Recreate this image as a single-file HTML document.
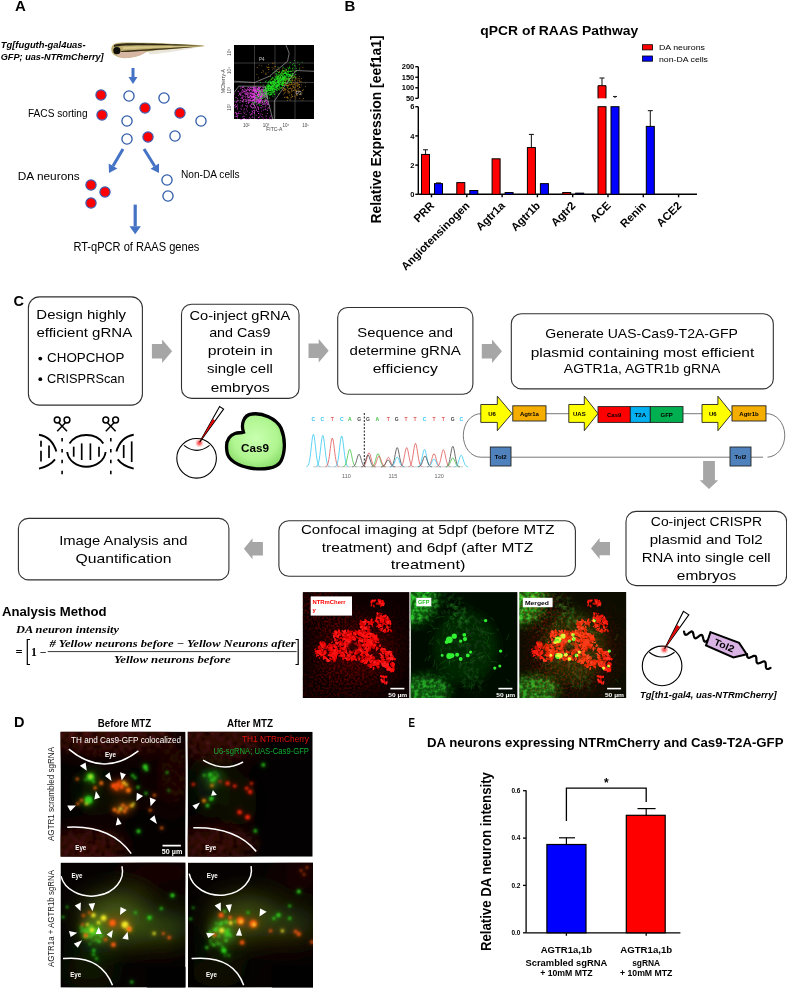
<!DOCTYPE html>
<html><head><meta charset="utf-8"><style>
html,body{margin:0;padding:0;background:#fff;}
body{width:787px;height:990px;overflow:hidden;position:relative;-webkit-font-smoothing:antialiased;}
svg{position:absolute;left:0;top:0;will-change:transform;}
text{font-family:"Liberation Sans", sans-serif;}
</style></head><body>
<svg width="787" height="990" viewBox="0 0 787 990">
<defs>
<filter id="blur1" x="-20%" y="-20%" width="140%" height="140%"><feGaussianBlur stdDeviation="1"/></filter>
<filter id="blur05" x="-20%" y="-20%" width="140%" height="140%"><feGaussianBlur stdDeviation="0.5"/></filter>
<filter id="blur2" x="-50%" y="-50%" width="200%" height="200%"><feGaussianBlur stdDeviation="2"/></filter>
<filter id="blur4" x="-100%" y="-100%" width="300%" height="300%"><feGaussianBlur stdDeviation="5"/></filter>
<filter id="blur8" x="-100%" y="-100%" width="300%" height="300%"><feGaussianBlur stdDeviation="12"/></filter>
</defs>

<text x="15" y="11" font-size="15" font-weight="bold" fill="#000">A</text>
<text x="0.7" y="47.8" font-size="9.8" font-weight="bold" font-style="italic" textLength="85" lengthAdjust="spacingAndGlyphs" fill="#000">Tg[fuguth-gal4uas-</text>
<text x="0.7" y="60.3" font-size="9.8" font-weight="bold" font-style="italic" textLength="103" lengthAdjust="spacingAndGlyphs" fill="#000">GFP; uas-NTRmCherry]</text>
<g>
<path d="M146,49.5 C165,48 185,46.5 203,46.3 C190,49 170,52.5 150,54.5 Z" fill="#e9e5da"/>
<path d="M111.3,50 C111,46 113.5,43 119,42.7 C135,42.3 160,43.4 189,44.4 C196,44.8 201,45.1 204.2,45.6 L204.2,46.3 C198,46.9 190,47.6 180,48.5 C165,49.5 152,50.5 147,51.8 C143,54 138,57.2 127,58.1 C118,58.5 111.5,55 111.3,50 Z" fill="#bfae6e"/>
<path d="M120,52 C128,50.5 140,50.2 147,51.8 C143,54 138,57.2 127,58.1 C121,58.2 117,56 116,54 Z" fill="#d7b6a4"/>
<path d="M114,45 C120,42.6 140,42.6 204,45.6 C170,45.2 140,44.8 125,45.6 C120,46 117,46.5 114,47 Z" fill="#2e2a16"/>
<path d="M121,51 C135,49.8 165,48.2 204,46 C175,48.8 150,50.6 135,51.5 C128,52 123,52.2 121,52 Z" fill="#3c3418"/>
<path d="M123,47 C140,46 170,45.8 200,45.9 C170,47 140,48.3 123,49 Z" fill="#d6c88a"/>
<circle cx="116.9" cy="50.7" r="3.6" fill="#0e0e0a"/>
</g>
<line x1="133" y1="68" x2="133.00" y2="77.00" stroke="#4472c4" stroke-width="3"/>
<polygon points="133,84 128.50,77.00 137.50,77.00" fill="#4472c4"/>
<line x1="123" y1="149" x2="113.03" y2="166.09" stroke="#4472c4" stroke-width="3"/>
<polygon points="109,173 108.71,163.57 117.35,168.61" fill="#4472c4"/>
<line x1="144" y1="149" x2="154.76" y2="166.22" stroke="#4472c4" stroke-width="3"/>
<polygon points="159,173 150.52,168.87 159.00,163.57" fill="#4472c4"/>
<line x1="135.2" y1="204.6" x2="135.20" y2="226.30" stroke="#4472c4" stroke-width="3.2"/>
<polygon points="135.2,234.3 129.50,226.30 140.90,226.30" fill="#4472c4"/>
<circle cx="101" cy="95" r="5.1" fill="#f00" stroke="#3a5ab0" stroke-width="1.2"/>
<circle cx="102" cy="115" r="5.1" fill="#f00" stroke="#3a5ab0" stroke-width="1.2"/>
<circle cx="145" cy="108" r="5.1" fill="#f00" stroke="#3a5ab0" stroke-width="1.2"/>
<circle cx="180" cy="113" r="5.1" fill="#f00" stroke="#3a5ab0" stroke-width="1.2"/>
<circle cx="148" cy="137" r="5.1" fill="#f00" stroke="#3a5ab0" stroke-width="1.2"/>
<circle cx="91" cy="185" r="5.1" fill="#f00" stroke="#3a5ab0" stroke-width="1.2"/>
<circle cx="105" cy="192" r="5.1" fill="#f00" stroke="#3a5ab0" stroke-width="1.2"/>
<circle cx="91" cy="203" r="5.1" fill="#f00" stroke="#3a5ab0" stroke-width="1.2"/>
<circle cx="129" cy="96" r="5.1" fill="#fff" stroke="#2f5aa8" stroke-width="1.3"/>
<circle cx="164" cy="98" r="5.1" fill="#fff" stroke="#2f5aa8" stroke-width="1.3"/>
<circle cx="201" cy="121" r="5.1" fill="#fff" stroke="#2f5aa8" stroke-width="1.3"/>
<circle cx="127" cy="121" r="5.1" fill="#fff" stroke="#2f5aa8" stroke-width="1.3"/>
<circle cx="127" cy="139" r="5.1" fill="#fff" stroke="#2f5aa8" stroke-width="1.3"/>
<circle cx="175" cy="136" r="5.1" fill="#fff" stroke="#2f5aa8" stroke-width="1.3"/>
<circle cx="167" cy="180" r="5.1" fill="#fff" stroke="#2f5aa8" stroke-width="1.3"/>
<circle cx="168" cy="196" r="5.1" fill="#fff" stroke="#2f5aa8" stroke-width="1.3"/>
<text x="28" y="116.8" font-size="10" textLength="59.6" lengthAdjust="spacingAndGlyphs" fill="#000">FACS sorting</text>
<text x="17.8" y="180.3" font-size="11" textLength="62" lengthAdjust="spacingAndGlyphs" fill="#000">DA neurons</text>
<text x="180.9" y="178.3" font-size="10" textLength="58.8" lengthAdjust="spacingAndGlyphs" fill="#000">Non-DA cells</text>
<text x="73.4" y="251" font-size="13" textLength="126" lengthAdjust="spacingAndGlyphs" fill="#000">RT-qPCR of RAAS genes</text>
<rect x="234" y="45" width="80" height="74" fill="#000"/>
<g stroke="#707070" stroke-width="0.5">
<line x1="254.5" y1="45" x2="254.5" y2="119"/>
<line x1="275" y1="45" x2="275" y2="119"/>
<line x1="295" y1="45" x2="295" y2="119"/>
<line x1="234" y1="63" x2="314" y2="63"/>
<line x1="234" y1="82.5" x2="314" y2="82.5"/>
<line x1="234" y1="101" x2="314" y2="101"/>
</g>
<g>
<path d="M294.7,83.7h0.8v0.8h-0.8zM286.7,84.6h0.8v0.8h-0.8zM291.7,83.6h0.8v0.8h-0.8zM284.5,84.3h0.8v0.8h-0.8zM297.9,84.6h0.8v0.8h-0.8zM287.8,86.3h0.8v0.8h-0.8zM287.6,88.0h0.8v0.8h-0.8zM285.6,83.5h0.8v0.8h-0.8zM297.3,78.5h0.8v0.8h-0.8zM294.0,75.8h0.8v0.8h-0.8zM291.3,94.0h0.8v0.8h-0.8zM287.5,92.4h0.8v0.8h-0.8zM301.5,92.6h0.8v0.8h-0.8zM305.0,82.4h0.8v0.8h-0.8zM292.1,87.9h0.8v0.8h-0.8zM279.4,88.4h0.8v0.8h-0.8zM284.4,79.6h0.8v0.8h-0.8zM292.5,86.5h0.8v0.8h-0.8zM297.3,82.8h0.8v0.8h-0.8zM284.5,88.0h0.8v0.8h-0.8zM285.5,89.1h0.8v0.8h-0.8zM294.9,89.5h0.8v0.8h-0.8zM291.4,89.3h0.8v0.8h-0.8zM283.0,90.4h0.8v0.8h-0.8zM299.4,79.5h0.8v0.8h-0.8zM292.5,80.3h0.8v0.8h-0.8zM288.8,83.2h0.8v0.8h-0.8zM289.0,91.6h0.8v0.8h-0.8zM276.0,75.4h0.8v0.8h-0.8zM294.9,87.0h0.8v0.8h-0.8zM281.6,88.5h0.8v0.8h-0.8zM293.3,81.8h0.8v0.8h-0.8zM305.0,86.3h0.8v0.8h-0.8zM295.9,90.7h0.8v0.8h-0.8zM291.0,89.8h0.8v0.8h-0.8zM288.8,78.1h0.8v0.8h-0.8zM287.1,90.5h0.8v0.8h-0.8zM301.0,78.2h0.8v0.8h-0.8zM301.9,90.3h0.8v0.8h-0.8zM293.2,90.3h0.8v0.8h-0.8zM282.7,87.2h0.8v0.8h-0.8zM288.2,85.0h0.8v0.8h-0.8zM301.1,84.5h0.8v0.8h-0.8zM278.8,73.7h0.8v0.8h-0.8zM299.0,85.9h0.8v0.8h-0.8zM283.1,90.0h0.8v0.8h-0.8zM290.9,84.2h0.8v0.8h-0.8zM288.9,78.4h0.8v0.8h-0.8zM288.4,83.8h0.8v0.8h-0.8zM298.2,88.4h0.8v0.8h-0.8zM287.5,98.0h0.8v0.8h-0.8zM298.7,84.3h0.8v0.8h-0.8zM295.1,83.4h0.8v0.8h-0.8zM287.9,91.1h0.8v0.8h-0.8zM290.0,87.4h0.8v0.8h-0.8zM284.7,89.6h0.8v0.8h-0.8zM296.7,84.9h0.8v0.8h-0.8zM291.1,83.4h0.8v0.8h-0.8zM290.7,91.8h0.8v0.8h-0.8zM291.7,80.2h0.8v0.8h-0.8zM299.3,80.9h0.8v0.8h-0.8zM298.8,75.9h0.8v0.8h-0.8zM287.6,78.4h0.8v0.8h-0.8zM294.4,83.5h0.8v0.8h-0.8zM284.4,82.3h0.8v0.8h-0.8zM289.3,94.7h0.8v0.8h-0.8zM292.3,96.1h0.8v0.8h-0.8zM296.8,94.8h0.8v0.8h-0.8zM280.6,72.9h0.8v0.8h-0.8zM284.7,77.8h0.8v0.8h-0.8zM282.8,78.5h0.8v0.8h-0.8zM283.3,70.3h0.8v0.8h-0.8zM298.6,78.1h0.8v0.8h-0.8zM293.3,86.9h0.8v0.8h-0.8zM293.7,71.3h0.8v0.8h-0.8zM295.4,98.4h0.8v0.8h-0.8zM297.3,86.2h0.8v0.8h-0.8zM295.4,90.4h0.8v0.8h-0.8zM295.5,78.1h0.8v0.8h-0.8zM295.5,79.3h0.8v0.8h-0.8zM295.4,89.4h0.8v0.8h-0.8zM286.5,80.2h0.8v0.8h-0.8zM298.7,85.8h0.8v0.8h-0.8zM283.6,89.9h0.8v0.8h-0.8zM287.1,90.5h0.8v0.8h-0.8zM289.4,92.8h0.8v0.8h-0.8zM296.6,84.3h0.8v0.8h-0.8zM294.4,80.0h0.8v0.8h-0.8zM278.8,92.9h0.8v0.8h-0.8zM289.0,80.2h0.8v0.8h-0.8zM299.4,98.0h0.8v0.8h-0.8zM287.0,97.1h0.8v0.8h-0.8zM295.3,81.5h0.8v0.8h-0.8zM289.4,88.2h0.8v0.8h-0.8zM291.0,82.3h0.8v0.8h-0.8zM290.0,84.5h0.8v0.8h-0.8zM297.1,94.8h0.8v0.8h-0.8zM290.8,88.0h0.8v0.8h-0.8zM294.1,89.7h0.8v0.8h-0.8zM295.1,85.5h0.8v0.8h-0.8zM293.2,89.9h0.8v0.8h-0.8zM287.4,90.3h0.8v0.8h-0.8zM285.5,81.7h0.8v0.8h-0.8zM282.3,80.9h0.8v0.8h-0.8zM289.9,84.7h0.8v0.8h-0.8zM296.6,94.0h0.8v0.8h-0.8zM286.9,85.6h0.8v0.8h-0.8zM297.5,80.3h0.8v0.8h-0.8zM283.9,84.7h0.8v0.8h-0.8zM299.1,80.4h0.8v0.8h-0.8zM290.0,75.3h0.8v0.8h-0.8zM284.7,83.2h0.8v0.8h-0.8zM279.6,78.7h0.8v0.8h-0.8zM288.4,84.7h0.8v0.8h-0.8zM287.8,97.6h0.8v0.8h-0.8zM291.3,90.7h0.8v0.8h-0.8zM295.3,96.6h0.8v0.8h-0.8zM291.3,71.3h0.8v0.8h-0.8zM283.5,76.3h0.8v0.8h-0.8zM292.0,96.0h0.8v0.8h-0.8zM281.8,86.8h0.8v0.8h-0.8zM293.9,83.8h0.8v0.8h-0.8zM299.3,83.9h0.8v0.8h-0.8zM295.8,91.1h0.8v0.8h-0.8zM283.9,70.6h0.8v0.8h-0.8zM293.9,76.6h0.8v0.8h-0.8zM291.6,80.7h0.8v0.8h-0.8zM294.0,83.4h0.8v0.8h-0.8zM289.3,84.3h0.8v0.8h-0.8zM292.6,83.7h0.8v0.8h-0.8zM295.6,76.6h0.8v0.8h-0.8zM286.0,85.3h0.8v0.8h-0.8zM287.5,78.2h0.8v0.8h-0.8zM287.6,81.3h0.8v0.8h-0.8zM295.2,92.6h0.8v0.8h-0.8zM289.9,81.9h0.8v0.8h-0.8zM292.3,76.4h0.8v0.8h-0.8zM293.3,86.0h0.8v0.8h-0.8zM277.9,82.1h0.8v0.8h-0.8zM302.5,90.2h0.8v0.8h-0.8zM286.6,79.1h0.8v0.8h-0.8zM283.5,88.3h0.8v0.8h-0.8zM292.1,85.8h0.8v0.8h-0.8zM289.5,88.3h0.8v0.8h-0.8zM294.4,87.7h0.8v0.8h-0.8zM284.0,81.9h0.8v0.8h-0.8zM294.1,95.8h0.8v0.8h-0.8zM297.5,83.2h0.8v0.8h-0.8zM284.2,97.3h0.8v0.8h-0.8zM296.9,81.7h0.8v0.8h-0.8zM300.6,94.4h0.8v0.8h-0.8zM287.4,84.9h0.8v0.8h-0.8zM293.3,84.4h0.8v0.8h-0.8zM287.0,100.3h0.8v0.8h-0.8zM285.3,79.7h0.8v0.8h-0.8zM283.4,83.9h0.8v0.8h-0.8zM285.4,82.3h0.8v0.8h-0.8zM291.3,78.5h0.8v0.8h-0.8zM292.6,77.6h0.8v0.8h-0.8zM286.7,82.8h0.8v0.8h-0.8zM289.6,99.3h0.8v0.8h-0.8zM299.4,67.6h0.8v0.8h-0.8zM302.8,89.0h0.8v0.8h-0.8zM289.6,78.1h0.8v0.8h-0.8zM301.4,81.5h0.8v0.8h-0.8zM289.8,75.0h0.8v0.8h-0.8zM283.5,70.9h0.8v0.8h-0.8zM285.3,82.5h0.8v0.8h-0.8zM291.3,94.7h0.8v0.8h-0.8zM299.1,90.6h0.8v0.8h-0.8zM290.8,96.6h0.8v0.8h-0.8zM291.6,79.7h0.8v0.8h-0.8zM296.1,82.6h0.8v0.8h-0.8zM301.8,99.7h0.8v0.8h-0.8zM288.2,92.4h0.8v0.8h-0.8zM297.9,90.5h0.8v0.8h-0.8zM297.3,84.8h0.8v0.8h-0.8zM284.9,91.6h0.8v0.8h-0.8zM292.1,76.4h0.8v0.8h-0.8zM291.1,82.3h0.8v0.8h-0.8zM302.5,66.9h0.8v0.8h-0.8zM299.6,87.1h0.8v0.8h-0.8zM297.1,88.5h0.8v0.8h-0.8zM284.7,96.7h0.8v0.8h-0.8zM286.0,97.2h0.8v0.8h-0.8zM286.1,69.1h0.8v0.8h-0.8zM289.7,76.3h0.8v0.8h-0.8zM291.9,90.6h0.8v0.8h-0.8zM283.1,93.7h0.8v0.8h-0.8zM289.7,80.5h0.8v0.8h-0.8zM295.7,94.9h0.8v0.8h-0.8zM291.9,76.5h0.8v0.8h-0.8zM298.5,90.2h0.8v0.8h-0.8zM284.2,82.2h0.8v0.8h-0.8zM291.3,94.2h0.8v0.8h-0.8zM283.8,88.7h0.8v0.8h-0.8zM303.1,98.1h0.8v0.8h-0.8zM286.7,95.9h0.8v0.8h-0.8zM287.9,89.5h0.8v0.8h-0.8zM296.4,90.3h0.8v0.8h-0.8zM298.8,93.7h0.8v0.8h-0.8zM295.6,85.7h0.8v0.8h-0.8zM285.9,85.5h0.8v0.8h-0.8zM299.1,87.2h0.8v0.8h-0.8zM288.5,79.7h0.8v0.8h-0.8zM284.6,89.5h0.8v0.8h-0.8zM284.5,88.5h0.8v0.8h-0.8zM290.6,97.5h0.8v0.8h-0.8zM292.8,77.1h0.8v0.8h-0.8zM293.8,87.5h0.8v0.8h-0.8zM288.7,88.3h0.8v0.8h-0.8zM289.7,99.6h0.8v0.8h-0.8zM295.6,89.5h0.8v0.8h-0.8zM284.0,92.6h0.8v0.8h-0.8zM300.2,81.5h0.8v0.8h-0.8zM285.7,78.1h0.8v0.8h-0.8zM268.0,66.7h0.8v0.8h-0.8zM276.3,68.9h0.8v0.8h-0.8zM256.5,74.2h0.8v0.8h-0.8zM272.1,63.3h0.8v0.8h-0.8zM268.1,63.9h0.8v0.8h-0.8zM279.1,78.4h0.8v0.8h-0.8zM284.7,70.3h0.8v0.8h-0.8zM268.1,69.3h0.8v0.8h-0.8zM256.8,67.1h0.8v0.8h-0.8zM279.3,70.8h0.8v0.8h-0.8zM268.6,76.0h0.8v0.8h-0.8zM261.3,65.4h0.8v0.8h-0.8zM267.3,67.1h0.8v0.8h-0.8zM283.9,79.2h0.8v0.8h-0.8zM272.4,69.4h0.8v0.8h-0.8zM260.4,79.7h0.8v0.8h-0.8zM264.9,73.7h0.8v0.8h-0.8zM273.6,62.6h0.8v0.8h-0.8zM271.7,67.3h0.8v0.8h-0.8zM270.6,78.9h0.8v0.8h-0.8zM278.2,76.0h0.8v0.8h-0.8zM278.6,68.9h0.8v0.8h-0.8zM277.1,70.9h0.8v0.8h-0.8zM280.4,76.1h0.8v0.8h-0.8zM268.6,67.3h0.8v0.8h-0.8zM282.4,68.2h0.8v0.8h-0.8zM266.3,66.4h0.8v0.8h-0.8zM284.3,77.1h0.8v0.8h-0.8zM258.8,64.8h0.8v0.8h-0.8zM265.5,72.7h0.8v0.8h-0.8zM286.0,70.5h0.8v0.8h-0.8zM267.6,71.8h0.8v0.8h-0.8zM263.0,71.5h0.8v0.8h-0.8zM272.5,78.5h0.8v0.8h-0.8zM268.5,68.9h0.8v0.8h-0.8zM284.8,62.2h0.8v0.8h-0.8zM281.6,72.3h0.8v0.8h-0.8zM272.9,67.7h0.8v0.8h-0.8zM279.8,77.9h0.8v0.8h-0.8zM282.2,73.3h0.8v0.8h-0.8zM262.6,69.9h0.8v0.8h-0.8zM261.3,72.2h0.8v0.8h-0.8zM277.6,67.4h0.8v0.8h-0.8zM282.9,70.5h0.8v0.8h-0.8zM279.1,71.5h0.8v0.8h-0.8zM282.5,77.5h0.8v0.8h-0.8zM275.2,66.3h0.8v0.8h-0.8zM258.1,77.4h0.8v0.8h-0.8zM265.8,73.8h0.8v0.8h-0.8zM274.3,66.0h0.8v0.8h-0.8z" fill="#b07818"/>
<path d="M250.1,91.9h0.8v0.8h-0.8zM258.4,117.2h0.8v0.8h-0.8zM261.1,97.6h0.8v0.8h-0.8zM254.0,90.9h0.8v0.8h-0.8zM252.5,91.3h0.8v0.8h-0.8zM238.2,111.8h0.8v0.8h-0.8zM257.0,89.1h0.8v0.8h-0.8zM249.8,118.0h0.8v0.8h-0.8zM253.8,92.4h0.8v0.8h-0.8zM243.1,86.9h0.8v0.8h-0.8zM250.0,88.8h0.8v0.8h-0.8zM259.4,92.5h0.8v0.8h-0.8zM255.8,95.4h0.8v0.8h-0.8zM262.7,95.4h0.8v0.8h-0.8zM247.5,92.1h0.8v0.8h-0.8zM260.8,90.8h0.8v0.8h-0.8zM246.1,118.8h0.8v0.8h-0.8zM246.6,96.0h0.8v0.8h-0.8zM242.9,95.4h0.8v0.8h-0.8zM239.8,94.0h0.8v0.8h-0.8zM256.7,98.0h0.8v0.8h-0.8zM242.3,89.6h0.8v0.8h-0.8zM258.2,96.4h0.8v0.8h-0.8zM242.2,87.3h0.8v0.8h-0.8zM258.9,102.4h0.8v0.8h-0.8zM259.1,87.7h0.8v0.8h-0.8zM261.6,95.9h0.8v0.8h-0.8zM255.0,86.5h0.8v0.8h-0.8zM264.4,92.1h0.8v0.8h-0.8zM258.9,98.2h0.8v0.8h-0.8zM253.6,98.0h0.8v0.8h-0.8zM255.2,98.3h0.8v0.8h-0.8zM241.5,92.4h0.8v0.8h-0.8zM258.3,108.6h0.8v0.8h-0.8zM258.1,100.7h0.8v0.8h-0.8zM260.8,94.3h0.8v0.8h-0.8zM237.3,103.8h0.8v0.8h-0.8zM262.7,94.2h0.8v0.8h-0.8zM243.3,90.8h0.8v0.8h-0.8zM251.5,93.0h0.8v0.8h-0.8zM250.1,94.8h0.8v0.8h-0.8zM242.1,86.8h0.8v0.8h-0.8zM255.0,97.8h0.8v0.8h-0.8zM265.2,87.4h0.8v0.8h-0.8zM255.6,91.0h0.8v0.8h-0.8zM252.7,97.1h0.8v0.8h-0.8zM260.8,102.8h0.8v0.8h-0.8zM260.1,100.8h0.8v0.8h-0.8zM258.6,96.2h0.8v0.8h-0.8zM234.6,112.4h0.8v0.8h-0.8zM235.6,105.4h0.8v0.8h-0.8zM262.9,103.9h0.8v0.8h-0.8zM259.8,114.8h0.8v0.8h-0.8zM252.8,99.8h0.8v0.8h-0.8zM248.3,102.2h0.8v0.8h-0.8zM261.3,88.7h0.8v0.8h-0.8zM247.9,118.8h0.8v0.8h-0.8zM250.0,99.8h0.8v0.8h-0.8zM253.3,86.5h0.8v0.8h-0.8zM237.0,99.8h0.8v0.8h-0.8zM258.4,111.2h0.8v0.8h-0.8zM251.7,102.9h0.8v0.8h-0.8zM260.4,95.1h0.8v0.8h-0.8zM262.3,101.9h0.8v0.8h-0.8zM262.5,102.1h0.8v0.8h-0.8zM262.2,92.9h0.8v0.8h-0.8zM259.9,94.4h0.8v0.8h-0.8zM254.4,90.4h0.8v0.8h-0.8zM240.6,98.3h0.8v0.8h-0.8zM258.3,87.5h0.8v0.8h-0.8zM252.4,107.9h0.8v0.8h-0.8zM255.9,104.6h0.8v0.8h-0.8zM253.8,100.9h0.8v0.8h-0.8zM256.5,93.0h0.8v0.8h-0.8zM243.3,117.9h0.8v0.8h-0.8zM250.0,93.5h0.8v0.8h-0.8zM243.0,99.0h0.8v0.8h-0.8zM265.7,94.2h0.8v0.8h-0.8zM264.0,103.8h0.8v0.8h-0.8zM251.1,113.7h0.8v0.8h-0.8zM255.4,88.0h0.8v0.8h-0.8zM256.1,99.4h0.8v0.8h-0.8zM237.1,113.5h0.8v0.8h-0.8zM240.3,100.2h0.8v0.8h-0.8zM253.8,102.8h0.8v0.8h-0.8zM267.1,110.2h0.8v0.8h-0.8zM245.1,97.5h0.8v0.8h-0.8zM267.9,104.2h0.8v0.8h-0.8zM251.5,99.8h0.8v0.8h-0.8zM261.5,93.4h0.8v0.8h-0.8zM254.0,90.1h0.8v0.8h-0.8zM240.3,118.9h0.8v0.8h-0.8zM243.8,86.5h0.8v0.8h-0.8zM238.3,91.0h0.8v0.8h-0.8zM258.5,96.4h0.8v0.8h-0.8zM264.5,96.1h0.8v0.8h-0.8zM242.1,105.7h0.8v0.8h-0.8zM249.2,88.7h0.8v0.8h-0.8zM251.2,97.5h0.8v0.8h-0.8zM256.6,97.4h0.8v0.8h-0.8zM260.9,93.4h0.8v0.8h-0.8zM261.8,92.6h0.8v0.8h-0.8zM245.7,114.0h0.8v0.8h-0.8zM250.4,98.1h0.8v0.8h-0.8zM265.6,104.9h0.8v0.8h-0.8zM250.8,90.6h0.8v0.8h-0.8zM270.1,115.7h0.8v0.8h-0.8zM247.7,87.3h0.8v0.8h-0.8zM255.7,101.5h0.8v0.8h-0.8zM258.5,94.1h0.8v0.8h-0.8zM255.7,88.0h0.8v0.8h-0.8zM254.5,110.0h0.8v0.8h-0.8zM244.3,98.7h0.8v0.8h-0.8zM252.9,96.7h0.8v0.8h-0.8zM246.2,108.6h0.8v0.8h-0.8zM261.1,100.5h0.8v0.8h-0.8zM257.5,88.8h0.8v0.8h-0.8zM264.7,108.9h0.8v0.8h-0.8zM236.0,112.8h0.8v0.8h-0.8zM234.7,116.2h0.8v0.8h-0.8zM257.2,111.2h0.8v0.8h-0.8zM255.3,95.0h0.8v0.8h-0.8zM265.5,103.0h0.8v0.8h-0.8zM258.9,90.8h0.8v0.8h-0.8zM244.0,108.4h0.8v0.8h-0.8zM249.2,117.0h0.8v0.8h-0.8zM259.6,96.9h0.8v0.8h-0.8zM259.9,102.6h0.8v0.8h-0.8zM248.2,100.1h0.8v0.8h-0.8zM262.8,91.3h0.8v0.8h-0.8zM256.3,98.8h0.8v0.8h-0.8zM260.5,94.2h0.8v0.8h-0.8zM257.9,91.3h0.8v0.8h-0.8zM252.2,111.8h0.8v0.8h-0.8zM267.0,96.0h0.8v0.8h-0.8zM245.9,99.6h0.8v0.8h-0.8zM258.0,113.1h0.8v0.8h-0.8zM244.2,88.5h0.8v0.8h-0.8zM240.7,113.3h0.8v0.8h-0.8zM244.5,93.2h0.8v0.8h-0.8zM250.7,104.5h0.8v0.8h-0.8zM254.2,92.7h0.8v0.8h-0.8zM258.5,92.6h0.8v0.8h-0.8zM251.5,107.1h0.8v0.8h-0.8zM264.6,101.1h0.8v0.8h-0.8zM261.9,93.0h0.8v0.8h-0.8zM258.5,87.0h0.8v0.8h-0.8zM237.7,100.2h0.8v0.8h-0.8zM256.0,99.7h0.8v0.8h-0.8zM242.2,116.4h0.8v0.8h-0.8zM258.6,102.2h0.8v0.8h-0.8zM260.5,89.2h0.8v0.8h-0.8zM253.4,88.5h0.8v0.8h-0.8zM258.8,95.3h0.8v0.8h-0.8zM252.4,93.6h0.8v0.8h-0.8zM259.7,90.2h0.8v0.8h-0.8zM239.5,111.2h0.8v0.8h-0.8zM258.7,89.4h0.8v0.8h-0.8zM253.5,95.5h0.8v0.8h-0.8zM240.3,95.0h0.8v0.8h-0.8zM246.7,110.6h0.8v0.8h-0.8zM259.9,97.4h0.8v0.8h-0.8zM269.2,105.7h0.8v0.8h-0.8zM261.2,94.6h0.8v0.8h-0.8zM236.8,108.7h0.8v0.8h-0.8zM248.2,102.0h0.8v0.8h-0.8zM251.0,103.4h0.8v0.8h-0.8zM247.9,89.1h0.8v0.8h-0.8zM263.4,95.1h0.8v0.8h-0.8zM242.7,101.6h0.8v0.8h-0.8zM256.7,95.4h0.8v0.8h-0.8zM261.1,92.9h0.8v0.8h-0.8zM264.1,103.7h0.8v0.8h-0.8zM250.5,106.5h0.8v0.8h-0.8zM262.3,100.5h0.8v0.8h-0.8zM252.5,116.8h0.8v0.8h-0.8zM246.7,99.6h0.8v0.8h-0.8zM269.1,107.8h0.8v0.8h-0.8zM253.8,101.1h0.8v0.8h-0.8zM253.3,104.1h0.8v0.8h-0.8zM253.4,89.9h0.8v0.8h-0.8zM253.9,98.6h0.8v0.8h-0.8zM251.2,106.5h0.8v0.8h-0.8zM251.5,94.1h0.8v0.8h-0.8zM258.9,88.8h0.8v0.8h-0.8zM249.0,99.8h0.8v0.8h-0.8zM266.5,102.3h0.8v0.8h-0.8zM258.5,92.9h0.8v0.8h-0.8zM263.0,93.1h0.8v0.8h-0.8zM254.5,99.8h0.8v0.8h-0.8zM249.0,87.7h0.8v0.8h-0.8zM262.2,94.3h0.8v0.8h-0.8zM246.9,97.8h0.8v0.8h-0.8zM258.3,94.2h0.8v0.8h-0.8zM263.2,103.5h0.8v0.8h-0.8zM265.4,106.4h0.8v0.8h-0.8zM258.5,89.2h0.8v0.8h-0.8zM263.8,95.4h0.8v0.8h-0.8zM260.7,107.8h0.8v0.8h-0.8zM242.9,99.1h0.8v0.8h-0.8zM247.0,105.4h0.8v0.8h-0.8zM259.4,100.9h0.8v0.8h-0.8zM259.0,88.1h0.8v0.8h-0.8zM258.0,89.7h0.8v0.8h-0.8zM250.3,87.1h0.8v0.8h-0.8zM258.0,89.2h0.8v0.8h-0.8zM265.4,98.3h0.8v0.8h-0.8zM261.1,96.1h0.8v0.8h-0.8zM261.1,95.2h0.8v0.8h-0.8zM257.5,95.7h0.8v0.8h-0.8zM265.3,94.4h0.8v0.8h-0.8zM254.7,95.8h0.8v0.8h-0.8zM256.1,91.8h0.8v0.8h-0.8zM260.5,107.1h0.8v0.8h-0.8zM256.1,89.8h0.8v0.8h-0.8zM257.6,94.1h0.8v0.8h-0.8zM236.1,116.3h0.8v0.8h-0.8zM253.5,95.8h0.8v0.8h-0.8zM248.6,96.2h0.8v0.8h-0.8zM259.9,92.3h0.8v0.8h-0.8zM259.3,89.9h0.8v0.8h-0.8zM256.1,110.0h0.8v0.8h-0.8zM252.5,89.8h0.8v0.8h-0.8zM253.5,93.2h0.8v0.8h-0.8zM254.9,86.7h0.8v0.8h-0.8zM260.0,98.6h0.8v0.8h-0.8zM251.1,87.5h0.8v0.8h-0.8zM256.5,102.5h0.8v0.8h-0.8zM249.8,114.3h0.8v0.8h-0.8zM255.7,98.7h0.8v0.8h-0.8zM252.8,91.0h0.8v0.8h-0.8zM258.6,95.7h0.8v0.8h-0.8zM257.7,90.0h0.8v0.8h-0.8zM235.6,97.1h0.8v0.8h-0.8zM253.3,86.3h0.8v0.8h-0.8zM265.8,116.0h0.8v0.8h-0.8zM250.6,100.1h0.8v0.8h-0.8zM259.6,100.0h0.8v0.8h-0.8zM259.2,92.4h0.8v0.8h-0.8zM261.5,116.2h0.8v0.8h-0.8zM256.0,91.0h0.8v0.8h-0.8zM236.0,106.1h0.8v0.8h-0.8zM258.4,103.1h0.8v0.8h-0.8zM255.1,90.1h0.8v0.8h-0.8zM252.2,99.8h0.8v0.8h-0.8zM256.0,92.1h0.8v0.8h-0.8zM265.8,92.7h0.8v0.8h-0.8zM254.1,105.1h0.8v0.8h-0.8zM253.0,102.4h0.8v0.8h-0.8zM258.0,91.8h0.8v0.8h-0.8zM246.4,101.3h0.8v0.8h-0.8zM264.6,96.8h0.8v0.8h-0.8zM254.8,89.9h0.8v0.8h-0.8zM256.4,98.3h0.8v0.8h-0.8zM252.7,93.3h0.8v0.8h-0.8zM248.8,97.1h0.8v0.8h-0.8zM242.1,88.9h0.8v0.8h-0.8zM267.8,102.4h0.8v0.8h-0.8zM248.3,100.6h0.8v0.8h-0.8zM248.9,99.6h0.8v0.8h-0.8zM236.0,116.3h0.8v0.8h-0.8zM267.7,101.3h0.8v0.8h-0.8zM250.4,95.2h0.8v0.8h-0.8zM259.4,100.5h0.8v0.8h-0.8zM259.5,101.9h0.8v0.8h-0.8zM258.5,91.8h0.8v0.8h-0.8zM252.7,95.9h0.8v0.8h-0.8zM253.2,88.0h0.8v0.8h-0.8zM255.1,89.1h0.8v0.8h-0.8zM257.3,94.9h0.8v0.8h-0.8zM246.7,94.1h0.8v0.8h-0.8zM245.5,93.7h0.8v0.8h-0.8zM248.2,94.7h0.8v0.8h-0.8zM265.4,90.5h0.8v0.8h-0.8zM265.2,92.3h0.8v0.8h-0.8zM261.2,104.9h0.8v0.8h-0.8zM259.2,91.4h0.8v0.8h-0.8zM241.0,90.8h0.8v0.8h-0.8zM246.3,93.8h0.8v0.8h-0.8zM248.3,87.2h0.8v0.8h-0.8zM263.3,109.6h0.8v0.8h-0.8zM265.4,106.2h0.8v0.8h-0.8zM243.2,115.8h0.8v0.8h-0.8zM265.6,101.2h0.8v0.8h-0.8zM263.6,106.6h0.8v0.8h-0.8zM252.7,93.3h0.8v0.8h-0.8zM253.8,95.8h0.8v0.8h-0.8zM261.5,93.5h0.8v0.8h-0.8zM258.6,91.9h0.8v0.8h-0.8zM261.8,94.3h0.8v0.8h-0.8zM261.9,86.7h0.8v0.8h-0.8zM262.3,102.7h0.8v0.8h-0.8zM242.6,96.9h0.8v0.8h-0.8zM259.2,93.6h0.8v0.8h-0.8zM260.2,100.1h0.8v0.8h-0.8zM235.4,112.3h0.8v0.8h-0.8zM243.7,116.0h0.8v0.8h-0.8zM264.2,93.5h0.8v0.8h-0.8zM263.1,89.3h0.8v0.8h-0.8zM254.5,99.9h0.8v0.8h-0.8zM249.6,93.3h0.8v0.8h-0.8zM261.0,94.1h0.8v0.8h-0.8zM261.6,116.5h0.8v0.8h-0.8zM255.7,114.7h0.8v0.8h-0.8zM259.6,96.4h0.8v0.8h-0.8zM261.5,93.0h0.8v0.8h-0.8zM262.5,95.0h0.8v0.8h-0.8zM260.9,94.2h0.8v0.8h-0.8zM236.5,101.1h0.8v0.8h-0.8zM261.8,96.2h0.8v0.8h-0.8zM251.1,96.5h0.8v0.8h-0.8zM254.9,100.6h0.8v0.8h-0.8zM234.3,93.6h0.8v0.8h-0.8zM253.5,111.9h0.8v0.8h-0.8zM257.5,94.0h0.8v0.8h-0.8zM243.6,109.5h0.8v0.8h-0.8zM262.6,117.5h0.8v0.8h-0.8zM262.8,87.3h0.8v0.8h-0.8zM257.6,96.6h0.8v0.8h-0.8zM246.9,97.4h0.8v0.8h-0.8zM259.9,86.8h0.8v0.8h-0.8zM259.4,86.9h0.8v0.8h-0.8zM261.5,100.2h0.8v0.8h-0.8zM260.5,91.6h0.8v0.8h-0.8zM263.7,86.9h0.8v0.8h-0.8zM257.8,119.0h0.8v0.8h-0.8zM266.6,97.4h0.8v0.8h-0.8zM251.8,97.6h0.8v0.8h-0.8zM247.6,93.2h0.8v0.8h-0.8zM262.1,90.6h0.8v0.8h-0.8zM247.5,89.9h0.8v0.8h-0.8zM257.9,99.0h0.8v0.8h-0.8zM255.0,90.5h0.8v0.8h-0.8zM258.0,91.4h0.8v0.8h-0.8zM266.6,97.1h0.8v0.8h-0.8zM243.0,86.5h0.8v0.8h-0.8zM255.8,104.8h0.8v0.8h-0.8zM254.7,94.4h0.8v0.8h-0.8zM265.1,92.6h0.8v0.8h-0.8zM265.3,93.6h0.8v0.8h-0.8zM267.4,97.7h0.8v0.8h-0.8zM254.8,92.1h0.8v0.8h-0.8zM241.4,97.5h0.8v0.8h-0.8zM247.0,92.5h0.8v0.8h-0.8zM259.6,97.8h0.8v0.8h-0.8zM239.0,93.0h0.8v0.8h-0.8zM258.9,92.0h0.8v0.8h-0.8zM252.1,92.8h0.8v0.8h-0.8zM256.6,91.4h0.8v0.8h-0.8zM250.1,105.6h0.8v0.8h-0.8zM266.7,97.4h0.8v0.8h-0.8zM253.0,90.1h0.8v0.8h-0.8zM252.6,97.3h0.8v0.8h-0.8zM250.5,92.9h0.8v0.8h-0.8zM257.4,107.3h0.8v0.8h-0.8zM262.1,88.9h0.8v0.8h-0.8zM255.9,90.0h0.8v0.8h-0.8zM258.5,94.8h0.8v0.8h-0.8zM262.2,106.5h0.8v0.8h-0.8zM252.6,106.9h0.8v0.8h-0.8zM259.1,116.5h0.8v0.8h-0.8zM258.0,93.5h0.8v0.8h-0.8zM240.5,94.6h0.8v0.8h-0.8zM265.7,100.1h0.8v0.8h-0.8zM264.8,100.3h0.8v0.8h-0.8zM242.4,100.8h0.8v0.8h-0.8zM254.3,96.4h0.8v0.8h-0.8zM252.9,93.7h0.8v0.8h-0.8zM259.0,100.9h0.8v0.8h-0.8zM252.1,116.5h0.8v0.8h-0.8zM264.3,101.0h0.8v0.8h-0.8zM252.5,87.1h0.8v0.8h-0.8zM253.8,97.2h0.8v0.8h-0.8zM241.9,101.2h0.8v0.8h-0.8zM265.8,118.4h0.8v0.8h-0.8zM254.0,105.8h0.8v0.8h-0.8zM264.1,91.7h0.8v0.8h-0.8zM263.7,89.5h0.8v0.8h-0.8zM266.7,102.8h0.8v0.8h-0.8zM243.7,91.2h0.8v0.8h-0.8zM266.1,99.6h0.8v0.8h-0.8zM252.5,95.8h0.8v0.8h-0.8zM261.8,101.0h0.8v0.8h-0.8zM258.4,90.0h0.8v0.8h-0.8zM256.3,98.9h0.8v0.8h-0.8zM256.7,89.1h0.8v0.8h-0.8zM253.6,86.9h0.8v0.8h-0.8zM255.7,91.5h0.8v0.8h-0.8zM254.2,112.9h0.8v0.8h-0.8zM266.4,97.1h0.8v0.8h-0.8zM263.0,93.5h0.8v0.8h-0.8zM252.0,100.4h0.8v0.8h-0.8zM262.4,92.8h0.8v0.8h-0.8zM249.0,97.2h0.8v0.8h-0.8zM240.5,86.9h0.8v0.8h-0.8zM234.7,107.0h0.8v0.8h-0.8zM245.5,99.4h0.8v0.8h-0.8zM234.9,106.4h0.8v0.8h-0.8zM249.2,90.1h0.8v0.8h-0.8zM263.9,94.6h0.8v0.8h-0.8zM259.0,101.8h0.8v0.8h-0.8zM252.4,103.9h0.8v0.8h-0.8zM264.9,94.4h0.8v0.8h-0.8zM254.8,92.0h0.8v0.8h-0.8zM244.8,92.9h0.8v0.8h-0.8zM260.1,91.8h0.8v0.8h-0.8zM265.7,115.4h0.8v0.8h-0.8zM237.2,97.9h0.8v0.8h-0.8zM252.0,101.7h0.8v0.8h-0.8zM241.9,96.5h0.8v0.8h-0.8zM246.9,88.7h0.8v0.8h-0.8zM245.4,105.3h0.8v0.8h-0.8zM245.2,89.6h0.8v0.8h-0.8zM249.1,101.8h0.8v0.8h-0.8zM252.7,94.6h0.8v0.8h-0.8zM257.1,93.9h0.8v0.8h-0.8zM254.7,91.2h0.8v0.8h-0.8zM239.2,94.0h0.8v0.8h-0.8zM266.8,103.9h0.8v0.8h-0.8zM249.6,99.3h0.8v0.8h-0.8zM255.2,107.3h0.8v0.8h-0.8zM251.8,95.9h0.8v0.8h-0.8zM253.4,89.0h0.8v0.8h-0.8zM244.7,111.8h0.8v0.8h-0.8zM260.9,98.9h0.8v0.8h-0.8zM254.0,89.1h0.8v0.8h-0.8zM262.2,100.7h0.8v0.8h-0.8zM263.6,89.9h0.8v0.8h-0.8zM236.5,113.2h0.8v0.8h-0.8zM255.7,91.9h0.8v0.8h-0.8zM259.7,94.4h0.8v0.8h-0.8zM262.7,88.2h0.8v0.8h-0.8zM264.4,94.0h0.8v0.8h-0.8zM253.6,89.2h0.8v0.8h-0.8zM245.3,99.3h0.8v0.8h-0.8zM257.8,94.5h0.8v0.8h-0.8zM264.1,102.2h0.8v0.8h-0.8zM257.6,96.2h0.8v0.8h-0.8zM267.5,108.3h0.8v0.8h-0.8zM251.1,103.6h0.8v0.8h-0.8zM261.0,95.0h0.8v0.8h-0.8zM258.3,86.8h0.8v0.8h-0.8zM261.2,96.9h0.8v0.8h-0.8zM265.2,90.6h0.8v0.8h-0.8zM260.3,92.5h0.8v0.8h-0.8zM259.1,93.8h0.8v0.8h-0.8zM240.8,105.5h0.8v0.8h-0.8zM250.4,100.4h0.8v0.8h-0.8zM261.9,96.8h0.8v0.8h-0.8zM260.1,86.9h0.8v0.8h-0.8zM239.4,113.3h0.8v0.8h-0.8zM257.7,87.6h0.8v0.8h-0.8zM257.8,93.8h0.8v0.8h-0.8zM250.4,95.1h0.8v0.8h-0.8zM265.8,93.1h0.8v0.8h-0.8zM254.2,111.9h0.8v0.8h-0.8zM264.0,101.1h0.8v0.8h-0.8zM262.0,102.2h0.8v0.8h-0.8zM264.2,95.7h0.8v0.8h-0.8zM251.5,113.0h0.8v0.8h-0.8zM257.2,106.3h0.8v0.8h-0.8zM253.7,96.9h0.8v0.8h-0.8zM244.1,113.3h0.8v0.8h-0.8zM266.7,96.8h0.8v0.8h-0.8zM267.9,107.2h0.8v0.8h-0.8zM252.8,104.4h0.8v0.8h-0.8zM246.3,103.3h0.8v0.8h-0.8zM260.5,113.4h0.8v0.8h-0.8zM252.8,104.1h0.8v0.8h-0.8zM261.1,110.8h0.8v0.8h-0.8zM251.8,113.7h0.8v0.8h-0.8zM257.3,98.0h0.8v0.8h-0.8zM250.3,99.5h0.8v0.8h-0.8zM237.2,117.6h0.8v0.8h-0.8zM261.2,89.3h0.8v0.8h-0.8zM236.3,113.8h0.8v0.8h-0.8zM255.7,100.9h0.8v0.8h-0.8zM250.7,101.0h0.8v0.8h-0.8zM253.3,96.3h0.8v0.8h-0.8zM260.2,96.3h0.8v0.8h-0.8zM256.8,103.6h0.8v0.8h-0.8zM258.2,109.3h0.8v0.8h-0.8zM262.2,104.2h0.8v0.8h-0.8zM255.7,97.1h0.8v0.8h-0.8zM241.7,96.7h0.8v0.8h-0.8zM267.0,100.8h0.8v0.8h-0.8zM247.1,96.0h0.8v0.8h-0.8zM258.1,93.0h0.8v0.8h-0.8zM262.0,95.8h0.8v0.8h-0.8zM235.1,103.9h0.8v0.8h-0.8zM256.8,90.4h0.8v0.8h-0.8zM254.3,117.8h0.8v0.8h-0.8zM241.8,92.1h0.8v0.8h-0.8zM242.8,100.1h0.8v0.8h-0.8zM264.5,99.4h0.8v0.8h-0.8zM253.2,109.9h0.8v0.8h-0.8zM263.5,100.4h0.8v0.8h-0.8zM248.2,103.0h0.8v0.8h-0.8zM240.8,109.2h0.8v0.8h-0.8zM263.3,95.6h0.8v0.8h-0.8zM265.2,108.6h0.8v0.8h-0.8zM248.4,96.2h0.8v0.8h-0.8zM251.2,96.0h0.8v0.8h-0.8zM261.3,91.0h0.8v0.8h-0.8zM247.1,95.2h0.8v0.8h-0.8zM248.8,97.5h0.8v0.8h-0.8zM253.5,104.4h0.8v0.8h-0.8zM259.7,96.5h0.8v0.8h-0.8zM243.7,95.9h0.8v0.8h-0.8zM243.1,111.7h0.8v0.8h-0.8zM250.7,97.0h0.8v0.8h-0.8zM261.8,96.3h0.8v0.8h-0.8zM251.9,87.5h0.8v0.8h-0.8zM250.9,93.0h0.8v0.8h-0.8zM254.5,96.0h0.8v0.8h-0.8zM246.5,101.5h0.8v0.8h-0.8zM242.0,98.3h0.8v0.8h-0.8zM252.9,94.1h0.8v0.8h-0.8zM255.2,88.8h0.8v0.8h-0.8zM253.0,87.2h0.8v0.8h-0.8zM266.0,95.3h0.8v0.8h-0.8zM255.5,98.9h0.8v0.8h-0.8zM263.1,90.0h0.8v0.8h-0.8zM259.1,90.4h0.8v0.8h-0.8zM238.2,112.9h0.8v0.8h-0.8zM256.1,109.5h0.8v0.8h-0.8zM261.7,91.0h0.8v0.8h-0.8zM258.5,95.6h0.8v0.8h-0.8zM251.3,95.8h0.8v0.8h-0.8zM259.6,96.6h0.8v0.8h-0.8zM259.7,98.3h0.8v0.8h-0.8zM266.0,91.4h0.8v0.8h-0.8zM260.2,101.3h0.8v0.8h-0.8zM254.6,95.0h0.8v0.8h-0.8zM247.4,87.8h0.8v0.8h-0.8zM248.7,100.4h0.8v0.8h-0.8zM249.6,105.4h0.8v0.8h-0.8zM255.3,106.4h0.8v0.8h-0.8zM254.2,94.5h0.8v0.8h-0.8zM245.4,89.2h0.8v0.8h-0.8zM237.6,90.8h0.8v0.8h-0.8zM248.9,100.0h0.8v0.8h-0.8zM242.5,90.8h0.8v0.8h-0.8zM254.8,91.6h0.8v0.8h-0.8zM252.5,89.1h0.8v0.8h-0.8zM245.8,99.7h0.8v0.8h-0.8zM251.6,110.6h0.8v0.8h-0.8zM247.9,97.1h0.8v0.8h-0.8zM249.3,95.8h0.8v0.8h-0.8zM246.9,106.7h0.8v0.8h-0.8zM259.1,93.8h0.8v0.8h-0.8zM240.5,107.7h0.8v0.8h-0.8zM256.1,95.5h0.8v0.8h-0.8zM256.0,93.2h0.8v0.8h-0.8zM245.4,101.0h0.8v0.8h-0.8zM262.1,94.8h0.8v0.8h-0.8zM253.0,98.9h0.8v0.8h-0.8zM256.1,97.2h0.8v0.8h-0.8zM259.5,96.6h0.8v0.8h-0.8zM258.2,106.7h0.8v0.8h-0.8zM256.8,94.1h0.8v0.8h-0.8zM257.5,99.8h0.8v0.8h-0.8zM258.1,117.1h0.8v0.8h-0.8zM250.7,90.3h0.8v0.8h-0.8zM246.2,89.8h0.8v0.8h-0.8zM263.0,118.7h0.8v0.8h-0.8zM252.6,99.2h0.8v0.8h-0.8zM253.6,88.2h0.8v0.8h-0.8zM259.2,94.3h0.8v0.8h-0.8zM254.8,97.9h0.8v0.8h-0.8zM260.9,95.8h0.8v0.8h-0.8zM257.9,100.6h0.8v0.8h-0.8zM236.9,106.7h0.8v0.8h-0.8zM269.3,118.8h0.8v0.8h-0.8zM266.7,96.3h0.8v0.8h-0.8zM264.8,89.5h0.8v0.8h-0.8zM234.4,101.5h0.8v0.8h-0.8zM258.1,96.1h0.8v0.8h-0.8zM249.3,112.3h0.8v0.8h-0.8zM265.5,96.0h0.8v0.8h-0.8zM251.7,116.8h0.8v0.8h-0.8zM256.7,94.4h0.8v0.8h-0.8zM258.1,91.4h0.8v0.8h-0.8zM247.1,94.3h0.8v0.8h-0.8zM260.4,97.6h0.8v0.8h-0.8zM260.6,90.2h0.8v0.8h-0.8zM259.9,92.5h0.8v0.8h-0.8zM259.8,97.3h0.8v0.8h-0.8zM261.0,94.7h0.8v0.8h-0.8zM253.7,99.9h0.8v0.8h-0.8zM254.6,86.4h0.8v0.8h-0.8zM270.8,115.7h0.8v0.8h-0.8zM257.3,100.6h0.8v0.8h-0.8zM240.5,92.8h0.8v0.8h-0.8zM260.7,92.7h0.8v0.8h-0.8zM256.9,95.1h0.8v0.8h-0.8zM253.9,96.8h0.8v0.8h-0.8zM258.7,94.4h0.8v0.8h-0.8zM255.8,87.2h0.8v0.8h-0.8zM259.0,99.3h0.8v0.8h-0.8zM264.7,90.8h0.8v0.8h-0.8zM249.6,95.6h0.8v0.8h-0.8zM260.5,90.6h0.8v0.8h-0.8zM262.2,96.7h0.8v0.8h-0.8zM266.5,101.9h0.8v0.8h-0.8zM257.0,98.9h0.8v0.8h-0.8zM258.5,112.7h0.8v0.8h-0.8zM260.5,99.3h0.8v0.8h-0.8zM260.0,97.0h0.8v0.8h-0.8zM260.6,95.5h0.8v0.8h-0.8zM254.0,101.7h0.8v0.8h-0.8zM256.4,101.8h0.8v0.8h-0.8zM265.0,99.6h0.8v0.8h-0.8zM253.2,88.9h0.8v0.8h-0.8zM255.0,97.0h0.8v0.8h-0.8zM261.4,92.8h0.8v0.8h-0.8zM263.3,91.3h0.8v0.8h-0.8zM259.9,96.0h0.8v0.8h-0.8zM252.3,96.7h0.8v0.8h-0.8zM256.1,90.9h0.8v0.8h-0.8zM244.0,91.1h0.8v0.8h-0.8zM254.4,99.0h0.8v0.8h-0.8zM262.2,98.3h0.8v0.8h-0.8zM265.7,102.2h0.8v0.8h-0.8zM251.7,97.8h0.8v0.8h-0.8zM250.8,89.1h0.8v0.8h-0.8zM256.7,91.4h0.8v0.8h-0.8zM254.4,110.9h0.8v0.8h-0.8zM245.1,95.7h0.8v0.8h-0.8zM243.7,89.7h0.8v0.8h-0.8zM246.3,92.6h0.8v0.8h-0.8zM244.2,118.2h0.8v0.8h-0.8zM249.3,91.6h0.8v0.8h-0.8zM247.9,99.2h0.8v0.8h-0.8zM259.7,94.8h0.8v0.8h-0.8zM237.1,115.8h0.8v0.8h-0.8zM257.8,107.8h0.8v0.8h-0.8zM266.6,109.5h0.8v0.8h-0.8zM259.2,94.0h0.8v0.8h-0.8zM260.8,98.4h0.8v0.8h-0.8zM262.7,91.7h0.8v0.8h-0.8zM255.7,88.6h0.8v0.8h-0.8zM236.8,115.9h0.8v0.8h-0.8zM246.0,105.8h0.8v0.8h-0.8zM239.7,92.6h0.8v0.8h-0.8zM256.4,100.6h0.8v0.8h-0.8zM255.6,108.3h0.8v0.8h-0.8zM264.6,103.4h0.8v0.8h-0.8zM257.6,99.6h0.8v0.8h-0.8zM252.9,100.3h0.8v0.8h-0.8zM237.9,95.0h0.8v0.8h-0.8zM240.5,87.9h0.8v0.8h-0.8zM258.0,92.5h0.8v0.8h-0.8zM252.0,97.6h0.8v0.8h-0.8zM249.3,93.6h0.8v0.8h-0.8zM246.2,90.5h0.8v0.8h-0.8zM242.3,104.4h0.8v0.8h-0.8zM241.8,95.2h0.8v0.8h-0.8zM266.2,99.6h0.8v0.8h-0.8zM252.8,103.0h0.8v0.8h-0.8zM263.1,95.0h0.8v0.8h-0.8zM237.5,115.2h0.8v0.8h-0.8zM263.8,97.5h0.8v0.8h-0.8zM235.9,102.3h0.8v0.8h-0.8zM251.6,96.0h0.8v0.8h-0.8zM253.6,93.2h0.8v0.8h-0.8zM267.3,103.6h0.8v0.8h-0.8zM258.1,87.1h0.8v0.8h-0.8zM260.0,91.0h0.8v0.8h-0.8zM257.1,88.1h0.8v0.8h-0.8zM252.7,87.3h0.8v0.8h-0.8zM257.5,100.9h0.8v0.8h-0.8zM261.1,90.3h0.8v0.8h-0.8zM256.1,98.5h0.8v0.8h-0.8zM237.0,105.4h0.8v0.8h-0.8zM236.4,114.4h0.8v0.8h-0.8zM251.3,92.3h0.8v0.8h-0.8zM239.6,102.0h0.8v0.8h-0.8zM252.5,92.8h0.8v0.8h-0.8zM266.8,94.7h0.8v0.8h-0.8zM260.8,98.1h0.8v0.8h-0.8zM258.4,88.4h0.8v0.8h-0.8zM270.9,118.8h0.8v0.8h-0.8zM261.2,96.1h0.8v0.8h-0.8zM252.0,90.5h0.8v0.8h-0.8zM257.3,91.3h0.8v0.8h-0.8zM258.0,102.6h0.8v0.8h-0.8zM264.7,90.8h0.8v0.8h-0.8zM254.5,93.9h0.8v0.8h-0.8zM247.6,89.1h0.8v0.8h-0.8zM262.6,89.9h0.8v0.8h-0.8zM234.1,105.2h0.8v0.8h-0.8zM248.3,102.3h0.8v0.8h-0.8zM264.2,89.0h0.8v0.8h-0.8zM253.9,96.5h0.8v0.8h-0.8zM265.9,92.9h0.8v0.8h-0.8zM261.2,98.8h0.8v0.8h-0.8zM253.5,107.3h0.8v0.8h-0.8zM241.1,118.9h0.8v0.8h-0.8zM253.9,97.6h0.8v0.8h-0.8zM262.5,93.5h0.8v0.8h-0.8zM262.6,91.0h0.8v0.8h-0.8zM253.1,99.6h0.8v0.8h-0.8zM248.4,93.4h0.8v0.8h-0.8zM258.0,101.4h0.8v0.8h-0.8zM245.6,91.2h0.8v0.8h-0.8zM254.0,105.8h0.8v0.8h-0.8zM259.0,99.7h0.8v0.8h-0.8zM259.1,101.1h0.8v0.8h-0.8zM261.9,114.2h0.8v0.8h-0.8zM250.1,87.2h0.8v0.8h-0.8zM258.9,88.5h0.8v0.8h-0.8zM243.6,92.3h0.8v0.8h-0.8zM237.3,108.5h0.8v0.8h-0.8zM253.2,94.4h0.8v0.8h-0.8zM251.4,97.8h0.8v0.8h-0.8zM258.6,98.7h0.8v0.8h-0.8zM261.0,98.3h0.8v0.8h-0.8zM268.0,103.8h0.8v0.8h-0.8zM249.9,88.9h0.8v0.8h-0.8zM253.9,88.8h0.8v0.8h-0.8zM258.0,99.9h0.8v0.8h-0.8zM235.5,111.7h0.8v0.8h-0.8zM260.6,107.8h0.8v0.8h-0.8zM254.7,96.7h0.8v0.8h-0.8zM250.3,96.0h0.8v0.8h-0.8zM250.3,114.6h0.8v0.8h-0.8zM258.9,99.7h0.8v0.8h-0.8zM254.0,93.8h0.8v0.8h-0.8zM260.3,93.4h0.8v0.8h-0.8zM248.8,89.7h0.8v0.8h-0.8zM266.9,113.1h0.8v0.8h-0.8zM254.1,94.3h0.8v0.8h-0.8zM269.3,117.5h0.8v0.8h-0.8zM251.9,110.9h0.8v0.8h-0.8zM259.7,90.9h0.8v0.8h-0.8zM258.9,98.6h0.8v0.8h-0.8zM245.5,94.2h0.8v0.8h-0.8zM260.5,92.2h0.8v0.8h-0.8zM253.2,102.6h0.8v0.8h-0.8zM262.7,94.7h0.8v0.8h-0.8zM245.1,91.6h0.8v0.8h-0.8zM244.6,93.4h0.8v0.8h-0.8zM262.1,89.1h0.8v0.8h-0.8zM257.8,95.8h0.8v0.8h-0.8zM253.9,99.0h0.8v0.8h-0.8zM263.8,95.6h0.8v0.8h-0.8zM265.4,104.5h0.8v0.8h-0.8zM254.3,87.7h0.8v0.8h-0.8zM265.3,92.7h0.8v0.8h-0.8z" fill="#e040e0"/>
<path d="M290.9,74.9h0.8v0.8h-0.8zM266.3,88.1h0.8v0.8h-0.8zM263.2,90.3h0.8v0.8h-0.8zM279.0,79.0h0.8v0.8h-0.8zM275.8,77.8h0.8v0.8h-0.8zM281.2,87.6h0.8v0.8h-0.8zM277.0,85.9h0.8v0.8h-0.8zM280.8,80.5h0.8v0.8h-0.8zM281.3,83.9h0.8v0.8h-0.8zM273.1,83.7h0.8v0.8h-0.8zM279.2,83.2h0.8v0.8h-0.8zM284.0,76.6h0.8v0.8h-0.8zM277.1,77.3h0.8v0.8h-0.8zM279.4,85.9h0.8v0.8h-0.8zM283.1,77.8h0.8v0.8h-0.8zM267.8,91.7h0.8v0.8h-0.8zM276.7,76.8h0.8v0.8h-0.8zM290.6,70.4h0.8v0.8h-0.8zM265.8,94.1h0.8v0.8h-0.8zM278.3,78.6h0.8v0.8h-0.8zM284.4,77.7h0.8v0.8h-0.8zM262.5,94.9h0.8v0.8h-0.8zM262.7,90.9h0.8v0.8h-0.8zM274.1,83.9h0.8v0.8h-0.8zM288.8,77.8h0.8v0.8h-0.8zM273.2,85.2h0.8v0.8h-0.8zM254.6,102.0h0.8v0.8h-0.8zM268.4,89.1h0.8v0.8h-0.8zM256.8,95.7h0.8v0.8h-0.8zM271.5,90.6h0.8v0.8h-0.8zM276.7,83.7h0.8v0.8h-0.8zM266.9,91.1h0.8v0.8h-0.8zM275.2,76.8h0.8v0.8h-0.8zM279.9,87.9h0.8v0.8h-0.8zM270.4,83.0h0.8v0.8h-0.8zM273.7,85.7h0.8v0.8h-0.8zM264.6,89.0h0.8v0.8h-0.8zM273.2,88.1h0.8v0.8h-0.8zM284.7,83.1h0.8v0.8h-0.8zM267.6,85.9h0.8v0.8h-0.8zM282.4,82.8h0.8v0.8h-0.8zM273.8,85.5h0.8v0.8h-0.8zM273.5,86.5h0.8v0.8h-0.8zM281.9,78.3h0.8v0.8h-0.8zM284.7,80.1h0.8v0.8h-0.8zM280.3,74.8h0.8v0.8h-0.8zM276.0,89.5h0.8v0.8h-0.8zM275.1,83.1h0.8v0.8h-0.8zM293.4,69.9h0.8v0.8h-0.8zM270.4,79.4h0.8v0.8h-0.8zM277.5,85.1h0.8v0.8h-0.8zM288.5,79.2h0.8v0.8h-0.8zM267.8,88.3h0.8v0.8h-0.8zM297.4,61.7h0.8v0.8h-0.8zM283.0,77.9h0.8v0.8h-0.8zM279.8,82.1h0.8v0.8h-0.8zM283.0,84.7h0.8v0.8h-0.8zM270.5,92.0h0.8v0.8h-0.8zM277.3,88.6h0.8v0.8h-0.8zM268.2,90.2h0.8v0.8h-0.8zM276.8,85.4h0.8v0.8h-0.8zM256.6,97.2h0.8v0.8h-0.8zM282.5,70.0h0.8v0.8h-0.8zM265.0,92.6h0.8v0.8h-0.8zM284.3,78.3h0.8v0.8h-0.8zM282.2,84.3h0.8v0.8h-0.8zM277.5,82.0h0.8v0.8h-0.8zM290.1,70.9h0.8v0.8h-0.8zM281.1,87.2h0.8v0.8h-0.8zM273.6,85.9h0.8v0.8h-0.8zM263.4,91.5h0.8v0.8h-0.8zM277.2,82.0h0.8v0.8h-0.8zM255.3,102.4h0.8v0.8h-0.8zM289.9,73.6h0.8v0.8h-0.8zM279.1,79.5h0.8v0.8h-0.8zM267.7,89.0h0.8v0.8h-0.8zM275.2,89.0h0.8v0.8h-0.8zM275.7,87.5h0.8v0.8h-0.8zM285.7,78.3h0.8v0.8h-0.8zM283.8,84.9h0.8v0.8h-0.8zM272.8,77.6h0.8v0.8h-0.8zM285.4,72.2h0.8v0.8h-0.8zM270.1,89.5h0.8v0.8h-0.8zM282.5,77.7h0.8v0.8h-0.8zM281.6,75.6h0.8v0.8h-0.8zM289.3,71.3h0.8v0.8h-0.8zM273.0,89.7h0.8v0.8h-0.8zM288.9,74.7h0.8v0.8h-0.8zM283.5,77.8h0.8v0.8h-0.8zM279.3,86.0h0.8v0.8h-0.8zM293.9,65.1h0.8v0.8h-0.8zM292.3,69.5h0.8v0.8h-0.8zM279.9,87.2h0.8v0.8h-0.8zM282.9,77.6h0.8v0.8h-0.8zM281.9,74.5h0.8v0.8h-0.8zM270.8,88.2h0.8v0.8h-0.8zM288.0,69.9h0.8v0.8h-0.8zM276.4,88.2h0.8v0.8h-0.8zM284.7,73.0h0.8v0.8h-0.8zM265.5,96.1h0.8v0.8h-0.8zM276.5,87.1h0.8v0.8h-0.8zM282.9,80.0h0.8v0.8h-0.8zM265.6,91.5h0.8v0.8h-0.8zM272.2,88.2h0.8v0.8h-0.8zM276.5,90.4h0.8v0.8h-0.8zM269.8,90.1h0.8v0.8h-0.8zM264.8,90.7h0.8v0.8h-0.8zM277.6,83.0h0.8v0.8h-0.8zM272.8,89.7h0.8v0.8h-0.8zM279.2,84.6h0.8v0.8h-0.8zM261.4,98.2h0.8v0.8h-0.8zM283.7,75.4h0.8v0.8h-0.8zM279.7,80.8h0.8v0.8h-0.8zM255.9,98.9h0.8v0.8h-0.8zM285.7,79.4h0.8v0.8h-0.8zM274.5,84.5h0.8v0.8h-0.8zM277.1,78.6h0.8v0.8h-0.8zM293.4,63.2h0.8v0.8h-0.8zM277.7,76.4h0.8v0.8h-0.8zM269.7,87.6h0.8v0.8h-0.8zM268.3,85.1h0.8v0.8h-0.8zM285.1,79.2h0.8v0.8h-0.8zM265.7,93.0h0.8v0.8h-0.8zM266.8,90.6h0.8v0.8h-0.8zM276.7,80.9h0.8v0.8h-0.8zM268.6,87.8h0.8v0.8h-0.8zM275.0,87.0h0.8v0.8h-0.8zM281.8,76.4h0.8v0.8h-0.8zM270.5,90.3h0.8v0.8h-0.8zM272.7,81.5h0.8v0.8h-0.8zM268.1,85.0h0.8v0.8h-0.8zM265.1,96.7h0.8v0.8h-0.8zM271.0,83.9h0.8v0.8h-0.8zM287.7,74.4h0.8v0.8h-0.8zM279.4,85.7h0.8v0.8h-0.8zM269.5,81.7h0.8v0.8h-0.8zM288.1,79.2h0.8v0.8h-0.8zM269.2,80.6h0.8v0.8h-0.8zM272.0,89.6h0.8v0.8h-0.8zM270.7,86.0h0.8v0.8h-0.8zM284.3,76.0h0.8v0.8h-0.8zM282.0,82.9h0.8v0.8h-0.8zM274.9,80.6h0.8v0.8h-0.8zM262.7,95.7h0.8v0.8h-0.8zM287.2,86.9h0.8v0.8h-0.8zM283.2,73.9h0.8v0.8h-0.8zM282.1,86.4h0.8v0.8h-0.8zM276.1,77.5h0.8v0.8h-0.8zM265.0,81.2h0.8v0.8h-0.8zM285.2,77.4h0.8v0.8h-0.8zM275.0,82.3h0.8v0.8h-0.8zM287.2,83.3h0.8v0.8h-0.8zM279.2,77.0h0.8v0.8h-0.8zM273.7,88.9h0.8v0.8h-0.8zM282.1,85.1h0.8v0.8h-0.8zM275.4,83.2h0.8v0.8h-0.8zM265.4,90.4h0.8v0.8h-0.8zM270.6,91.0h0.8v0.8h-0.8zM279.3,84.2h0.8v0.8h-0.8zM289.0,67.2h0.8v0.8h-0.8zM284.5,68.3h0.8v0.8h-0.8zM277.4,77.9h0.8v0.8h-0.8zM273.4,91.7h0.8v0.8h-0.8zM289.0,79.4h0.8v0.8h-0.8zM254.7,99.8h0.8v0.8h-0.8zM258.6,103.5h0.8v0.8h-0.8zM268.8,84.8h0.8v0.8h-0.8zM275.7,83.1h0.8v0.8h-0.8zM269.7,88.5h0.8v0.8h-0.8zM284.3,71.8h0.8v0.8h-0.8zM265.4,90.7h0.8v0.8h-0.8zM282.4,80.0h0.8v0.8h-0.8zM259.1,95.9h0.8v0.8h-0.8zM272.1,89.5h0.8v0.8h-0.8zM276.7,79.3h0.8v0.8h-0.8zM253.0,104.2h0.8v0.8h-0.8zM266.2,88.6h0.8v0.8h-0.8zM273.6,84.9h0.8v0.8h-0.8zM267.7,88.9h0.8v0.8h-0.8zM274.6,85.0h0.8v0.8h-0.8zM263.9,90.6h0.8v0.8h-0.8zM265.1,87.7h0.8v0.8h-0.8zM265.0,94.8h0.8v0.8h-0.8zM274.5,82.6h0.8v0.8h-0.8zM275.6,77.9h0.8v0.8h-0.8zM278.9,72.2h0.8v0.8h-0.8zM271.3,88.5h0.8v0.8h-0.8zM267.4,89.7h0.8v0.8h-0.8zM263.2,90.9h0.8v0.8h-0.8zM278.9,79.6h0.8v0.8h-0.8zM257.5,97.4h0.8v0.8h-0.8zM267.1,84.8h0.8v0.8h-0.8zM279.7,83.9h0.8v0.8h-0.8zM278.1,89.3h0.8v0.8h-0.8zM268.4,83.6h0.8v0.8h-0.8zM277.7,88.1h0.8v0.8h-0.8zM266.4,85.1h0.8v0.8h-0.8zM286.7,78.5h0.8v0.8h-0.8zM287.8,79.7h0.8v0.8h-0.8zM272.6,95.9h0.8v0.8h-0.8zM265.4,93.5h0.8v0.8h-0.8zM276.8,78.3h0.8v0.8h-0.8zM267.0,93.5h0.8v0.8h-0.8zM269.7,85.7h0.8v0.8h-0.8zM283.3,80.8h0.8v0.8h-0.8zM267.5,86.8h0.8v0.8h-0.8zM271.6,90.0h0.8v0.8h-0.8zM281.2,79.5h0.8v0.8h-0.8zM282.4,81.8h0.8v0.8h-0.8zM272.6,90.6h0.8v0.8h-0.8zM272.6,86.4h0.8v0.8h-0.8zM272.2,76.9h0.8v0.8h-0.8zM277.4,80.9h0.8v0.8h-0.8zM267.6,93.4h0.8v0.8h-0.8zM273.9,93.7h0.8v0.8h-0.8zM286.8,78.2h0.8v0.8h-0.8zM268.8,90.5h0.8v0.8h-0.8zM282.5,75.5h0.8v0.8h-0.8zM270.3,86.3h0.8v0.8h-0.8zM262.9,84.5h0.8v0.8h-0.8zM278.3,83.0h0.8v0.8h-0.8zM260.3,98.3h0.8v0.8h-0.8zM257.4,90.1h0.8v0.8h-0.8zM285.2,73.2h0.8v0.8h-0.8zM276.8,85.1h0.8v0.8h-0.8zM288.1,76.6h0.8v0.8h-0.8zM284.7,82.0h0.8v0.8h-0.8zM263.5,95.2h0.8v0.8h-0.8zM276.3,81.7h0.8v0.8h-0.8zM280.4,80.2h0.8v0.8h-0.8zM263.4,87.4h0.8v0.8h-0.8zM260.8,91.7h0.8v0.8h-0.8zM255.5,93.1h0.8v0.8h-0.8zM279.5,89.7h0.8v0.8h-0.8zM268.3,84.6h0.8v0.8h-0.8zM268.8,88.0h0.8v0.8h-0.8zM274.3,89.2h0.8v0.8h-0.8zM286.0,72.6h0.8v0.8h-0.8zM267.4,84.4h0.8v0.8h-0.8zM263.6,103.0h0.8v0.8h-0.8zM292.3,78.6h0.8v0.8h-0.8zM265.9,93.5h0.8v0.8h-0.8zM275.5,73.4h0.8v0.8h-0.8zM296.1,70.4h0.8v0.8h-0.8zM273.0,82.0h0.8v0.8h-0.8zM283.8,76.2h0.8v0.8h-0.8zM272.5,86.2h0.8v0.8h-0.8zM276.4,86.3h0.8v0.8h-0.8zM272.2,87.8h0.8v0.8h-0.8zM288.2,68.3h0.8v0.8h-0.8zM277.0,85.4h0.8v0.8h-0.8zM284.0,77.4h0.8v0.8h-0.8zM271.1,78.2h0.8v0.8h-0.8zM272.0,81.5h0.8v0.8h-0.8zM287.5,75.4h0.8v0.8h-0.8zM258.5,90.1h0.8v0.8h-0.8zM276.5,82.2h0.8v0.8h-0.8zM280.4,77.6h0.8v0.8h-0.8zM274.4,93.8h0.8v0.8h-0.8zM277.9,77.4h0.8v0.8h-0.8zM277.1,82.2h0.8v0.8h-0.8zM282.7,73.4h0.8v0.8h-0.8zM292.3,73.1h0.8v0.8h-0.8zM291.1,81.8h0.8v0.8h-0.8zM260.6,105.3h0.8v0.8h-0.8zM270.6,83.5h0.8v0.8h-0.8zM284.9,75.4h0.8v0.8h-0.8zM272.8,72.2h0.8v0.8h-0.8zM273.0,80.8h0.8v0.8h-0.8zM273.7,87.4h0.8v0.8h-0.8zM271.5,93.1h0.8v0.8h-0.8zM275.8,85.7h0.8v0.8h-0.8zM268.0,88.0h0.8v0.8h-0.8zM268.4,88.2h0.8v0.8h-0.8zM279.8,77.6h0.8v0.8h-0.8zM276.5,86.1h0.8v0.8h-0.8zM266.6,89.5h0.8v0.8h-0.8zM280.4,77.9h0.8v0.8h-0.8zM289.3,80.2h0.8v0.8h-0.8zM280.2,77.8h0.8v0.8h-0.8zM280.1,80.3h0.8v0.8h-0.8zM270.3,88.3h0.8v0.8h-0.8zM267.7,92.4h0.8v0.8h-0.8zM270.4,80.8h0.8v0.8h-0.8zM281.7,79.7h0.8v0.8h-0.8zM288.4,68.7h0.8v0.8h-0.8zM268.7,94.1h0.8v0.8h-0.8zM266.1,90.3h0.8v0.8h-0.8zM277.7,79.8h0.8v0.8h-0.8zM281.7,77.6h0.8v0.8h-0.8zM282.7,83.3h0.8v0.8h-0.8zM272.3,89.2h0.8v0.8h-0.8zM265.5,86.2h0.8v0.8h-0.8zM278.2,76.7h0.8v0.8h-0.8zM269.9,89.7h0.8v0.8h-0.8zM277.2,77.7h0.8v0.8h-0.8zM253.4,102.5h0.8v0.8h-0.8zM291.0,74.9h0.8v0.8h-0.8zM268.0,82.2h0.8v0.8h-0.8zM290.4,71.1h0.8v0.8h-0.8zM284.9,73.0h0.8v0.8h-0.8zM263.7,89.6h0.8v0.8h-0.8zM271.6,87.5h0.8v0.8h-0.8zM275.1,82.8h0.8v0.8h-0.8zM274.2,89.2h0.8v0.8h-0.8zM276.1,89.2h0.8v0.8h-0.8zM269.2,90.1h0.8v0.8h-0.8zM270.0,82.6h0.8v0.8h-0.8zM269.5,86.2h0.8v0.8h-0.8zM266.6,86.5h0.8v0.8h-0.8zM286.7,74.4h0.8v0.8h-0.8zM280.7,80.6h0.8v0.8h-0.8zM282.1,69.8h0.8v0.8h-0.8zM273.7,84.2h0.8v0.8h-0.8zM276.3,73.0h0.8v0.8h-0.8zM255.7,95.6h0.8v0.8h-0.8zM272.8,93.5h0.8v0.8h-0.8zM271.8,82.4h0.8v0.8h-0.8zM272.6,84.3h0.8v0.8h-0.8zM275.7,78.5h0.8v0.8h-0.8zM279.3,75.2h0.8v0.8h-0.8zM269.0,88.7h0.8v0.8h-0.8zM277.7,86.5h0.8v0.8h-0.8zM274.9,83.5h0.8v0.8h-0.8zM268.8,94.9h0.8v0.8h-0.8zM278.2,79.0h0.8v0.8h-0.8zM282.0,70.4h0.8v0.8h-0.8zM274.3,81.7h0.8v0.8h-0.8zM273.2,82.2h0.8v0.8h-0.8zM281.3,82.6h0.8v0.8h-0.8zM289.4,67.3h0.8v0.8h-0.8zM279.6,77.0h0.8v0.8h-0.8zM276.8,79.6h0.8v0.8h-0.8zM286.0,73.9h0.8v0.8h-0.8zM283.6,73.2h0.8v0.8h-0.8zM260.1,91.6h0.8v0.8h-0.8zM283.6,78.0h0.8v0.8h-0.8zM287.1,75.5h0.8v0.8h-0.8zM273.3,85.5h0.8v0.8h-0.8zM287.8,81.8h0.8v0.8h-0.8zM268.6,88.6h0.8v0.8h-0.8zM276.5,76.4h0.8v0.8h-0.8zM275.0,76.2h0.8v0.8h-0.8zM283.1,77.6h0.8v0.8h-0.8zM281.8,83.4h0.8v0.8h-0.8zM279.6,74.6h0.8v0.8h-0.8zM271.5,86.2h0.8v0.8h-0.8zM288.0,72.6h0.8v0.8h-0.8zM277.5,80.1h0.8v0.8h-0.8zM288.0,75.8h0.8v0.8h-0.8zM257.4,88.5h0.8v0.8h-0.8zM283.8,75.5h0.8v0.8h-0.8zM275.8,84.7h0.8v0.8h-0.8zM288.4,71.0h0.8v0.8h-0.8zM289.4,76.1h0.8v0.8h-0.8zM279.8,80.7h0.8v0.8h-0.8zM280.4,73.1h0.8v0.8h-0.8zM284.6,72.1h0.8v0.8h-0.8zM270.8,82.2h0.8v0.8h-0.8zM278.6,82.5h0.8v0.8h-0.8zM274.7,82.5h0.8v0.8h-0.8zM270.0,87.9h0.8v0.8h-0.8zM267.0,82.6h0.8v0.8h-0.8zM270.8,83.7h0.8v0.8h-0.8zM281.5,74.5h0.8v0.8h-0.8zM273.0,83.5h0.8v0.8h-0.8zM281.5,79.0h0.8v0.8h-0.8zM273.8,88.5h0.8v0.8h-0.8zM269.1,92.1h0.8v0.8h-0.8zM277.9,75.7h0.8v0.8h-0.8zM260.2,94.2h0.8v0.8h-0.8zM267.8,93.3h0.8v0.8h-0.8zM272.3,86.2h0.8v0.8h-0.8zM275.7,83.2h0.8v0.8h-0.8zM278.1,72.5h0.8v0.8h-0.8zM293.3,76.9h0.8v0.8h-0.8zM272.7,91.6h0.8v0.8h-0.8zM282.2,82.1h0.8v0.8h-0.8zM274.5,88.7h0.8v0.8h-0.8zM281.5,79.8h0.8v0.8h-0.8zM272.2,91.9h0.8v0.8h-0.8zM271.3,83.3h0.8v0.8h-0.8zM264.5,92.5h0.8v0.8h-0.8zM285.4,79.4h0.8v0.8h-0.8zM288.7,74.1h0.8v0.8h-0.8zM277.5,84.2h0.8v0.8h-0.8zM268.8,87.8h0.8v0.8h-0.8zM301.7,61.8h0.8v0.8h-0.8zM274.2,79.3h0.8v0.8h-0.8zM289.9,75.6h0.8v0.8h-0.8zM274.9,86.7h0.8v0.8h-0.8zM256.6,103.7h0.8v0.8h-0.8zM274.1,94.3h0.8v0.8h-0.8zM279.3,84.5h0.8v0.8h-0.8zM273.6,88.3h0.8v0.8h-0.8zM267.0,84.8h0.8v0.8h-0.8zM273.3,81.9h0.8v0.8h-0.8zM264.4,99.4h0.8v0.8h-0.8zM269.4,86.6h0.8v0.8h-0.8zM263.8,101.1h0.8v0.8h-0.8zM270.0,94.6h0.8v0.8h-0.8zM289.2,75.6h0.8v0.8h-0.8zM285.8,74.5h0.8v0.8h-0.8zM263.7,90.8h0.8v0.8h-0.8zM272.0,82.8h0.8v0.8h-0.8zM279.1,75.3h0.8v0.8h-0.8zM285.8,73.8h0.8v0.8h-0.8zM282.5,78.4h0.8v0.8h-0.8zM281.3,79.8h0.8v0.8h-0.8zM265.8,89.9h0.8v0.8h-0.8zM295.2,77.1h0.8v0.8h-0.8zM263.5,97.4h0.8v0.8h-0.8zM263.5,93.7h0.8v0.8h-0.8zM270.9,87.4h0.8v0.8h-0.8zM273.4,81.1h0.8v0.8h-0.8zM268.5,90.4h0.8v0.8h-0.8zM270.4,82.7h0.8v0.8h-0.8zM271.1,81.9h0.8v0.8h-0.8zM266.8,98.4h0.8v0.8h-0.8zM269.6,82.1h0.8v0.8h-0.8zM267.0,87.7h0.8v0.8h-0.8zM292.8,75.0h0.8v0.8h-0.8zM271.7,86.9h0.8v0.8h-0.8zM272.0,88.4h0.8v0.8h-0.8zM295.3,65.8h0.8v0.8h-0.8zM277.4,80.5h0.8v0.8h-0.8zM287.2,71.1h0.8v0.8h-0.8zM280.4,77.0h0.8v0.8h-0.8zM273.1,83.7h0.8v0.8h-0.8zM282.6,85.0h0.8v0.8h-0.8zM274.8,79.4h0.8v0.8h-0.8zM271.1,83.5h0.8v0.8h-0.8zM272.0,85.3h0.8v0.8h-0.8zM278.8,81.3h0.8v0.8h-0.8zM272.2,88.4h0.8v0.8h-0.8zM282.3,85.2h0.8v0.8h-0.8zM270.6,81.0h0.8v0.8h-0.8zM278.5,75.3h0.8v0.8h-0.8zM273.7,85.4h0.8v0.8h-0.8zM274.1,83.7h0.8v0.8h-0.8zM272.3,81.3h0.8v0.8h-0.8zM269.9,94.0h0.8v0.8h-0.8zM282.2,76.6h0.8v0.8h-0.8zM274.6,70.9h0.8v0.8h-0.8zM272.5,91.6h0.8v0.8h-0.8zM285.1,76.3h0.8v0.8h-0.8zM291.5,73.6h0.8v0.8h-0.8zM282.4,82.0h0.8v0.8h-0.8zM264.6,90.6h0.8v0.8h-0.8zM276.6,90.3h0.8v0.8h-0.8zM276.5,92.4h0.8v0.8h-0.8zM278.8,89.5h0.8v0.8h-0.8zM270.2,87.3h0.8v0.8h-0.8zM290.3,80.6h0.8v0.8h-0.8zM265.9,80.4h0.8v0.8h-0.8zM291.1,77.2h0.8v0.8h-0.8zM276.3,84.7h0.8v0.8h-0.8zM279.8,76.7h0.8v0.8h-0.8zM266.3,91.4h0.8v0.8h-0.8zM282.8,67.0h0.8v0.8h-0.8zM261.1,101.5h0.8v0.8h-0.8zM270.9,86.5h0.8v0.8h-0.8zM291.5,76.0h0.8v0.8h-0.8zM281.9,77.2h0.8v0.8h-0.8zM285.6,72.8h0.8v0.8h-0.8zM273.2,85.7h0.8v0.8h-0.8zM274.1,80.6h0.8v0.8h-0.8zM284.4,78.5h0.8v0.8h-0.8zM283.3,77.9h0.8v0.8h-0.8zM270.6,89.0h0.8v0.8h-0.8zM288.2,78.6h0.8v0.8h-0.8zM275.8,79.1h0.8v0.8h-0.8zM279.7,83.7h0.8v0.8h-0.8zM276.7,87.0h0.8v0.8h-0.8zM289.8,62.1h0.8v0.8h-0.8zM292.3,64.3h0.8v0.8h-0.8zM268.6,90.1h0.8v0.8h-0.8zM275.5,85.4h0.8v0.8h-0.8zM281.0,72.7h0.8v0.8h-0.8zM279.6,80.9h0.8v0.8h-0.8zM259.9,92.6h0.8v0.8h-0.8zM292.2,64.5h0.8v0.8h-0.8zM259.1,104.6h0.8v0.8h-0.8zM270.1,94.1h0.8v0.8h-0.8zM292.8,67.4h0.8v0.8h-0.8zM277.3,76.1h0.8v0.8h-0.8zM266.4,85.1h0.8v0.8h-0.8zM261.1,93.7h0.8v0.8h-0.8zM276.0,84.4h0.8v0.8h-0.8zM283.4,85.2h0.8v0.8h-0.8zM279.5,79.5h0.8v0.8h-0.8zM289.3,65.8h0.8v0.8h-0.8zM278.2,78.9h0.8v0.8h-0.8zM272.1,77.8h0.8v0.8h-0.8zM283.5,80.4h0.8v0.8h-0.8zM271.9,84.7h0.8v0.8h-0.8zM291.8,75.5h0.8v0.8h-0.8zM277.9,85.7h0.8v0.8h-0.8zM278.1,82.7h0.8v0.8h-0.8zM284.2,72.8h0.8v0.8h-0.8zM283.3,71.2h0.8v0.8h-0.8zM270.1,92.4h0.8v0.8h-0.8zM277.1,77.8h0.8v0.8h-0.8zM278.5,80.0h0.8v0.8h-0.8zM276.5,88.1h0.8v0.8h-0.8zM270.1,81.6h0.8v0.8h-0.8zM278.8,80.5h0.8v0.8h-0.8zM276.6,84.9h0.8v0.8h-0.8zM271.8,85.6h0.8v0.8h-0.8zM289.6,81.7h0.8v0.8h-0.8zM274.2,91.1h0.8v0.8h-0.8zM271.2,87.3h0.8v0.8h-0.8zM277.8,81.3h0.8v0.8h-0.8zM291.6,75.1h0.8v0.8h-0.8zM291.3,76.7h0.8v0.8h-0.8zM278.8,84.0h0.8v0.8h-0.8zM269.0,85.4h0.8v0.8h-0.8zM283.6,79.1h0.8v0.8h-0.8zM270.7,88.5h0.8v0.8h-0.8zM272.0,85.9h0.8v0.8h-0.8zM279.7,76.4h0.8v0.8h-0.8zM271.8,88.7h0.8v0.8h-0.8zM271.0,87.7h0.8v0.8h-0.8zM277.6,74.1h0.8v0.8h-0.8zM287.5,67.3h0.8v0.8h-0.8zM268.2,86.2h0.8v0.8h-0.8zM267.6,88.9h0.8v0.8h-0.8zM262.9,89.7h0.8v0.8h-0.8zM268.0,80.9h0.8v0.8h-0.8zM268.6,85.9h0.8v0.8h-0.8zM276.8,89.9h0.8v0.8h-0.8zM280.4,79.4h0.8v0.8h-0.8zM267.0,97.1h0.8v0.8h-0.8zM268.3,85.1h0.8v0.8h-0.8zM268.1,87.9h0.8v0.8h-0.8zM292.3,74.3h0.8v0.8h-0.8zM272.6,86.4h0.8v0.8h-0.8zM271.3,79.3h0.8v0.8h-0.8zM277.7,81.4h0.8v0.8h-0.8zM283.0,81.0h0.8v0.8h-0.8zM287.9,80.6h0.8v0.8h-0.8zM274.4,93.9h0.8v0.8h-0.8zM272.4,84.7h0.8v0.8h-0.8zM264.1,89.2h0.8v0.8h-0.8zM277.5,81.1h0.8v0.8h-0.8zM275.6,83.2h0.8v0.8h-0.8zM289.6,74.5h0.8v0.8h-0.8zM267.6,86.8h0.8v0.8h-0.8zM273.5,92.5h0.8v0.8h-0.8zM294.2,60.0h0.8v0.8h-0.8zM287.8,71.4h0.8v0.8h-0.8zM283.8,75.1h0.8v0.8h-0.8zM272.8,91.6h0.8v0.8h-0.8zM267.6,92.8h0.8v0.8h-0.8zM269.1,85.1h0.8v0.8h-0.8zM277.3,84.8h0.8v0.8h-0.8zM285.6,69.7h0.8v0.8h-0.8zM275.8,77.4h0.8v0.8h-0.8zM281.7,76.2h0.8v0.8h-0.8zM283.4,82.1h0.8v0.8h-0.8zM271.9,94.7h0.8v0.8h-0.8zM266.5,91.5h0.8v0.8h-0.8zM289.5,74.0h0.8v0.8h-0.8zM278.2,85.2h0.8v0.8h-0.8zM275.9,86.0h0.8v0.8h-0.8zM277.2,85.5h0.8v0.8h-0.8zM269.7,87.9h0.8v0.8h-0.8zM283.1,76.9h0.8v0.8h-0.8zM266.9,88.0h0.8v0.8h-0.8zM285.0,77.4h0.8v0.8h-0.8zM263.2,90.4h0.8v0.8h-0.8zM281.9,78.2h0.8v0.8h-0.8zM273.2,83.2h0.8v0.8h-0.8zM287.9,74.0h0.8v0.8h-0.8zM277.7,81.2h0.8v0.8h-0.8zM273.1,81.9h0.8v0.8h-0.8zM281.3,79.8h0.8v0.8h-0.8zM278.6,84.4h0.8v0.8h-0.8zM280.1,81.9h0.8v0.8h-0.8zM283.9,77.1h0.8v0.8h-0.8zM278.3,80.8h0.8v0.8h-0.8zM286.4,73.7h0.8v0.8h-0.8zM260.0,90.0h0.8v0.8h-0.8zM281.4,84.9h0.8v0.8h-0.8zM282.3,71.4h0.8v0.8h-0.8zM279.5,87.6h0.8v0.8h-0.8zM280.0,83.9h0.8v0.8h-0.8zM267.8,86.9h0.8v0.8h-0.8zM270.2,85.8h0.8v0.8h-0.8zM283.0,78.7h0.8v0.8h-0.8zM284.8,82.6h0.8v0.8h-0.8zM269.8,93.4h0.8v0.8h-0.8zM271.8,89.5h0.8v0.8h-0.8zM281.4,83.6h0.8v0.8h-0.8zM289.2,75.6h0.8v0.8h-0.8zM276.2,74.4h0.8v0.8h-0.8zM285.0,71.6h0.8v0.8h-0.8zM275.1,89.1h0.8v0.8h-0.8zM287.5,73.7h0.8v0.8h-0.8zM286.7,76.4h0.8v0.8h-0.8zM281.0,75.1h0.8v0.8h-0.8zM264.0,89.3h0.8v0.8h-0.8zM295.3,74.1h0.8v0.8h-0.8zM270.2,76.2h0.8v0.8h-0.8zM280.0,83.5h0.8v0.8h-0.8zM267.8,89.6h0.8v0.8h-0.8zM295.7,68.1h0.8v0.8h-0.8zM276.8,84.8h0.8v0.8h-0.8zM270.8,93.8h0.8v0.8h-0.8zM278.6,83.1h0.8v0.8h-0.8zM281.0,79.9h0.8v0.8h-0.8zM264.0,90.5h0.8v0.8h-0.8zM266.6,86.3h0.8v0.8h-0.8zM274.2,84.0h0.8v0.8h-0.8zM285.4,81.5h0.8v0.8h-0.8zM281.6,82.5h0.8v0.8h-0.8zM283.8,73.2h0.8v0.8h-0.8zM269.9,88.1h0.8v0.8h-0.8zM271.1,83.2h0.8v0.8h-0.8zM287.0,71.6h0.8v0.8h-0.8zM277.4,80.2h0.8v0.8h-0.8zM285.0,76.4h0.8v0.8h-0.8zM273.0,89.4h0.8v0.8h-0.8zM275.6,86.2h0.8v0.8h-0.8zM247.8,97.5h0.8v0.8h-0.8zM262.6,89.7h0.8v0.8h-0.8zM274.2,89.8h0.8v0.8h-0.8zM280.7,78.8h0.8v0.8h-0.8zM281.7,78.1h0.8v0.8h-0.8zM289.1,74.5h0.8v0.8h-0.8zM258.3,97.6h0.8v0.8h-0.8zM289.9,75.2h0.8v0.8h-0.8zM279.6,75.8h0.8v0.8h-0.8zM280.3,73.8h0.8v0.8h-0.8zM263.9,89.2h0.8v0.8h-0.8zM278.8,80.1h0.8v0.8h-0.8zM259.1,92.1h0.8v0.8h-0.8zM285.7,70.8h0.8v0.8h-0.8zM282.4,82.6h0.8v0.8h-0.8zM292.5,73.3h0.8v0.8h-0.8zM263.1,97.4h0.8v0.8h-0.8zM265.5,87.2h0.8v0.8h-0.8zM285.9,69.6h0.8v0.8h-0.8zM273.7,91.0h0.8v0.8h-0.8zM289.3,74.7h0.8v0.8h-0.8zM266.7,84.7h0.8v0.8h-0.8zM276.4,84.1h0.8v0.8h-0.8zM271.0,92.2h0.8v0.8h-0.8zM277.5,66.8h0.8v0.8h-0.8zM269.8,93.6h0.8v0.8h-0.8zM281.6,79.1h0.8v0.8h-0.8zM271.7,81.2h0.8v0.8h-0.8zM298.9,64.3h0.8v0.8h-0.8zM283.3,79.3h0.8v0.8h-0.8zM290.2,74.8h0.8v0.8h-0.8zM268.1,85.5h0.8v0.8h-0.8zM268.0,93.2h0.8v0.8h-0.8zM289.7,73.9h0.8v0.8h-0.8zM274.6,82.0h0.8v0.8h-0.8zM278.5,82.2h0.8v0.8h-0.8zM271.6,89.5h0.8v0.8h-0.8zM259.5,94.3h0.8v0.8h-0.8zM265.1,99.7h0.8v0.8h-0.8zM282.9,81.5h0.8v0.8h-0.8zM272.3,80.5h0.8v0.8h-0.8zM282.9,79.5h0.8v0.8h-0.8zM283.5,70.2h0.8v0.8h-0.8zM286.9,71.8h0.8v0.8h-0.8zM270.8,87.0h0.8v0.8h-0.8zM267.0,90.0h0.8v0.8h-0.8zM279.7,80.9h0.8v0.8h-0.8zM270.7,87.7h0.8v0.8h-0.8zM285.3,79.6h0.8v0.8h-0.8zM270.3,86.0h0.8v0.8h-0.8zM267.4,93.9h0.8v0.8h-0.8zM266.0,90.2h0.8v0.8h-0.8zM295.8,70.6h0.8v0.8h-0.8zM273.5,83.8h0.8v0.8h-0.8zM263.4,97.0h0.8v0.8h-0.8zM280.1,81.8h0.8v0.8h-0.8zM273.6,86.9h0.8v0.8h-0.8zM273.3,82.2h0.8v0.8h-0.8zM272.6,80.7h0.8v0.8h-0.8zM272.9,83.6h0.8v0.8h-0.8zM268.1,86.0h0.8v0.8h-0.8zM275.3,80.3h0.8v0.8h-0.8zM276.4,71.3h0.8v0.8h-0.8zM271.6,83.4h0.8v0.8h-0.8zM266.8,85.7h0.8v0.8h-0.8zM274.3,81.8h0.8v0.8h-0.8zM278.7,80.6h0.8v0.8h-0.8zM274.3,78.5h0.8v0.8h-0.8zM273.2,85.6h0.8v0.8h-0.8zM270.4,88.6h0.8v0.8h-0.8zM268.8,88.1h0.8v0.8h-0.8zM261.1,97.8h0.8v0.8h-0.8zM270.1,90.0h0.8v0.8h-0.8zM266.0,91.3h0.8v0.8h-0.8zM284.7,75.7h0.8v0.8h-0.8zM262.1,96.5h0.8v0.8h-0.8zM268.1,87.2h0.8v0.8h-0.8zM263.9,90.7h0.8v0.8h-0.8zM284.4,79.9h0.8v0.8h-0.8zM282.5,66.4h0.8v0.8h-0.8zM274.1,79.0h0.8v0.8h-0.8zM276.0,75.8h0.8v0.8h-0.8zM292.2,68.2h0.8v0.8h-0.8zM282.3,78.9h0.8v0.8h-0.8zM279.4,78.2h0.8v0.8h-0.8zM276.2,87.0h0.8v0.8h-0.8zM273.8,79.5h0.8v0.8h-0.8zM278.3,81.4h0.8v0.8h-0.8zM281.0,74.6h0.8v0.8h-0.8zM281.0,84.2h0.8v0.8h-0.8zM271.4,85.1h0.8v0.8h-0.8zM281.8,78.3h0.8v0.8h-0.8zM285.4,69.2h0.8v0.8h-0.8zM272.7,83.2h0.8v0.8h-0.8zM276.4,82.1h0.8v0.8h-0.8zM274.9,82.8h0.8v0.8h-0.8zM273.7,79.7h0.8v0.8h-0.8zM271.0,87.0h0.8v0.8h-0.8zM260.0,82.2h0.8v0.8h-0.8zM273.5,82.7h0.8v0.8h-0.8zM273.6,87.2h0.8v0.8h-0.8zM265.2,92.9h0.8v0.8h-0.8zM278.0,82.4h0.8v0.8h-0.8zM275.6,78.4h0.8v0.8h-0.8zM265.7,95.1h0.8v0.8h-0.8zM280.8,78.6h0.8v0.8h-0.8zM266.8,87.5h0.8v0.8h-0.8zM281.7,71.8h0.8v0.8h-0.8zM283.3,72.7h0.8v0.8h-0.8zM269.5,85.5h0.8v0.8h-0.8zM265.5,87.7h0.8v0.8h-0.8zM287.8,77.7h0.8v0.8h-0.8zM272.9,88.2h0.8v0.8h-0.8zM275.5,86.3h0.8v0.8h-0.8zM279.0,83.3h0.8v0.8h-0.8zM252.2,102.0h0.8v0.8h-0.8zM272.3,80.4h0.8v0.8h-0.8zM278.2,83.7h0.8v0.8h-0.8zM267.6,92.9h0.8v0.8h-0.8zM265.4,87.9h0.8v0.8h-0.8zM273.9,79.5h0.8v0.8h-0.8zM266.7,91.2h0.8v0.8h-0.8zM293.7,75.7h0.8v0.8h-0.8zM286.7,79.0h0.8v0.8h-0.8zM279.3,77.3h0.8v0.8h-0.8zM281.5,72.7h0.8v0.8h-0.8zM275.0,82.2h0.8v0.8h-0.8zM269.8,83.4h0.8v0.8h-0.8zM284.9,81.6h0.8v0.8h-0.8zM289.6,68.0h0.8v0.8h-0.8zM277.7,82.5h0.8v0.8h-0.8zM266.1,88.8h0.8v0.8h-0.8zM264.7,92.8h0.8v0.8h-0.8zM260.2,95.3h0.8v0.8h-0.8zM266.6,87.1h0.8v0.8h-0.8zM273.2,87.8h0.8v0.8h-0.8zM290.3,70.7h0.8v0.8h-0.8zM274.2,82.4h0.8v0.8h-0.8zM269.1,97.6h0.8v0.8h-0.8zM299.3,68.8h0.8v0.8h-0.8zM266.5,96.5h0.8v0.8h-0.8zM278.0,93.9h0.8v0.8h-0.8zM262.1,92.9h0.8v0.8h-0.8zM273.5,84.8h0.8v0.8h-0.8zM283.2,83.1h0.8v0.8h-0.8zM271.1,94.2h0.8v0.8h-0.8zM264.4,87.4h0.8v0.8h-0.8zM255.4,98.3h0.8v0.8h-0.8zM265.3,90.6h0.8v0.8h-0.8zM273.3,87.4h0.8v0.8h-0.8zM286.4,73.0h0.8v0.8h-0.8zM289.4,73.9h0.8v0.8h-0.8zM277.0,78.0h0.8v0.8h-0.8zM282.5,74.0h0.8v0.8h-0.8zM286.1,77.4h0.8v0.8h-0.8zM290.0,78.1h0.8v0.8h-0.8zM286.9,73.4h0.8v0.8h-0.8zM278.3,78.2h0.8v0.8h-0.8zM286.7,83.3h0.8v0.8h-0.8zM280.0,77.8h0.8v0.8h-0.8zM277.4,74.9h0.8v0.8h-0.8zM295.4,71.3h0.8v0.8h-0.8zM286.8,76.5h0.8v0.8h-0.8zM286.2,75.4h0.8v0.8h-0.8zM281.0,87.6h0.8v0.8h-0.8zM279.1,87.2h0.8v0.8h-0.8zM282.8,76.8h0.8v0.8h-0.8zM277.0,77.7h0.8v0.8h-0.8zM291.8,70.7h0.8v0.8h-0.8zM264.3,93.1h0.8v0.8h-0.8zM273.0,83.4h0.8v0.8h-0.8zM276.2,81.8h0.8v0.8h-0.8zM281.1,71.6h0.8v0.8h-0.8zM281.7,81.4h0.8v0.8h-0.8zM270.8,83.5h0.8v0.8h-0.8zM278.0,71.7h0.8v0.8h-0.8z" fill="#20e020"/>
</g>
<g fill="none" stroke="#a0a0a0" stroke-width="0.7">
<path d="M233.9,81.2 L254.5,82.5 L269.4,76.3 L287.5,61.4 L289.2,53.1 L285.9,44.9"/>
<path d="M233.9,92.8 L238.8,86.2 L265.2,86.2 L267.7,99.4 L272.7,119.2"/>
<path d="M274.3,119.2 L274.3,101 L295.8,70.5 L314,71.3"/>
</g>
<text x="259" y="61" font-size="4.5" fill="#ccc">P4</text>
<text x="296" y="95" font-size="4.5" fill="#ccc">P3</text>
<g fill="#444">
<text x="246.3" y="126.5" font-size="4.5" text-anchor="middle">10²</text>
<text x="266" y="126.5" font-size="4.5" text-anchor="middle">10³</text>
<text x="285.9" y="126.5" font-size="4.5" text-anchor="middle">10⁴</text>
<text x="305.7" y="126.5" font-size="4.5" text-anchor="middle">10⁵</text>
<text x="274.3" y="131" font-size="5" text-anchor="middle">FITC-A</text>
<text transform="translate(224.8,81.2) rotate(-90)" font-size="5" text-anchor="middle">MCherry-A</text>
<text transform="translate(230.6,107.6) rotate(-90)" font-size="4.5" text-anchor="middle">10²</text>
<text transform="translate(230.6,90.3) rotate(-90)" font-size="4.5" text-anchor="middle">10³</text>
<text transform="translate(230.6,70.5) rotate(-90)" font-size="4.5" text-anchor="middle">10⁴</text>
<text transform="translate(230.6,52.3) rotate(-90)" font-size="4.5" text-anchor="middle">10⁵</text>
</g>
<text x="344.5" y="11" font-size="15" font-weight="bold" fill="#000">B</text>
<text x="480.3" y="35.2" font-size="13.5" font-weight="bold" textLength="158" lengthAdjust="spacingAndGlyphs" fill="#000">qPCR of RAAS Pathway</text>
<text transform="translate(380.8,129.5) rotate(-90)" font-size="14" font-weight="bold" text-anchor="middle" textLength="188" lengthAdjust="spacingAndGlyphs">Relative Expression [eef1a1]</text>
<g stroke="#000" stroke-width="1.4" fill="none">
<line x1="418.3" y1="66.71000000000001" x2="418.3" y2="98.3"/>
<line x1="418.3" y1="106.70000000000002" x2="418.3" y2="194.3"/>
<line x1="418.3" y1="194.3" x2="697" y2="194.3"/>
<line x1="415.3" y1="66.71" x2="418.3" y2="66.71"/>
<line x1="415.3" y1="77.24" x2="418.3" y2="77.24"/>
<line x1="415.3" y1="87.77" x2="418.3" y2="87.77"/>
<line x1="415.3" y1="98.30" x2="418.3" y2="98.30"/>
<line x1="415.3" y1="106.70" x2="418.3" y2="106.70"/>
<line x1="415.3" y1="135.90" x2="418.3" y2="135.90"/>
<line x1="415.3" y1="165.10" x2="418.3" y2="165.10"/>
<line x1="415.3" y1="194.30" x2="418.3" y2="194.30"/>
<line x1="431.5" y1="194.3" x2="431.5" y2="197.3"/>
<line x1="466.8" y1="194.3" x2="466.8" y2="197.3"/>
<line x1="502.1" y1="194.3" x2="502.1" y2="197.3"/>
<line x1="537.4" y1="194.3" x2="537.4" y2="197.3"/>
<line x1="572.7" y1="194.3" x2="572.7" y2="197.3"/>
<line x1="608.0" y1="194.3" x2="608.0" y2="197.3"/>
<line x1="643.3" y1="194.3" x2="643.3" y2="197.3"/>
<line x1="678.5999999999999" y1="194.3" x2="678.5999999999999" y2="197.3"/>
</g>
<text x="414.3" y="69.31" font-size="7.5" text-anchor="end" font-weight="bold" fill="#000">200</text>
<text x="414.3" y="79.84" font-size="7.5" text-anchor="end" font-weight="bold" fill="#000">150</text>
<text x="414.3" y="90.37" font-size="7.5" text-anchor="end" font-weight="bold" fill="#000">100</text>
<text x="414.3" y="100.9" font-size="7.5" text-anchor="end" font-weight="bold" fill="#000">50</text>
<text x="414.3" y="109.3" font-size="7.5" text-anchor="end" font-weight="bold" fill="#000">6</text>
<text x="414.3" y="138.5" font-size="7.5" text-anchor="end" font-weight="bold" fill="#000">4</text>
<text x="414.3" y="167.7" font-size="7.5" text-anchor="end" font-weight="bold" fill="#000">2</text>
<text x="414.3" y="196.9" font-size="7.5" text-anchor="end" font-weight="bold" fill="#000">0</text>
<line x1="425.5" y1="149.77" x2="425.5" y2="154.44" stroke="#222" stroke-width="1.1"/>
<line x1="423.0" y1="149.77" x2="428.0" y2="149.77" stroke="#222" stroke-width="1.1"/>
<line x1="438.5" y1="182.91" x2="438.5" y2="183.64" stroke="#222" stroke-width="1.1"/>
<line x1="436.0" y1="182.91" x2="441.0" y2="182.91" stroke="#222" stroke-width="1.1"/>
<rect x="421.5" y="154.44" width="8" height="39.86" fill="#ff0000" stroke="#000" stroke-width="1"/>
<rect x="434.5" y="183.64" width="8" height="10.66" fill="#0000ff" stroke="#000" stroke-width="1"/>
<rect x="456.8" y="182.62" width="8" height="11.68" fill="#ff0000" stroke="#000" stroke-width="1"/>
<rect x="469.8" y="190.50" width="8" height="3.80" fill="#0000ff" stroke="#000" stroke-width="1"/>
<rect x="492.1" y="158.82" width="8" height="35.48" fill="#ff0000" stroke="#000" stroke-width="1"/>
<rect x="505.1" y="192.55" width="8" height="1.75" fill="#0000ff" stroke="#000" stroke-width="1"/>
<line x1="531.4" y1="134.44" x2="531.4" y2="147.58" stroke="#222" stroke-width="1.1"/>
<line x1="528.9" y1="134.44" x2="533.9" y2="134.44" stroke="#222" stroke-width="1.1"/>
<rect x="527.4" y="147.58" width="8" height="46.72" fill="#ff0000" stroke="#000" stroke-width="1"/>
<rect x="540.4" y="183.64" width="8" height="10.66" fill="#0000ff" stroke="#000" stroke-width="1"/>
<rect x="562.7" y="192.55" width="8" height="1.75" fill="#ff0000" stroke="#000" stroke-width="1"/>
<rect x="575.7" y="193.13" width="8" height="1.17" fill="#0000ff" stroke="#000" stroke-width="1"/>
<line x1="602.0" y1="78.00" x2="602.0" y2="85.70" stroke="#222" stroke-width="1.1"/>
<line x1="599.5" y1="78.00" x2="604.5" y2="78.00" stroke="#222" stroke-width="1.1"/>
<path d="M598.0,98.3 L598.0,85.7 L606.0,85.7 L606.0,98.3" fill="#ff0000" stroke="#000" stroke-width="1"/>
<rect x="598.0" y="106.70" width="8" height="87.60" fill="#ff0000" stroke="#000" stroke-width="1"/>
<line x1="613.0" y1="96.5" x2="617.0" y2="96.5" stroke="#222" stroke-width="1.1"/><line x1="615.0" y1="96.5" x2="615.0" y2="98" stroke="#222" stroke-width="1.1"/>
<rect x="611.0" y="106.70" width="8" height="87.60" fill="#0000ff" stroke="#000" stroke-width="1"/>
<line x1="650.3" y1="110.64" x2="650.3" y2="126.41" stroke="#222" stroke-width="1.1"/>
<line x1="647.8" y1="110.64" x2="652.8" y2="110.64" stroke="#222" stroke-width="1.1"/>
<rect x="646.3" y="126.41" width="8" height="67.89" fill="#0000ff" stroke="#000" stroke-width="1"/>
<text transform="translate(435.0,206.3) rotate(-45)" font-size="11.2" font-weight="bold" text-anchor="end">PRR</text>
<text transform="translate(470.3,206.3) rotate(-45)" font-size="11.2" font-weight="bold" text-anchor="end">Angiotensinogen</text>
<text transform="translate(505.6,206.3) rotate(-45)" font-size="11.2" font-weight="bold" text-anchor="end">Agtr1a</text>
<text transform="translate(540.9,206.3) rotate(-45)" font-size="11.2" font-weight="bold" text-anchor="end">Agtr1b</text>
<text transform="translate(576.2,206.3) rotate(-45)" font-size="11.2" font-weight="bold" text-anchor="end">Agtr2</text>
<text transform="translate(611.5,206.3) rotate(-45)" font-size="11.2" font-weight="bold" text-anchor="end">ACE</text>
<text transform="translate(646.8,206.3) rotate(-45)" font-size="11.2" font-weight="bold" text-anchor="end">Renin</text>
<text transform="translate(682.0999999999999,206.3) rotate(-45)" font-size="11.2" font-weight="bold" text-anchor="end">ACE2</text>
<rect x="642.5" y="44.7" width="10" height="5.2" fill="#f00" stroke="#000" stroke-width="0.8"/>
<rect x="642.5" y="56" width="10" height="5.2" fill="#00f" stroke="#000" stroke-width="0.8"/>
<text x="659" y="50.3" font-size="8" textLength="46" lengthAdjust="spacingAndGlyphs" fill="#000">DA neurons</text>
<text x="659" y="61.5" font-size="8" textLength="49" lengthAdjust="spacingAndGlyphs" fill="#000">non-DA cells</text>
<text x="13.5" y="305.5" font-size="14.5" font-weight="bold" fill="#000">C</text>
<rect x="28.4" y="296.9" width="114.0" height="108.2" rx="11" ry="11" fill="#fff" stroke="#303030" stroke-width="1.1"/>
<rect x="181.5" y="304.3" width="117.5" height="94.1" rx="10" ry="10" fill="#fff" stroke="#303030" stroke-width="1.1"/>
<rect x="337.7" y="307.5" width="135.2" height="86.8" rx="10" ry="10" fill="#fff" stroke="#303030" stroke-width="1.1"/>
<rect x="511.3" y="313.7" width="262.0" height="75.2" rx="10" ry="10" fill="#fff" stroke="#303030" stroke-width="1.1"/>
<polygon points="151.9,344.1 162.1,344.1 162.1,339.6 172.1,351.3 162.1,363.0 162.1,358.5 151.9,358.5" fill="#a6a6a6"/>
<polygon points="308.5,343.6 318.7,343.6 318.7,339.1 328.7,350.8 318.7,362.5 318.7,358.0 308.5,358.0" fill="#a6a6a6"/>
<polygon points="481.8,344.1 492.0,344.1 492.0,339.6 502.0,351.3 492.0,363.0 492.0,358.5 481.8,358.5" fill="#a6a6a6"/>
<polygon points="703.1,461.1 714.9,461.1 714.9,480.2 718.3,480.2 709.0,489.1 699.7,480.2 703.1,480.2" fill="#a6a6a6"/>
<text x="81.2" y="319" font-size="13.5" text-anchor="middle" textLength="89.7" lengthAdjust="spacingAndGlyphs" fill="#000">Design highly</text>
<text x="84.3" y="336.5" font-size="13.5" text-anchor="middle" textLength="95.8" lengthAdjust="spacingAndGlyphs" fill="#000">efficient gRNA</text>
<circle cx="40.3" cy="358.6" r="1.9" fill="#000"/><circle cx="40.3" cy="379.2" r="1.9" fill="#000"/>
<text x="85.7" y="362.4" font-size="13.5" text-anchor="middle" textLength="77.2" lengthAdjust="spacingAndGlyphs" fill="#000">CHOPCHOP</text>
<text x="85.8" y="383" font-size="13.5" text-anchor="middle" textLength="77.5" lengthAdjust="spacingAndGlyphs" fill="#000">CRISPRScan</text>
<text x="239.9" y="319.5" font-size="13.5" text-anchor="middle" textLength="100.9" lengthAdjust="spacingAndGlyphs" fill="#000">Co-inject gRNA</text>
<text x="239.8" y="337.4" font-size="13.5" text-anchor="middle" textLength="61.3" lengthAdjust="spacingAndGlyphs" fill="#000">and Cas9</text>
<text x="240.2" y="354.9" font-size="13.5" text-anchor="middle" textLength="65.1" lengthAdjust="spacingAndGlyphs" fill="#000">protein in</text>
<text x="239.9" y="373.2" font-size="13.5" text-anchor="middle" textLength="65.9" lengthAdjust="spacingAndGlyphs" fill="#000">single cell</text>
<text x="240.2" y="391.5" font-size="13.5" text-anchor="middle" textLength="58.9" lengthAdjust="spacingAndGlyphs" fill="#000">embryos</text>
<text x="405.1" y="337.4" font-size="13.5" text-anchor="middle" textLength="95.6" lengthAdjust="spacingAndGlyphs" fill="#000">Sequence and</text>
<text x="405.2" y="355.2" font-size="13.5" text-anchor="middle" textLength="111.3" lengthAdjust="spacingAndGlyphs" fill="#000">determine gRNA</text>
<text x="405.2" y="372.9" font-size="13.5" text-anchor="middle" textLength="65.1" lengthAdjust="spacingAndGlyphs" fill="#000">efficiency</text>
<text x="641.6" y="338.2" font-size="13.5" text-anchor="middle" textLength="192.5" lengthAdjust="spacingAndGlyphs" fill="#000">Generate UAS-Cas9-T2A-GFP</text>
<text x="642.5" y="356.7" font-size="13.5" text-anchor="middle" textLength="223.6" lengthAdjust="spacingAndGlyphs" fill="#000">plasmid containing most efficient</text>
<text x="642.1" y="373.1" font-size="13.5" text-anchor="middle" textLength="156.5" lengthAdjust="spacingAndGlyphs" fill="#000">AGTR1a, AGTR1b gRNA</text>
<g fill="none" stroke="#000" stroke-width="1.9">
<path d="M39,434.7 Q52,437 56.3,451.4"/><path d="M55,459.4 Q50,466 39,468.7"/>
<path d="M69.5,443.5 A19.3,16.5 0 0 1 103.3,443.5"/><path d="M67.2,452 A19.3,16.5 0 0 0 105.6,452"/>
<path d="M133.7,434.7 Q120.7,437 116.4,451.4"/><path d="M117.7,459.4 Q122.7,466 133.7,468.7"/>
</g>
<g stroke="#000" stroke-width="1.7">
<line x1="41" y1="440.7" x2="41" y2="446.7"/>
<line x1="41" y1="450.7" x2="41" y2="461.4"/>
<line x1="49" y1="445.4" x2="49" y2="458"/>
<line x1="73.7" y1="446.7" x2="73.7" y2="456.7"/>
<line x1="81.7" y1="443.4" x2="81.7" y2="460"/>
<line x1="90.4" y1="443.4" x2="90.4" y2="460"/>
<line x1="99" y1="446.7" x2="99" y2="456.7"/>
<line x1="123.7" y1="445" x2="123.7" y2="458"/>
<line x1="131.7" y1="441.4" x2="131.7" y2="462"/>
</g>
<g stroke="#000" stroke-width="1.6" stroke-dasharray="3.5,7.4">
<line x1="62.1" y1="438" x2="62.1" y2="476"/><line x1="110.8" y1="438" x2="110.8" y2="476"/>
</g>
<g fill="none" stroke="#000" stroke-width="1.5"><circle cx="57.2" cy="420" r="2.9"/><circle cx="67.0" cy="420" r="2.9"/><line x1="58.6" y1="422.6" x2="67.0" y2="431.3"/><line x1="65.6" y1="422.6" x2="57.2" y2="431.3"/></g>
<g fill="none" stroke="#000" stroke-width="1.5"><circle cx="105.8" cy="420" r="2.9"/><circle cx="115.60000000000001" cy="420" r="2.9"/><line x1="107.2" y1="422.6" x2="115.60000000000001" y2="431.3"/><line x1="114.2" y1="422.6" x2="105.8" y2="431.3"/></g>
<circle cx="196.6" cy="458.3" r="19.8" fill="#fff" stroke="#000" stroke-width="1.1"/>
<path d="M184,445.4 Q196.8,455.4 209.6,445.4" fill="none" stroke="#000" stroke-width="1.1"/>
<circle cx="199.39999999999998" cy="442.90000000000003" r="2.6" fill="#ff4040" filter="url(#blur1)"/>
<polygon points="199.7,442.1 223.6,409.1 219.6,406.5" fill="#fff" stroke="#000" stroke-width="1.1" stroke-linejoin="miter"/>
<polygon points="199.7,442.1 215.0,420.5 212.9,419.1" fill="#e00000"/>
<defs><radialGradient id="cg" cx="50%" cy="45%" r="55%"><stop offset="0" stop-color="#c8ffb0"/><stop offset="0.7" stop-color="#b0f590"/><stop offset="1" stop-color="#8fe070"/></radialGradient></defs>
<path d="M243.5,432.2 C241,425 243,415 252,414 C262,412.5 276,418 281,428 C286,440 285,453 281,461 C277,469 262,470 250,468 C238,466 228,460 227,452 C225.5,443 228,436 235,433.5 C238,432.5 241,433 243.5,432.2 Z" fill="url(#cg)" stroke="#000" stroke-width="3.3"/>
<text x="255" y="452" font-size="11.5" text-anchor="middle" font-weight="bold" textLength="28" lengthAdjust="spacingAndGlyphs" fill="#000">Cas9</text>
<text x="313.4" y="421.3" font-size="5" text-anchor="middle" font-weight="bold" fill="#33c8f0">C</text>
<text x="322.4" y="421.3" font-size="5" text-anchor="middle" font-weight="bold" fill="#33c8f0">C</text>
<text x="332.3" y="421.3" font-size="5" text-anchor="middle" font-weight="bold" fill="#e05555">T</text>
<text x="341.7" y="421.3" font-size="5" text-anchor="middle" font-weight="bold" fill="#33c8f0">C</text>
<text x="349.7" y="421.3" font-size="5" text-anchor="middle" font-weight="bold" fill="#40c040">A</text>
<text x="359.1" y="421.3" font-size="5" text-anchor="middle" font-weight="bold" fill="#444">G</text>
<text x="367.9" y="421.3" font-size="5" text-anchor="middle" font-weight="bold" fill="#444">G</text>
<text x="377.3" y="421.3" font-size="5" text-anchor="middle" font-weight="bold" fill="#40c040">A</text>
<text x="388.4" y="421.3" font-size="5" text-anchor="middle" font-weight="bold" fill="#e05555">T</text>
<text x="396.6" y="421.3" font-size="5" text-anchor="middle" font-weight="bold" fill="#444">G</text>
<text x="406" y="421.3" font-size="5" text-anchor="middle" font-weight="bold" fill="#e05555">T</text>
<text x="415" y="421.3" font-size="5" text-anchor="middle" font-weight="bold" fill="#e05555">T</text>
<text x="424.5" y="421.3" font-size="5" text-anchor="middle" font-weight="bold" fill="#33c8f0">C</text>
<text x="434" y="421.3" font-size="5" text-anchor="middle" font-weight="bold" fill="#e05555">T</text>
<text x="443.4" y="421.3" font-size="5" text-anchor="middle" font-weight="bold" fill="#e05555">T</text>
<text x="452.8" y="421.3" font-size="5" text-anchor="middle" font-weight="bold" fill="#444">G</text>
<text x="461.2" y="421.3" font-size="5" text-anchor="middle" font-weight="bold" fill="#33c8f0">C</text>
<line x1="364.3" y1="413" x2="364.3" y2="467" stroke="#000" stroke-width="0.9" stroke-dasharray="2,1.5"/>
<g fill="none" stroke-width="0.8">
<polyline points="306.4,466.7 306.9,466.5 307.4,466.3 307.9,465.7 308.4,464.9 308.9,463.5 309.4,461.5 309.9,458.7 310.4,455.1 310.9,450.8 311.4,446.1 311.9,441.6 312.4,437.8 312.9,435.2 313.4,434.3 313.9,435.2 314.4,437.8 314.9,441.6 315.4,446.1 315.9,450.8 316.4,455.1 316.9,458.7 317.4,461.5 317.9,463.5 318.4,464.9 318.9,465.7 319.4,466.3 319.9,466.5 320.4,466.7" stroke="#33c8f0"/>
<polyline points="315.8,466.7 316.3,466.5 316.8,466.3 317.3,465.8 317.8,465.0 318.3,463.6 318.8,461.7 319.3,459.0 319.8,455.5 320.3,451.3 320.8,446.8 321.3,442.5 321.8,438.8 322.3,436.3 322.8,435.4 323.3,436.3 323.8,438.8 324.3,442.5 324.8,446.8 325.3,451.3 325.8,455.5 326.3,459.0 326.8,461.7 327.3,463.6 327.8,465.0 328.3,465.8 328.8,466.3 329.3,466.5 329.8,466.7" stroke="#33c8f0"/>
<polyline points="325.3,466.7 325.8,466.6 326.3,466.3 326.8,465.9 327.3,465.1 327.8,463.9 328.3,462.1 328.8,459.6 329.3,456.5 329.8,452.7 330.3,448.6 330.8,444.6 331.3,441.2 331.8,438.9 332.3,438.1 332.8,438.9 333.3,441.2 333.8,444.6 334.3,448.6 334.8,452.7 335.3,456.5 335.8,459.6 336.3,462.1 336.8,463.9 337.3,465.1 337.8,465.9 338.3,466.3 338.8,466.6 339.3,466.7" stroke="#e05555"/>
<polyline points="334.7,466.7 335.2,466.5 335.7,466.3 336.2,465.8 336.7,465.0 337.2,463.7 337.7,461.8 338.2,459.1 338.7,455.7 339.2,451.6 339.7,447.2 340.2,442.9 340.7,439.3 341.2,436.9 341.7,436.0 342.2,436.9 342.7,439.3 343.2,442.9 343.7,447.2 344.2,451.6 344.7,455.7 345.2,459.1 345.7,461.8 346.2,463.7 346.7,465.0 347.2,465.8 347.7,466.3 348.2,466.5 348.7,466.7" stroke="#33c8f0"/>
<polyline points="342.7,466.7 343.2,466.7 343.7,466.5 344.2,466.2 344.7,465.8 345.2,465.0 345.7,464.0 346.2,462.5 346.7,460.5 347.2,458.2 347.7,455.7 348.2,453.3 348.7,451.3 349.2,449.9 349.7,449.4 350.2,449.9 350.7,451.3 351.2,453.3 351.7,455.7 352.2,458.2 352.7,460.5 353.2,462.5 353.7,464.0 354.2,465.0 354.7,465.8 355.2,466.2 355.7,466.5 356.2,466.7 356.7,466.7" stroke="#40c040"/>
<polyline points="352.0,466.8 352.5,466.7 353.0,466.6 353.5,466.4 354.0,466.1 354.5,465.5 355.0,464.8 355.5,463.7 356.0,462.3 356.5,460.6 357.0,458.9 357.5,457.1 358.0,455.6 358.5,454.6 359.0,454.3 359.5,454.6 360.0,455.6 360.5,457.1 361.0,458.9 361.5,460.6 362.0,462.3 362.5,463.7 363.0,464.8 363.5,465.5 364.0,466.1 364.5,466.4 365.0,466.6 365.5,466.7 366.0,466.8" stroke="#444"/>
<polyline points="362.0,466.7 362.5,466.7 363.0,466.6 363.5,466.3 364.0,466.0 364.5,465.4 365.0,464.5 365.5,463.3 366.0,461.8 366.5,459.9 367.0,457.9 367.5,456.0 368.0,454.3 368.5,453.2 369.0,452.8 369.5,453.2 370.0,454.3 370.5,456.0 371.0,457.9 371.5,459.9 372.0,461.8 372.5,463.3 373.0,464.5 373.5,465.4 374.0,466.0 374.5,466.3 375.0,466.6 375.5,466.7 376.0,466.7" stroke="#e05555"/>
<polyline points="361.0,466.8 361.5,466.7 362.0,466.6 362.5,466.4 363.0,466.1 363.5,465.6 364.0,464.9 364.5,463.9 365.0,462.5 365.5,461.0 366.0,459.3 366.5,457.7 367.0,456.3 367.5,455.3 368.0,455.0 368.5,455.3 369.0,456.3 369.5,457.7 370.0,459.3 370.5,461.0 371.0,462.5 371.5,463.9 372.0,464.9 372.5,465.6 373.0,466.1 373.5,466.4 374.0,466.6 374.5,466.7 375.0,466.8" stroke="#444"/>
<polyline points="371.0,466.7 371.5,466.7 372.0,466.6 372.5,466.4 373.0,466.0 373.5,465.5 374.0,464.6 374.5,463.5 375.0,462.0 375.5,460.3 376.0,458.4 376.5,456.6 377.0,455.0 377.5,454.0 378.0,453.6 378.5,454.0 379.0,455.0 379.5,456.6 380.0,458.4 380.5,460.3 381.0,462.0 381.5,463.5 382.0,464.6 382.5,465.5 383.0,466.0 383.5,466.4 384.0,466.6 384.5,466.7 385.0,466.7" stroke="#40c040"/>
<polyline points="372.0,466.8 372.5,466.7 373.0,466.6 373.5,466.5 374.0,466.2 374.5,465.7 375.0,465.0 375.5,464.1 376.0,462.9 376.5,461.5 377.0,459.9 377.5,458.4 378.0,457.2 378.5,456.3 379.0,456.0 379.5,456.3 380.0,457.2 380.5,458.4 381.0,459.9 381.5,461.5 382.0,462.9 382.5,464.1 383.0,465.0 383.5,465.7 384.0,466.2 384.5,466.5 385.0,466.6 385.5,466.7 386.0,466.8" stroke="#e05555"/>
<polyline points="381.4,466.8 381.9,466.7 382.4,466.6 382.9,466.5 383.4,466.2 383.9,465.9 384.4,465.3 384.9,464.5 385.4,463.4 385.9,462.2 386.4,460.8 386.9,459.5 387.4,458.4 387.9,457.7 388.4,457.4 388.9,457.7 389.4,458.4 389.9,459.5 390.4,460.8 390.9,462.2 391.4,463.4 391.9,464.5 392.4,465.3 392.9,465.9 393.4,466.2 393.9,466.5 394.4,466.6 394.9,466.7 395.4,466.8" stroke="#e05555"/>
<polyline points="381.0,466.8 381.5,466.7 382.0,466.7 382.5,466.6 383.0,466.4 383.5,466.1 384.0,465.7 384.5,465.1 385.0,464.3 385.5,463.5 386.0,462.5 386.5,461.5 387.0,460.7 387.5,460.2 388.0,460.0 388.5,460.2 389.0,460.7 389.5,461.5 390.0,462.5 390.5,463.5 391.0,464.3 391.5,465.1 392.0,465.7 392.5,466.1 393.0,466.4 393.5,466.6 394.0,466.7 394.5,466.7 395.0,466.8" stroke="#444"/>
<polyline points="390.2,466.7 390.7,466.6 391.2,466.5 391.7,466.2 392.2,465.7 392.7,464.9 393.2,463.7 393.7,462.0 394.2,459.9 394.7,457.3 395.2,454.6 395.7,451.9 396.2,449.7 396.7,448.1 397.2,447.6 397.7,448.1 398.2,449.7 398.7,451.9 399.2,454.6 399.7,457.3 400.2,459.9 400.7,462.0 401.2,463.7 401.7,464.9 402.2,465.7 402.7,466.2 403.2,466.5 403.7,466.6 404.2,466.7" stroke="#444"/>
<polyline points="390.2,466.8 390.7,466.7 391.2,466.6 391.7,466.5 392.2,466.2 392.7,465.8 393.2,465.2 393.7,464.4 394.2,463.3 394.7,462.0 395.2,460.6 395.7,459.2 396.2,458.1 396.7,457.3 397.2,457.0 397.7,457.3 398.2,458.1 398.7,459.2 399.2,460.6 399.7,462.0 400.2,463.3 400.7,464.4 401.2,465.2 401.7,465.8 402.2,466.2 402.7,466.5 403.2,466.6 403.7,466.7 404.2,466.8" stroke="#33c8f0"/>
<polyline points="399.7,466.7 400.2,466.6 400.7,466.5 401.2,466.2 401.7,465.7 402.2,464.9 402.7,463.7 403.2,462.0 403.7,459.9 404.2,457.3 404.7,454.6 405.2,451.9 405.7,449.7 406.2,448.1 406.7,447.6 407.2,448.1 407.7,449.7 408.2,451.9 408.7,454.6 409.2,457.3 409.7,459.9 410.2,462.0 410.7,463.7 411.2,464.9 411.7,465.7 412.2,466.2 412.7,466.5 413.2,466.6 413.7,466.7" stroke="#e05555"/>
<polyline points="408.5,466.7 409.0,466.6 409.5,466.4 410.0,466.0 410.5,465.4 411.0,464.4 411.5,463.0 412.0,461.0 412.5,458.4 413.0,455.3 413.5,451.9 414.0,448.7 414.5,445.9 415.0,444.1 415.5,443.4 416.0,444.1 416.5,445.9 417.0,448.7 417.5,451.9 418.0,455.3 418.5,458.4 419.0,461.0 419.5,463.0 420.0,464.4 420.5,465.4 421.0,466.0 421.5,466.4 422.0,466.6 422.5,466.7" stroke="#e05555"/>
<polyline points="417.5,466.7 418.0,466.7 418.5,466.5 419.0,466.2 419.5,465.8 420.0,465.0 420.5,464.0 421.0,462.5 421.5,460.5 422.0,458.2 422.5,455.7 423.0,453.3 423.5,451.3 424.0,449.9 424.5,449.4 425.0,449.9 425.5,451.3 426.0,453.3 426.5,455.7 427.0,458.2 427.5,460.5 428.0,462.5 428.5,464.0 429.0,465.0 429.5,465.8 430.0,466.2 430.5,466.5 431.0,466.7 431.5,466.7" stroke="#33c8f0"/>
<polyline points="418.0,466.8 418.5,466.7 419.0,466.6 419.5,466.5 420.0,466.2 420.5,465.7 421.0,465.0 421.5,464.1 422.0,462.9 422.5,461.5 423.0,459.9 423.5,458.4 424.0,457.2 424.5,456.3 425.0,456.0 425.5,456.3 426.0,457.2 426.5,458.4 427.0,459.9 427.5,461.5 428.0,462.9 428.5,464.1 429.0,465.0 429.5,465.7 430.0,466.2 430.5,466.5 431.0,466.6 431.5,466.7 432.0,466.8" stroke="#444"/>
<polyline points="427.0,466.7 427.5,466.7 428.0,466.6 428.5,466.4 429.0,466.0 429.5,465.5 430.0,464.6 430.5,463.5 431.0,462.0 431.5,460.3 432.0,458.4 432.5,456.6 433.0,455.0 433.5,454.0 434.0,453.6 434.5,454.0 435.0,455.0 435.5,456.6 436.0,458.4 436.5,460.3 437.0,462.0 437.5,463.5 438.0,464.6 438.5,465.5 439.0,466.0 439.5,466.4 440.0,466.6 440.5,466.7 441.0,466.7" stroke="#e05555"/>
<polyline points="427.0,466.8 427.5,466.7 428.0,466.7 428.5,466.5 429.0,466.3 429.5,466.0 430.0,465.5 430.5,464.9 431.0,464.0 431.5,463.0 432.0,461.8 432.5,460.8 433.0,459.8 433.5,459.2 434.0,459.0 434.5,459.2 435.0,459.8 435.5,460.8 436.0,461.8 436.5,463.0 437.0,464.0 437.5,464.9 438.0,465.5 438.5,466.0 439.0,466.3 439.5,466.5 440.0,466.7 440.5,466.7 441.0,466.8" stroke="#33c8f0"/>
<polyline points="436.4,466.7 436.9,466.7 437.4,466.5 437.9,466.2 438.4,465.8 438.9,465.1 439.4,464.0 439.9,462.5 440.4,460.6 440.9,458.4 441.4,455.9 441.9,453.6 442.4,451.5 442.9,450.2 443.4,449.7 443.9,450.2 444.4,451.5 444.9,453.6 445.4,455.9 445.9,458.4 446.4,460.6 446.9,462.5 447.4,464.0 447.9,465.1 448.4,465.8 448.9,466.2 449.4,466.5 449.9,466.7 450.4,466.7" stroke="#e05555"/>
<polyline points="445.8,466.7 446.3,466.6 446.8,466.5 447.3,466.1 447.8,465.6 448.3,464.7 448.8,463.5 449.3,461.7 449.8,459.4 450.3,456.7 450.8,453.8 451.3,450.9 451.8,448.5 452.3,446.9 452.8,446.3 453.3,446.9 453.8,448.5 454.3,450.9 454.8,453.8 455.3,456.7 455.8,459.4 456.3,461.7 456.8,463.5 457.3,464.7 457.8,465.6 458.3,466.1 458.8,466.5 459.3,466.6 459.8,466.7" stroke="#444"/>
<polyline points="445.8,466.8 446.3,466.7 446.8,466.7 447.3,466.5 447.8,466.3 448.3,465.9 448.8,465.4 449.3,464.6 449.8,463.6 450.3,462.5 450.8,461.2 451.3,460.0 451.8,458.9 452.3,458.2 452.8,458.0 453.3,458.2 453.8,458.9 454.3,460.0 454.8,461.2 455.3,462.5 455.8,463.6 456.3,464.6 456.8,465.4 457.3,465.9 457.8,466.3 458.3,466.5 458.8,466.7 459.3,466.7 459.8,466.8" stroke="#40c040"/>
<polyline points="454.2,466.8 454.7,466.7 455.2,466.6 455.7,466.4 456.2,466.1 456.7,465.6 457.2,464.9 457.7,463.9 458.2,462.7 458.7,461.1 459.2,459.5 459.7,457.9 460.2,456.5 460.7,455.6 461.2,455.3 461.7,455.6 462.2,456.5 462.7,457.9 463.2,459.5 463.7,461.1 464.2,462.7 464.7,463.9 465.2,464.9 465.7,465.6 466.2,466.1 466.7,466.4 467.2,466.6 467.7,466.7 468.2,466.8" stroke="#33c8f0"/>
</g>
<line x1="313" y1="466.8" x2="463" y2="466.8" stroke="#aaa" stroke-width="0.6"/>
<text x="346.5" y="478" font-size="5.5" text-anchor="middle" fill="#666">110</text>
<text x="393" y="478" font-size="5.5" text-anchor="middle" fill="#666">115</text>
<text x="439.2" y="478" font-size="5.5" text-anchor="middle" fill="#666">120</text>
<g fill="none" stroke="#555" stroke-width="0.8">
<line x1="480" y1="413.7" x2="766" y2="413.7"/>
<line x1="480.8" y1="457.2" x2="763" y2="457.2"/>
<path d="M480.8,413.7 A17.5,21.75 0 0 0 480.8,457.2"/>
<path d="M766,413.7 A18,21.75 0 0 1 767.5,457.2"/>
</g>
<polygon points="480.8,404.5 497.3,404.5 497.3,396.2 512.0,413.5 497.3,430.7 497.3,422.4 480.8,422.4" fill="#ffff00" stroke="#222" stroke-width="0.9"/>
<text x="492.032" y="415.8" font-size="6" text-anchor="middle" font-weight="bold" fill="#000">U6</text>
<rect x="512.8" y="405.8" width="33.2" height="15.2" fill="#f5ae00" stroke="#222" stroke-width="0.9"/>
<text x="529.4" y="415.59999999999997" font-size="6" text-anchor="middle" font-weight="bold" fill="#000">Agtr1a</text>
<polygon points="568.8,404.5 584.3,404.5 584.3,396.2 598.0,413.5 584.3,430.7 584.3,422.4 568.8,422.4" fill="#ffff00" stroke="#222" stroke-width="0.9"/>
<text x="579.312" y="415.8" font-size="6" text-anchor="middle" font-weight="bold" fill="#000">UAS</text>
<rect x="598" y="406.6" width="32.3" height="15.8" fill="#ff0000" stroke="#222" stroke-width="0.9"/>
<text x="614.15" y="416.7" font-size="6" text-anchor="middle" font-weight="bold" fill="#000">Cas9</text>
<rect x="630.3" y="406.6" width="20.0" height="15.8" fill="#00b0f0" stroke="#222" stroke-width="0.9"/>
<text x="640.3" y="416.7" font-size="6" text-anchor="middle" font-weight="bold" fill="#000">T2A</text>
<rect x="650.3" y="406.6" width="32.7" height="15.8" fill="#00b050" stroke="#222" stroke-width="0.9"/>
<text x="666.65" y="416.7" font-size="6" text-anchor="middle" font-weight="bold" fill="#000">GFP</text>
<polygon points="702.0,404.5 717.9,404.5 717.9,396.2 732.0,413.5 717.9,430.7 717.9,422.4 702.0,422.4" fill="#ffff00" stroke="#222" stroke-width="0.9"/>
<text x="712.8" y="415.8" font-size="6" text-anchor="middle" font-weight="bold" fill="#000">U6</text>
<rect x="732" y="405.8" width="34.0" height="15.2" fill="#f5ae00" stroke="#222" stroke-width="0.9"/>
<text x="749.0" y="415.59999999999997" font-size="6" text-anchor="middle" font-weight="bold" fill="#000">Agtr1b</text>
<rect x="490.3" y="447" width="20.7" height="19.0" fill="#4f81bd" stroke="#222" stroke-width="0.9"/>
<text x="500.65" y="458.7" font-size="6" text-anchor="middle" font-weight="bold" fill="#000">Tol2</text>
<rect x="730" y="447" width="21.0" height="19.0" fill="#4f81bd" stroke="#222" stroke-width="0.9"/>
<text x="740.5" y="458.7" font-size="6" text-anchor="middle" font-weight="bold" fill="#000">Tol2</text>
<rect x="18.4" y="518.4" width="210.5" height="61.5" rx="10" ry="10" fill="#fff" stroke="#303030" stroke-width="1.1"/>
<rect x="278.9" y="520.8" width="296.5" height="55.4" rx="10" ry="10" fill="#fff" stroke="#303030" stroke-width="1.1"/>
<rect x="626" y="511.4" width="160.6" height="74.2" rx="10" ry="10" fill="#fff" stroke="#303030" stroke-width="1.1"/>
<polygon points="262.9,542.1 252.5,542.1 252.5,538.2 243.9,548.7 252.5,559.2 252.5,555.4 262.9,555.4" fill="#a6a6a6"/>
<polygon points="610.0,542.0 599.6,542.0 599.6,538.1 591.0,548.6 599.6,559.1 599.6,555.2 610.0,555.2" fill="#a6a6a6"/>
<text x="123.3" y="544.9" font-size="13.5" text-anchor="middle" textLength="128.2" lengthAdjust="spacingAndGlyphs" fill="#000">Image Analysis and</text>
<text x="123.5" y="562.6" font-size="13.5" text-anchor="middle" textLength="96" lengthAdjust="spacingAndGlyphs" fill="#000">Quantification</text>
<text x="427.7" y="534.4" font-size="13.5" text-anchor="middle" textLength="253.6" lengthAdjust="spacingAndGlyphs" fill="#000">Confocal imaging at 5dpf (before MTZ</text>
<text x="427.5" y="551.8" font-size="13.5" text-anchor="middle" textLength="211.4" lengthAdjust="spacingAndGlyphs" fill="#000">treatment) and 6dpf (after MTZ</text>
<text x="428.1" y="569.3" font-size="13.5" text-anchor="middle" textLength="74.7" lengthAdjust="spacingAndGlyphs" fill="#000">treatment)</text>
<text x="706.5" y="525.8" font-size="13.5" text-anchor="middle" textLength="111.3" lengthAdjust="spacingAndGlyphs" fill="#000">Co-inject CRISPR</text>
<text x="706.2" y="544.3" font-size="13.5" text-anchor="middle" textLength="113.1" lengthAdjust="spacingAndGlyphs" fill="#000">plasmid and Tol2</text>
<text x="706.2" y="562.3" font-size="13.5" text-anchor="middle" textLength="128.9" lengthAdjust="spacingAndGlyphs" fill="#000">RNA into single cell</text>
<text x="706.5" y="580.3" font-size="13.5" text-anchor="middle" textLength="59.3" lengthAdjust="spacingAndGlyphs" fill="#000">embryos</text>
<text x="2" y="616.3" font-size="13.2" font-weight="bold" textLength="104.5" lengthAdjust="spacingAndGlyphs" fill="#000">Analysis Method</text>
<text x="16" y="632.7" font-size="10" font-weight="bold" font-style="italic" textLength="103" lengthAdjust="spacingAndGlyphs" style='font-family:"Liberation Serif", serif' fill="#000">DA neuron intensity</text>
<text x="15.5" y="655.5" font-size="12.5" font-weight="bold" style='font-family:"Liberation Serif", serif' fill="#000">=</text>
<path d="M30,639.5 L27.3,639.5 L27.3,664.5 L30,664.5" fill="none" stroke="#000" stroke-width="1.2"/>
<path d="M295.5,639.5 L298.2,639.5 L298.2,664.5 L295.5,664.5" fill="none" stroke="#000" stroke-width="1.2"/>
<text x="31" y="655.5" font-size="11.5" font-weight="bold" textLength="15.5" lengthAdjust="spacingAndGlyphs" style='font-family:"Liberation Serif", serif' fill="#000">1 −</text>
<text x="49.6" y="647" font-size="10" font-weight="bold" font-style="italic" textLength="246" lengthAdjust="spacingAndGlyphs" style='font-family:"Liberation Serif", serif' fill="#000"># Yellow neurons before − Yellow Neurons after</text>
<line x1="47.7" y1="651.6" x2="296.6" y2="651.6" stroke="#000" stroke-width="0.8"/>
<text x="114" y="662.5" font-size="10" font-weight="bold" font-style="italic" textLength="116.6" lengthAdjust="spacingAndGlyphs" style='font-family:"Liberation Serif", serif' fill="#000">Yellow neurons before</text>
<defs><filter id="tex" x="-60%" y="-60%" width="220%" height="220%"><feTurbulence type="fractalNoise" baseFrequency="0.45" numOctaves="2" seed="9" result="n"/><feColorMatrix in="n" type="matrix" values="0 0 0 0 1 0 0 0 0 1 0 0 0 0 1 3.5 0 0 0 -1.5" result="m"/><feComposite in="SourceGraphic" in2="m" operator="in"/></filter>
<filter id="tex2" x="-60%" y="-60%" width="220%" height="220%"><feTurbulence type="fractalNoise" baseFrequency="0.25" numOctaves="2" seed="3" result="n"/><feColorMatrix in="n" type="matrix" values="0 0 0 0 1 0 0 0 0 1 0 0 0 0 1 3 0 0 0 -1.2" result="m"/><feComposite in="SourceGraphic" in2="m" operator="in"/></filter>
<g id="redImg"><rect width="107" height="106" fill="#0c0000"/><g filter="url(#tex)"><g filter="url(#blur8)"><ellipse cx="18" cy="15" rx="22" ry="22" fill="#6a0000"/><ellipse cx="55" cy="62" rx="42" ry="36" fill="#700000"/><ellipse cx="25" cy="95" rx="30" ry="14" fill="#500000"/><ellipse cx="90" cy="50" rx="14" ry="35" fill="#300000"/></g></g><g filter="url(#blur8)" opacity="0.6"><ellipse cx="55" cy="58" rx="35" ry="25" fill="#500000"/></g><g filter="url(#blur05)"><ellipse cx="75.2" cy="29.7" rx="1.9" ry="1.0" transform="rotate(89 75.2 29.7)" fill="#ff1010"/><ellipse cx="79.7" cy="36.6" rx="1.6" ry="0.9" transform="rotate(116 79.7 36.6)" fill="#ff0a0a"/><ellipse cx="77.0" cy="33.8" rx="1.8" ry="0.9" transform="rotate(85 77.0 33.8)" fill="#ff2020"/><ellipse cx="78.7" cy="28.8" rx="2.0" ry="1.1" transform="rotate(118 78.7 28.8)" fill="#ff1010"/><ellipse cx="81.6" cy="38.6" rx="2.0" ry="1.1" transform="rotate(166 81.6 38.6)" fill="#ff2020"/><ellipse cx="82.9" cy="24.2" rx="1.7" ry="0.9" transform="rotate(144 82.9 24.2)" fill="#ff2020"/><ellipse cx="75.4" cy="23.9" rx="0.9" ry="0.5" transform="rotate(114 75.4 23.9)" fill="#ff2020"/><ellipse cx="85.4" cy="39.0" rx="1.4" ry="0.8" transform="rotate(141 85.4 39.0)" fill="#c80000"/><ellipse cx="76.8" cy="33.0" rx="2.2" ry="1.1" transform="rotate(176 76.8 33.0)" fill="#e00000"/><ellipse cx="82.1" cy="31.2" rx="1.4" ry="0.7" transform="rotate(123 82.1 31.2)" fill="#e00000"/><ellipse cx="79.2" cy="21.8" rx="1.0" ry="0.6" transform="rotate(166 79.2 21.8)" fill="#e00000"/><ellipse cx="79.7" cy="25.4" rx="2.0" ry="1.1" transform="rotate(131 79.7 25.4)" fill="#ff1010"/><ellipse cx="85.4" cy="38.6" rx="1.2" ry="0.7" transform="rotate(173 85.4 38.6)" fill="#ff0a0a"/><ellipse cx="82.0" cy="27.1" rx="1.0" ry="0.5" transform="rotate(178 82.0 27.1)" fill="#e00000"/><ellipse cx="74.8" cy="21.6" rx="1.7" ry="0.9" transform="rotate(79 74.8 21.6)" fill="#ff2020"/><ellipse cx="81.1" cy="24.9" rx="2.0" ry="1.1" transform="rotate(91 81.1 24.9)" fill="#c80000"/><ellipse cx="74.7" cy="24.5" rx="1.6" ry="0.9" transform="rotate(53 74.7 24.5)" fill="#c80000"/><ellipse cx="74.5" cy="34.2" rx="1.1" ry="0.6" transform="rotate(139 74.5 34.2)" fill="#ff1010"/><ellipse cx="73.5" cy="29.5" rx="1.0" ry="0.5" transform="rotate(12 73.5 29.5)" fill="#ff1010"/><ellipse cx="75.4" cy="21.4" rx="1.2" ry="0.6" transform="rotate(31 75.4 21.4)" fill="#ff0a0a"/><ellipse cx="76.8" cy="34.4" rx="1.9" ry="1.0" transform="rotate(138 76.8 34.4)" fill="#ff0a0a"/><ellipse cx="79.6" cy="29.6" rx="1.8" ry="1.0" transform="rotate(49 79.6 29.6)" fill="#c80000"/><ellipse cx="82.4" cy="37.7" rx="1.5" ry="0.8" transform="rotate(105 82.4 37.7)" fill="#ff2020"/><ellipse cx="86.1" cy="37.4" rx="1.0" ry="0.5" transform="rotate(12 86.1 37.4)" fill="#ff2020"/><ellipse cx="79.0" cy="26.0" rx="1.3" ry="0.7" transform="rotate(9 79.0 26.0)" fill="#e00000"/><ellipse cx="81.6" cy="25.2" rx="0.9" ry="0.5" transform="rotate(56 81.6 25.2)" fill="#ff0a0a"/><ellipse cx="77.5" cy="33.5" rx="1.7" ry="0.9" transform="rotate(149 77.5 33.5)" fill="#ff0a0a"/><ellipse cx="78.4" cy="34.1" rx="1.5" ry="0.8" transform="rotate(21 78.4 34.1)" fill="#ff2020"/><ellipse cx="78.4" cy="36.6" rx="1.1" ry="0.6" transform="rotate(174 78.4 36.6)" fill="#ff0a0a"/><ellipse cx="84.4" cy="34.7" rx="1.6" ry="0.8" transform="rotate(97 84.4 34.7)" fill="#ff2020"/><ellipse cx="78.9" cy="29.5" rx="1.2" ry="0.6" transform="rotate(153 78.9 29.5)" fill="#ff2020"/><ellipse cx="86.0" cy="31.6" rx="1.3" ry="0.7" transform="rotate(162 86.0 31.6)" fill="#ff1010"/><ellipse cx="84.5" cy="29.3" rx="2.1" ry="1.1" transform="rotate(28 84.5 29.3)" fill="#c80000"/><ellipse cx="83.1" cy="23.1" rx="1.1" ry="0.6" transform="rotate(57 83.1 23.1)" fill="#c80000"/><ellipse cx="79.6" cy="27.6" rx="2.2" ry="1.2" transform="rotate(11 79.6 27.6)" fill="#ff0a0a"/><ellipse cx="87.1" cy="28.9" rx="1.7" ry="0.9" transform="rotate(27 87.1 28.9)" fill="#ff1010"/><ellipse cx="83.6" cy="26.5" rx="1.8" ry="1.0" transform="rotate(145 83.6 26.5)" fill="#c80000"/><ellipse cx="87.9" cy="31.7" rx="1.1" ry="0.6" transform="rotate(144 87.9 31.7)" fill="#e00000"/><ellipse cx="78.8" cy="38.4" rx="1.0" ry="0.6" transform="rotate(82 78.8 38.4)" fill="#ff1010"/><ellipse cx="85.1" cy="38.9" rx="1.3" ry="0.7" transform="rotate(58 85.1 38.9)" fill="#e00000"/><ellipse cx="80.8" cy="31.6" rx="1.1" ry="0.6" transform="rotate(122 80.8 31.6)" fill="#ff0a0a"/><ellipse cx="78.4" cy="30.1" rx="1.6" ry="0.8" transform="rotate(150 78.4 30.1)" fill="#c80000"/><ellipse cx="76.9" cy="32.7" rx="1.6" ry="0.9" transform="rotate(176 76.9 32.7)" fill="#ff0a0a"/><ellipse cx="83.9" cy="29.9" rx="1.8" ry="1.0" transform="rotate(57 83.9 29.9)" fill="#ff0a0a"/><ellipse cx="78.6" cy="27.0" rx="1.7" ry="0.9" transform="rotate(78 78.6 27.0)" fill="#ff0a0a"/><ellipse cx="77.7" cy="37.9" rx="1.5" ry="0.8" transform="rotate(49 77.7 37.9)" fill="#c80000"/><ellipse cx="78.0" cy="23.7" rx="1.7" ry="0.9" transform="rotate(39 78.0 23.7)" fill="#c80000"/><ellipse cx="87.5" cy="34.9" rx="1.0" ry="0.5" transform="rotate(154 87.5 34.9)" fill="#e00000"/><ellipse cx="76.1" cy="26.0" rx="1.8" ry="1.0" transform="rotate(4 76.1 26.0)" fill="#ff1010"/><ellipse cx="76.1" cy="31.0" rx="1.5" ry="0.8" transform="rotate(168 76.1 31.0)" fill="#c80000"/><ellipse cx="80.7" cy="29.1" rx="1.4" ry="0.8" transform="rotate(111 80.7 29.1)" fill="#ff2020"/><ellipse cx="75.7" cy="25.9" rx="1.2" ry="0.6" transform="rotate(102 75.7 25.9)" fill="#e00000"/><ellipse cx="77.0" cy="21.2" rx="1.3" ry="0.7" transform="rotate(45 77.0 21.2)" fill="#c80000"/><ellipse cx="73.7" cy="28.9" rx="1.9" ry="1.0" transform="rotate(43 73.7 28.9)" fill="#ff0a0a"/><ellipse cx="85.2" cy="30.0" rx="1.2" ry="0.6" transform="rotate(61 85.2 30.0)" fill="#c80000"/><ellipse cx="85.2" cy="27.7" rx="2.2" ry="1.1" transform="rotate(148 85.2 27.7)" fill="#e00000"/><ellipse cx="80.0" cy="33.0" rx="2.0" ry="1.1" transform="rotate(101 80.0 33.0)" fill="#c80000"/><ellipse cx="78.6" cy="23.7" rx="1.1" ry="0.6" transform="rotate(87 78.6 23.7)" fill="#ff2020"/><ellipse cx="80.6" cy="28.6" rx="1.5" ry="0.8" transform="rotate(24 80.6 28.6)" fill="#ff1010"/><ellipse cx="81.2" cy="24.1" rx="1.2" ry="0.7" transform="rotate(157 81.2 24.1)" fill="#ff0a0a"/><ellipse cx="85.3" cy="26.2" rx="1.6" ry="0.8" transform="rotate(104 85.3 26.2)" fill="#e00000"/><ellipse cx="83.7" cy="32.5" rx="1.5" ry="0.8" transform="rotate(178 83.7 32.5)" fill="#e00000"/><ellipse cx="74.0" cy="26.4" rx="1.7" ry="0.9" transform="rotate(95 74.0 26.4)" fill="#ff2020"/><ellipse cx="77.7" cy="25.3" rx="1.5" ry="0.8" transform="rotate(68 77.7 25.3)" fill="#ff0a0a"/><ellipse cx="87.6" cy="31.3" rx="1.9" ry="1.0" transform="rotate(70 87.6 31.3)" fill="#ff0a0a"/><ellipse cx="82.7" cy="39.9" rx="1.5" ry="0.8" transform="rotate(160 82.7 39.9)" fill="#e00000"/><ellipse cx="81.5" cy="38.1" rx="1.0" ry="0.5" transform="rotate(46 81.5 38.1)" fill="#e00000"/><ellipse cx="82.5" cy="38.4" rx="1.2" ry="0.6" transform="rotate(86 82.5 38.4)" fill="#ff0a0a"/><ellipse cx="82.4" cy="23.7" rx="1.4" ry="0.8" transform="rotate(101 82.4 23.7)" fill="#ff0a0a"/><ellipse cx="78.1" cy="28.7" rx="2.0" ry="1.1" transform="rotate(63 78.1 28.7)" fill="#ff1010"/><ellipse cx="85.2" cy="35.6" rx="1.8" ry="1.0" transform="rotate(94 85.2 35.6)" fill="#ff1010"/><ellipse cx="79.5" cy="29.6" rx="1.9" ry="1.0" transform="rotate(50 79.5 29.6)" fill="#e00000"/><ellipse cx="85.3" cy="30.4" rx="1.9" ry="1.0" transform="rotate(121 85.3 30.4)" fill="#ff2020"/><ellipse cx="88.3" cy="38.4" rx="1.9" ry="1.0" transform="rotate(62 88.3 38.4)" fill="#c80000"/><ellipse cx="84.8" cy="25.4" rx="1.5" ry="0.8" transform="rotate(104 84.8 25.4)" fill="#ff2020"/><ellipse cx="54.1" cy="40.9" rx="2.2" ry="1.2" transform="rotate(119 54.1 40.9)" fill="#e00000"/><ellipse cx="32.2" cy="52.8" rx="1.7" ry="0.9" transform="rotate(124 32.2 52.8)" fill="#e00000"/><ellipse cx="58.7" cy="41.6" rx="2.2" ry="1.2" transform="rotate(65 58.7 41.6)" fill="#ff0a0a"/><ellipse cx="61.9" cy="47.5" rx="1.5" ry="0.8" transform="rotate(61 61.9 47.5)" fill="#e00000"/><ellipse cx="56.5" cy="48.9" rx="1.2" ry="0.6" transform="rotate(119 56.5 48.9)" fill="#ff1010"/><ellipse cx="64.1" cy="59.6" rx="1.8" ry="1.0" transform="rotate(101 64.1 59.6)" fill="#e00000"/><ellipse cx="62.4" cy="42.2" rx="1.0" ry="0.5" transform="rotate(1 62.4 42.2)" fill="#ff1010"/><ellipse cx="66.1" cy="41.7" rx="1.0" ry="0.5" transform="rotate(94 66.1 41.7)" fill="#ff0a0a"/><ellipse cx="53.5" cy="39.3" rx="0.9" ry="0.5" transform="rotate(71 53.5 39.3)" fill="#ff2020"/><ellipse cx="32.9" cy="39.2" rx="1.8" ry="1.0" transform="rotate(167 32.9 39.2)" fill="#e00000"/><ellipse cx="53.6" cy="39.8" rx="2.0" ry="1.1" transform="rotate(79 53.6 39.8)" fill="#c80000"/><ellipse cx="66.0" cy="40.4" rx="1.6" ry="0.9" transform="rotate(21 66.0 40.4)" fill="#ff0a0a"/><ellipse cx="32.9" cy="55.6" rx="1.6" ry="0.9" transform="rotate(30 32.9 55.6)" fill="#ff1010"/><ellipse cx="58.0" cy="56.9" rx="1.7" ry="0.9" transform="rotate(163 58.0 56.9)" fill="#ff1010"/><ellipse cx="36.0" cy="40.3" rx="2.0" ry="1.1" transform="rotate(114 36.0 40.3)" fill="#c80000"/><ellipse cx="33.5" cy="39.2" rx="1.3" ry="0.7" transform="rotate(17 33.5 39.2)" fill="#ff1010"/><ellipse cx="32.7" cy="54.6" rx="2.2" ry="1.2" transform="rotate(14 32.7 54.6)" fill="#ff1010"/><ellipse cx="38.1" cy="59.5" rx="1.3" ry="0.7" transform="rotate(39 38.1 59.5)" fill="#e00000"/><ellipse cx="40.5" cy="41.3" rx="1.1" ry="0.6" transform="rotate(62 40.5 41.3)" fill="#e00000"/><ellipse cx="34.1" cy="58.6" rx="2.1" ry="1.1" transform="rotate(3 34.1 58.6)" fill="#ff0a0a"/><ellipse cx="56.3" cy="66.4" rx="1.5" ry="0.8" transform="rotate(11 56.3 66.4)" fill="#c80000"/><ellipse cx="63.3" cy="42.6" rx="1.3" ry="0.7" transform="rotate(141 63.3 42.6)" fill="#ff2020"/><ellipse cx="54.6" cy="45.5" rx="0.9" ry="0.5" transform="rotate(73 54.6 45.5)" fill="#ff2020"/><ellipse cx="44.4" cy="47.4" rx="1.4" ry="0.8" transform="rotate(56 44.4 47.4)" fill="#ff0a0a"/><ellipse cx="51.5" cy="41.7" rx="1.8" ry="1.0" transform="rotate(87 51.5 41.7)" fill="#ff2020"/><ellipse cx="65.6" cy="41.2" rx="1.8" ry="1.0" transform="rotate(131 65.6 41.2)" fill="#e00000"/><ellipse cx="57.5" cy="54.6" rx="1.1" ry="0.6" transform="rotate(142 57.5 54.6)" fill="#c80000"/><ellipse cx="43.3" cy="59.4" rx="1.9" ry="1.0" transform="rotate(111 43.3 59.4)" fill="#ff2020"/><ellipse cx="61.2" cy="42.9" rx="1.7" ry="0.9" transform="rotate(112 61.2 42.9)" fill="#e00000"/><ellipse cx="53.0" cy="41.3" rx="0.9" ry="0.5" transform="rotate(158 53.0 41.3)" fill="#ff1010"/><ellipse cx="47.2" cy="50.8" rx="1.3" ry="0.7" transform="rotate(36 47.2 50.8)" fill="#c80000"/><ellipse cx="50.3" cy="64.4" rx="1.8" ry="0.9" transform="rotate(177 50.3 64.4)" fill="#ff0a0a"/><ellipse cx="66.0" cy="56.7" rx="1.1" ry="0.6" transform="rotate(159 66.0 56.7)" fill="#ff0a0a"/><ellipse cx="63.1" cy="46.5" rx="1.9" ry="1.0" transform="rotate(120 63.1 46.5)" fill="#ff2020"/><ellipse cx="59.6" cy="49.5" rx="1.3" ry="0.7" transform="rotate(91 59.6 49.5)" fill="#ff2020"/><ellipse cx="39.1" cy="64.1" rx="1.0" ry="0.5" transform="rotate(49 39.1 64.1)" fill="#ff2020"/><ellipse cx="57.0" cy="40.0" rx="2.1" ry="1.1" transform="rotate(114 57.0 40.0)" fill="#ff2020"/><ellipse cx="62.9" cy="59.7" rx="2.1" ry="1.1" transform="rotate(151 62.9 59.7)" fill="#ff0a0a"/><ellipse cx="67.3" cy="53.0" rx="1.1" ry="0.6" transform="rotate(32 67.3 53.0)" fill="#ff1010"/><ellipse cx="48.7" cy="55.4" rx="2.1" ry="1.1" transform="rotate(154 48.7 55.4)" fill="#c80000"/><ellipse cx="34.0" cy="44.0" rx="1.9" ry="1.0" transform="rotate(29 34.0 44.0)" fill="#ff0a0a"/><ellipse cx="42.1" cy="53.8" rx="2.2" ry="1.2" transform="rotate(73 42.1 53.8)" fill="#e00000"/><ellipse cx="39.9" cy="61.2" rx="1.4" ry="0.8" transform="rotate(97 39.9 61.2)" fill="#c80000"/><ellipse cx="68.8" cy="46.2" rx="0.9" ry="0.5" transform="rotate(99 68.8 46.2)" fill="#e00000"/><ellipse cx="67.2" cy="51.5" rx="1.2" ry="0.6" transform="rotate(153 67.2 51.5)" fill="#ff2020"/><ellipse cx="37.0" cy="50.3" rx="2.1" ry="1.1" transform="rotate(6 37.0 50.3)" fill="#e00000"/><ellipse cx="61.4" cy="40.7" rx="1.9" ry="1.0" transform="rotate(79 61.4 40.7)" fill="#ff2020"/><ellipse cx="67.0" cy="38.3" rx="1.7" ry="0.9" transform="rotate(94 67.0 38.3)" fill="#c80000"/><ellipse cx="62.1" cy="68.1" rx="1.5" ry="0.8" transform="rotate(14 62.1 68.1)" fill="#e00000"/><ellipse cx="48.9" cy="45.0" rx="1.1" ry="0.6" transform="rotate(95 48.9 45.0)" fill="#ff0a0a"/><ellipse cx="65.3" cy="48.2" rx="1.4" ry="0.7" transform="rotate(0 65.3 48.2)" fill="#ff2020"/><ellipse cx="45.9" cy="52.2" rx="1.4" ry="0.8" transform="rotate(47 45.9 52.2)" fill="#ff0a0a"/><ellipse cx="47.5" cy="58.9" rx="1.9" ry="1.0" transform="rotate(69 47.5 58.9)" fill="#ff1010"/><ellipse cx="45.4" cy="65.0" rx="1.2" ry="0.6" transform="rotate(72 45.4 65.0)" fill="#c80000"/><ellipse cx="65.4" cy="38.7" rx="1.1" ry="0.6" transform="rotate(76 65.4 38.7)" fill="#ff1010"/><ellipse cx="68.1" cy="49.6" rx="2.1" ry="1.1" transform="rotate(13 68.1 49.6)" fill="#ff0a0a"/><ellipse cx="52.1" cy="60.9" rx="0.9" ry="0.5" transform="rotate(73 52.1 60.9)" fill="#ff1010"/><ellipse cx="49.0" cy="47.8" rx="1.3" ry="0.7" transform="rotate(122 49.0 47.8)" fill="#e00000"/><ellipse cx="34.4" cy="62.7" rx="1.0" ry="0.6" transform="rotate(15 34.4 62.7)" fill="#c80000"/><ellipse cx="66.7" cy="50.9" rx="2.0" ry="1.1" transform="rotate(42 66.7 50.9)" fill="#ff1010"/><ellipse cx="61.6" cy="54.8" rx="1.2" ry="0.6" transform="rotate(130 61.6 54.8)" fill="#c80000"/><ellipse cx="61.8" cy="49.5" rx="1.5" ry="0.8" transform="rotate(177 61.8 49.5)" fill="#ff2020"/><ellipse cx="32.4" cy="61.9" rx="1.7" ry="0.9" transform="rotate(43 32.4 61.9)" fill="#ff0a0a"/><ellipse cx="40.7" cy="61.0" rx="1.6" ry="0.9" transform="rotate(73 40.7 61.0)" fill="#c80000"/><ellipse cx="52.0" cy="55.8" rx="1.8" ry="1.0" transform="rotate(141 52.0 55.8)" fill="#ff2020"/><ellipse cx="53.4" cy="60.0" rx="1.2" ry="0.6" transform="rotate(143 53.4 60.0)" fill="#ff0a0a"/><ellipse cx="37.9" cy="51.7" rx="1.7" ry="0.9" transform="rotate(127 37.9 51.7)" fill="#ff1010"/><ellipse cx="37.8" cy="52.6" rx="1.5" ry="0.8" transform="rotate(43 37.8 52.6)" fill="#ff0a0a"/><ellipse cx="45.0" cy="67.5" rx="1.7" ry="0.9" transform="rotate(171 45.0 67.5)" fill="#ff2020"/><ellipse cx="31.7" cy="43.7" rx="2.2" ry="1.2" transform="rotate(104 31.7 43.7)" fill="#ff2020"/><ellipse cx="40.3" cy="66.6" rx="1.3" ry="0.7" transform="rotate(85 40.3 66.6)" fill="#c80000"/><ellipse cx="44.6" cy="67.5" rx="1.8" ry="1.0" transform="rotate(57 44.6 67.5)" fill="#e00000"/><ellipse cx="53.8" cy="44.7" rx="1.3" ry="0.7" transform="rotate(40 53.8 44.7)" fill="#ff1010"/><ellipse cx="57.4" cy="39.0" rx="2.2" ry="1.2" transform="rotate(27 57.4 39.0)" fill="#ff1010"/><ellipse cx="51.9" cy="65.1" rx="2.0" ry="1.0" transform="rotate(64 51.9 65.1)" fill="#ff2020"/><ellipse cx="38.9" cy="52.4" rx="1.7" ry="0.9" transform="rotate(26 38.9 52.4)" fill="#ff2020"/><ellipse cx="63.3" cy="48.7" rx="2.0" ry="1.0" transform="rotate(44 63.3 48.7)" fill="#e00000"/><ellipse cx="55.7" cy="52.7" rx="1.9" ry="1.0" transform="rotate(157 55.7 52.7)" fill="#ff0a0a"/><ellipse cx="37.5" cy="63.8" rx="1.7" ry="0.9" transform="rotate(0 37.5 63.8)" fill="#e00000"/><ellipse cx="45.2" cy="61.0" rx="1.2" ry="0.6" transform="rotate(123 45.2 61.0)" fill="#c80000"/><ellipse cx="59.0" cy="42.3" rx="1.4" ry="0.7" transform="rotate(126 59.0 42.3)" fill="#ff0a0a"/><ellipse cx="49.4" cy="67.7" rx="1.8" ry="1.0" transform="rotate(112 49.4 67.7)" fill="#e00000"/><ellipse cx="43.4" cy="49.6" rx="1.5" ry="0.8" transform="rotate(178 43.4 49.6)" fill="#ff0a0a"/><ellipse cx="56.5" cy="52.2" rx="2.0" ry="1.1" transform="rotate(88 56.5 52.2)" fill="#e00000"/><ellipse cx="49.5" cy="44.9" rx="1.3" ry="0.7" transform="rotate(44 49.5 44.9)" fill="#ff2020"/><ellipse cx="64.9" cy="41.2" rx="2.2" ry="1.2" transform="rotate(131 64.9 41.2)" fill="#c80000"/><ellipse cx="41.9" cy="63.6" rx="1.7" ry="0.9" transform="rotate(91 41.9 63.6)" fill="#ff2020"/><ellipse cx="37.8" cy="49.4" rx="1.3" ry="0.7" transform="rotate(95 37.8 49.4)" fill="#e00000"/><ellipse cx="53.7" cy="62.2" rx="1.5" ry="0.8" transform="rotate(132 53.7 62.2)" fill="#c80000"/><ellipse cx="62.4" cy="42.1" rx="2.2" ry="1.2" transform="rotate(78 62.4 42.1)" fill="#ff0a0a"/><ellipse cx="45.5" cy="65.2" rx="1.2" ry="0.6" transform="rotate(43 45.5 65.2)" fill="#e00000"/><ellipse cx="33.3" cy="59.6" rx="1.3" ry="0.7" transform="rotate(137 33.3 59.6)" fill="#e00000"/><ellipse cx="41.5" cy="46.7" rx="1.9" ry="1.0" transform="rotate(179 41.5 46.7)" fill="#ff2020"/><ellipse cx="56.3" cy="48.8" rx="1.5" ry="0.8" transform="rotate(102 56.3 48.8)" fill="#ff0a0a"/><ellipse cx="64.2" cy="48.1" rx="1.9" ry="1.0" transform="rotate(106 64.2 48.1)" fill="#e00000"/><ellipse cx="42.8" cy="51.5" rx="1.9" ry="1.0" transform="rotate(50 42.8 51.5)" fill="#ff1010"/><ellipse cx="36.6" cy="42.1" rx="1.1" ry="0.6" transform="rotate(133 36.6 42.1)" fill="#ff0a0a"/><ellipse cx="62.8" cy="68.5" rx="1.7" ry="0.9" transform="rotate(97 62.8 68.5)" fill="#ff2020"/><ellipse cx="63.8" cy="70.3" rx="1.5" ry="0.8" transform="rotate(72 63.8 70.3)" fill="#ff2020"/><ellipse cx="61.2" cy="59.9" rx="1.7" ry="0.9" transform="rotate(10 61.2 59.9)" fill="#e00000"/><ellipse cx="64.6" cy="61.2" rx="1.1" ry="0.6" transform="rotate(166 64.6 61.2)" fill="#c80000"/><ellipse cx="37.2" cy="58.9" rx="1.9" ry="1.0" transform="rotate(139 37.2 58.9)" fill="#ff0a0a"/><ellipse cx="38.6" cy="40.9" rx="1.0" ry="0.5" transform="rotate(38 38.6 40.9)" fill="#ff1010"/><ellipse cx="47.6" cy="48.0" rx="2.0" ry="1.1" transform="rotate(84 47.6 48.0)" fill="#c80000"/><ellipse cx="63.3" cy="66.6" rx="1.9" ry="1.0" transform="rotate(7 63.3 66.6)" fill="#c80000"/><ellipse cx="47.1" cy="54.0" rx="1.5" ry="0.8" transform="rotate(173 47.1 54.0)" fill="#ff2020"/><ellipse cx="61.0" cy="53.7" rx="1.6" ry="0.9" transform="rotate(46 61.0 53.7)" fill="#ff0a0a"/><ellipse cx="34.5" cy="50.8" rx="2.2" ry="1.2" transform="rotate(14 34.5 50.8)" fill="#ff2020"/><ellipse cx="51.7" cy="64.2" rx="1.8" ry="0.9" transform="rotate(33 51.7 64.2)" fill="#ff0a0a"/><ellipse cx="43.0" cy="46.2" rx="1.6" ry="0.8" transform="rotate(12 43.0 46.2)" fill="#ff0a0a"/><ellipse cx="56.1" cy="57.0" rx="1.8" ry="0.9" transform="rotate(142 56.1 57.0)" fill="#ff1010"/><ellipse cx="43.3" cy="40.3" rx="1.7" ry="0.9" transform="rotate(46 43.3 40.3)" fill="#ff1010"/><ellipse cx="63.1" cy="66.0" rx="1.1" ry="0.6" transform="rotate(18 63.1 66.0)" fill="#ff0a0a"/><ellipse cx="59.7" cy="57.3" rx="1.4" ry="0.8" transform="rotate(162 59.7 57.3)" fill="#e00000"/><ellipse cx="32.7" cy="61.0" rx="1.8" ry="0.9" transform="rotate(127 32.7 61.0)" fill="#ff0a0a"/><ellipse cx="48.2" cy="43.9" rx="2.0" ry="1.1" transform="rotate(84 48.2 43.9)" fill="#ff1010"/><ellipse cx="61.5" cy="61.0" rx="2.0" ry="1.1" transform="rotate(155 61.5 61.0)" fill="#c80000"/><ellipse cx="60.0" cy="42.6" rx="1.7" ry="0.9" transform="rotate(160 60.0 42.6)" fill="#ff2020"/><ellipse cx="56.2" cy="42.2" rx="2.0" ry="1.1" transform="rotate(46 56.2 42.2)" fill="#ff0a0a"/><ellipse cx="48.6" cy="46.0" rx="2.1" ry="1.1" transform="rotate(28 48.6 46.0)" fill="#e00000"/><ellipse cx="63.6" cy="70.8" rx="1.4" ry="0.7" transform="rotate(107 63.6 70.8)" fill="#e00000"/><ellipse cx="40.3" cy="46.6" rx="1.7" ry="0.9" transform="rotate(4 40.3 46.6)" fill="#e00000"/><ellipse cx="39.8" cy="49.1" rx="1.7" ry="0.9" transform="rotate(128 39.8 49.1)" fill="#c80000"/><ellipse cx="40.6" cy="62.9" rx="0.9" ry="0.5" transform="rotate(55 40.6 62.9)" fill="#e00000"/><ellipse cx="47.7" cy="60.8" rx="1.2" ry="0.7" transform="rotate(118 47.7 60.8)" fill="#ff2020"/><ellipse cx="57.6" cy="54.1" rx="2.0" ry="1.1" transform="rotate(137 57.6 54.1)" fill="#e00000"/><ellipse cx="52.9" cy="61.1" rx="1.1" ry="0.6" transform="rotate(20 52.9 61.1)" fill="#ff1010"/><ellipse cx="41.1" cy="43.6" rx="1.8" ry="1.0" transform="rotate(17 41.1 43.6)" fill="#ff1010"/><ellipse cx="39.5" cy="63.6" rx="2.2" ry="1.2" transform="rotate(38 39.5 63.6)" fill="#ff1010"/><ellipse cx="56.5" cy="58.1" rx="1.8" ry="1.0" transform="rotate(176 56.5 58.1)" fill="#e00000"/><ellipse cx="65.9" cy="53.0" rx="2.0" ry="1.1" transform="rotate(6 65.9 53.0)" fill="#ff0a0a"/><ellipse cx="41.5" cy="51.8" rx="2.2" ry="1.2" transform="rotate(178 41.5 51.8)" fill="#e00000"/><ellipse cx="59.8" cy="63.5" rx="1.1" ry="0.6" transform="rotate(31 59.8 63.5)" fill="#c80000"/><ellipse cx="42.8" cy="57.0" rx="2.2" ry="1.2" transform="rotate(166 42.8 57.0)" fill="#c80000"/><ellipse cx="65.6" cy="54.5" rx="1.5" ry="0.8" transform="rotate(64 65.6 54.5)" fill="#ff1010"/><ellipse cx="42.8" cy="53.4" rx="1.1" ry="0.6" transform="rotate(121 42.8 53.4)" fill="#ff0a0a"/><ellipse cx="32.7" cy="47.8" rx="1.7" ry="0.9" transform="rotate(116 32.7 47.8)" fill="#ff2020"/><ellipse cx="40.7" cy="66.3" rx="1.3" ry="0.7" transform="rotate(139 40.7 66.3)" fill="#e00000"/><ellipse cx="64.1" cy="53.3" rx="1.6" ry="0.9" transform="rotate(174 64.1 53.3)" fill="#ff1010"/><ellipse cx="70.1" cy="49.7" rx="1.4" ry="0.7" transform="rotate(131 70.1 49.7)" fill="#c80000"/><ellipse cx="56.7" cy="52.5" rx="1.6" ry="0.8" transform="rotate(135 56.7 52.5)" fill="#c80000"/><ellipse cx="34.2" cy="51.9" rx="1.3" ry="0.7" transform="rotate(15 34.2 51.9)" fill="#ff2020"/><ellipse cx="32.6" cy="57.7" rx="2.2" ry="1.2" transform="rotate(150 32.6 57.7)" fill="#e00000"/><ellipse cx="40.7" cy="66.8" rx="1.0" ry="0.5" transform="rotate(8 40.7 66.8)" fill="#e00000"/><ellipse cx="35.8" cy="53.9" rx="1.0" ry="0.5" transform="rotate(163 35.8 53.9)" fill="#ff2020"/><ellipse cx="49.9" cy="60.0" rx="2.1" ry="1.1" transform="rotate(135 49.9 60.0)" fill="#c80000"/><ellipse cx="32.1" cy="41.3" rx="1.7" ry="0.9" transform="rotate(179 32.1 41.3)" fill="#ff0a0a"/><ellipse cx="64.7" cy="63.5" rx="1.5" ry="0.8" transform="rotate(44 64.7 63.5)" fill="#ff2020"/><ellipse cx="32.9" cy="41.9" rx="1.6" ry="0.8" transform="rotate(161 32.9 41.9)" fill="#c80000"/><ellipse cx="36.4" cy="51.0" rx="1.4" ry="0.7" transform="rotate(140 36.4 51.0)" fill="#e00000"/><ellipse cx="64.7" cy="58.2" rx="2.2" ry="1.2" transform="rotate(88 64.7 58.2)" fill="#e00000"/><ellipse cx="41.4" cy="52.2" rx="1.3" ry="0.7" transform="rotate(50 41.4 52.2)" fill="#c80000"/><ellipse cx="69.5" cy="53.9" rx="1.2" ry="0.6" transform="rotate(105 69.5 53.9)" fill="#ff0a0a"/><ellipse cx="56.1" cy="50.6" rx="0.9" ry="0.5" transform="rotate(160 56.1 50.6)" fill="#e00000"/><ellipse cx="48.6" cy="48.9" rx="1.2" ry="0.6" transform="rotate(6 48.6 48.9)" fill="#e00000"/><ellipse cx="63.0" cy="56.3" rx="1.9" ry="1.0" transform="rotate(131 63.0 56.3)" fill="#ff2020"/><ellipse cx="42.2" cy="47.1" rx="1.9" ry="1.0" transform="rotate(168 42.2 47.1)" fill="#ff2020"/><ellipse cx="55.6" cy="40.1" rx="1.0" ry="0.5" transform="rotate(128 55.6 40.1)" fill="#ff0a0a"/><ellipse cx="44.7" cy="47.3" rx="1.1" ry="0.6" transform="rotate(92 44.7 47.3)" fill="#ff2020"/><ellipse cx="56.5" cy="67.7" rx="1.2" ry="0.6" transform="rotate(105 56.5 67.7)" fill="#ff2020"/><ellipse cx="48.0" cy="59.8" rx="1.8" ry="0.9" transform="rotate(4 48.0 59.8)" fill="#ff1010"/><ellipse cx="61.1" cy="64.2" rx="1.6" ry="0.9" transform="rotate(156 61.1 64.2)" fill="#c80000"/><ellipse cx="47.7" cy="41.2" rx="2.0" ry="1.1" transform="rotate(25 47.7 41.2)" fill="#ff1010"/><ellipse cx="34.1" cy="40.1" rx="1.8" ry="1.0" transform="rotate(10 34.1 40.1)" fill="#e00000"/><ellipse cx="37.9" cy="45.9" rx="1.5" ry="0.8" transform="rotate(152 37.9 45.9)" fill="#e00000"/><ellipse cx="63.2" cy="65.0" rx="1.0" ry="0.6" transform="rotate(7 63.2 65.0)" fill="#ff0a0a"/><ellipse cx="59.9" cy="37.0" rx="1.9" ry="1.0" transform="rotate(104 59.9 37.0)" fill="#ff2020"/><ellipse cx="64.0" cy="62.7" rx="2.2" ry="1.2" transform="rotate(58 64.0 62.7)" fill="#ff0a0a"/><ellipse cx="33.5" cy="60.6" rx="1.1" ry="0.6" transform="rotate(106 33.5 60.6)" fill="#ff2020"/><ellipse cx="44.0" cy="60.9" rx="1.4" ry="0.7" transform="rotate(46 44.0 60.9)" fill="#ff1010"/><ellipse cx="33.5" cy="62.9" rx="0.9" ry="0.5" transform="rotate(4 33.5 62.9)" fill="#c80000"/><ellipse cx="51.3" cy="40.5" rx="1.5" ry="0.8" transform="rotate(138 51.3 40.5)" fill="#ff0a0a"/><ellipse cx="56.3" cy="64.8" rx="1.2" ry="0.7" transform="rotate(90 56.3 64.8)" fill="#e00000"/><ellipse cx="34.6" cy="57.4" rx="1.8" ry="1.0" transform="rotate(103 34.6 57.4)" fill="#c80000"/><ellipse cx="46.2" cy="47.0" rx="2.1" ry="1.1" transform="rotate(50 46.2 47.0)" fill="#ff2020"/><ellipse cx="33.9" cy="62.2" rx="0.9" ry="0.5" transform="rotate(168 33.9 62.2)" fill="#ff1010"/><ellipse cx="53.3" cy="59.5" rx="1.2" ry="0.7" transform="rotate(168 53.3 59.5)" fill="#ff1010"/><ellipse cx="44.0" cy="46.9" rx="1.3" ry="0.7" transform="rotate(101 44.0 46.9)" fill="#c80000"/><ellipse cx="58.6" cy="53.0" rx="1.4" ry="0.7" transform="rotate(123 58.6 53.0)" fill="#c80000"/><ellipse cx="32.7" cy="63.2" rx="1.0" ry="0.5" transform="rotate(61 32.7 63.2)" fill="#ff2020"/><ellipse cx="52.4" cy="42.1" rx="2.0" ry="1.1" transform="rotate(97 52.4 42.1)" fill="#ff2020"/><ellipse cx="43.7" cy="66.4" rx="0.9" ry="0.5" transform="rotate(108 43.7 66.4)" fill="#c80000"/><ellipse cx="57.5" cy="42.2" rx="1.3" ry="0.7" transform="rotate(177 57.5 42.2)" fill="#e00000"/><ellipse cx="43.0" cy="59.5" rx="1.7" ry="0.9" transform="rotate(30 43.0 59.5)" fill="#ff2020"/><ellipse cx="43.4" cy="54.3" rx="1.3" ry="0.7" transform="rotate(76 43.4 54.3)" fill="#c80000"/><ellipse cx="50.0" cy="66.9" rx="2.2" ry="1.2" transform="rotate(4 50.0 66.9)" fill="#ff0a0a"/><ellipse cx="32.3" cy="46.8" rx="1.4" ry="0.7" transform="rotate(47 32.3 46.8)" fill="#ff0a0a"/><ellipse cx="36.6" cy="61.1" rx="1.1" ry="0.6" transform="rotate(150 36.6 61.1)" fill="#ff1010"/><ellipse cx="61.9" cy="59.9" rx="1.2" ry="0.7" transform="rotate(31 61.9 59.9)" fill="#ff2020"/><ellipse cx="64.5" cy="45.1" rx="1.9" ry="1.0" transform="rotate(178 64.5 45.1)" fill="#ff1010"/><ellipse cx="59.6" cy="35.9" rx="1.0" ry="0.5" transform="rotate(143 59.6 35.9)" fill="#e00000"/><ellipse cx="49.5" cy="39.6" rx="1.5" ry="0.8" transform="rotate(138 49.5 39.6)" fill="#c80000"/><ellipse cx="41.6" cy="56.3" rx="1.9" ry="1.0" transform="rotate(130 41.6 56.3)" fill="#ff1010"/><ellipse cx="63.3" cy="41.8" rx="2.0" ry="1.1" transform="rotate(127 63.3 41.8)" fill="#e00000"/><ellipse cx="60.0" cy="68.8" rx="2.2" ry="1.2" transform="rotate(132 60.0 68.8)" fill="#ff1010"/><ellipse cx="61.2" cy="52.6" rx="2.0" ry="1.1" transform="rotate(147 61.2 52.6)" fill="#ff2020"/><ellipse cx="45.5" cy="42.5" rx="2.0" ry="1.0" transform="rotate(9 45.5 42.5)" fill="#ff1010"/><ellipse cx="50.4" cy="43.0" rx="1.1" ry="0.6" transform="rotate(110 50.4 43.0)" fill="#c80000"/><ellipse cx="61.8" cy="47.6" rx="1.0" ry="0.5" transform="rotate(42 61.8 47.6)" fill="#ff1010"/><ellipse cx="58.9" cy="63.1" rx="1.7" ry="0.9" transform="rotate(22 58.9 63.1)" fill="#ff0a0a"/><ellipse cx="61.0" cy="39.3" rx="1.2" ry="0.6" transform="rotate(18 61.0 39.3)" fill="#ff2020"/><ellipse cx="38.3" cy="61.3" rx="1.6" ry="0.8" transform="rotate(16 38.3 61.3)" fill="#c80000"/><ellipse cx="44.0" cy="47.3" rx="1.6" ry="0.8" transform="rotate(169 44.0 47.3)" fill="#ff1010"/><ellipse cx="52.2" cy="52.2" rx="1.8" ry="1.0" transform="rotate(42 52.2 52.2)" fill="#e00000"/><ellipse cx="66.9" cy="40.4" rx="1.0" ry="0.6" transform="rotate(12 66.9 40.4)" fill="#ff0a0a"/><ellipse cx="54.9" cy="61.4" rx="1.2" ry="0.6" transform="rotate(1 54.9 61.4)" fill="#c80000"/><ellipse cx="38.8" cy="56.2" rx="2.2" ry="1.2" transform="rotate(169 38.8 56.2)" fill="#e00000"/><ellipse cx="32.7" cy="42.8" rx="1.6" ry="0.9" transform="rotate(3 32.7 42.8)" fill="#e00000"/><ellipse cx="48.6" cy="53.2" rx="2.1" ry="1.1" transform="rotate(17 48.6 53.2)" fill="#e00000"/><ellipse cx="47.0" cy="45.8" rx="1.6" ry="0.9" transform="rotate(131 47.0 45.8)" fill="#ff2020"/><ellipse cx="46.6" cy="56.3" rx="1.3" ry="0.7" transform="rotate(170 46.6 56.3)" fill="#ff1010"/><ellipse cx="60.0" cy="60.3" rx="2.2" ry="1.2" transform="rotate(110 60.0 60.3)" fill="#ff0a0a"/><ellipse cx="65.6" cy="63.1" rx="2.1" ry="1.1" transform="rotate(57 65.6 63.1)" fill="#ff2020"/><ellipse cx="41.0" cy="61.7" rx="1.8" ry="1.0" transform="rotate(84 41.0 61.7)" fill="#ff0a0a"/><ellipse cx="59.9" cy="47.9" rx="1.5" ry="0.8" transform="rotate(74 59.9 47.9)" fill="#ff2020"/><ellipse cx="46.2" cy="67.0" rx="1.0" ry="0.5" transform="rotate(9 46.2 67.0)" fill="#ff0a0a"/><ellipse cx="52.7" cy="58.0" rx="1.7" ry="0.9" transform="rotate(27 52.7 58.0)" fill="#ff1010"/><ellipse cx="61.7" cy="48.9" rx="1.6" ry="0.9" transform="rotate(120 61.7 48.9)" fill="#e00000"/><ellipse cx="35.5" cy="44.0" rx="2.1" ry="1.1" transform="rotate(126 35.5 44.0)" fill="#ff2020"/><ellipse cx="38.0" cy="60.9" rx="1.0" ry="0.5" transform="rotate(9 38.0 60.9)" fill="#c80000"/><ellipse cx="51.5" cy="46.2" rx="1.3" ry="0.7" transform="rotate(59 51.5 46.2)" fill="#c80000"/><ellipse cx="68.6" cy="47.3" rx="1.3" ry="0.7" transform="rotate(14 68.6 47.3)" fill="#c80000"/><ellipse cx="62.5" cy="70.8" rx="1.8" ry="1.0" transform="rotate(158 62.5 70.8)" fill="#ff1010"/><ellipse cx="49.5" cy="66.8" rx="1.3" ry="0.7" transform="rotate(172 49.5 66.8)" fill="#ff1010"/><ellipse cx="62.7" cy="42.6" rx="1.9" ry="1.0" transform="rotate(119 62.7 42.6)" fill="#e00000"/><ellipse cx="43.8" cy="44.2" rx="2.0" ry="1.1" transform="rotate(110 43.8 44.2)" fill="#ff1010"/><ellipse cx="65.4" cy="48.5" rx="1.9" ry="1.0" transform="rotate(124 65.4 48.5)" fill="#ff0a0a"/><ellipse cx="52.8" cy="67.1" rx="2.1" ry="1.1" transform="rotate(29 52.8 67.1)" fill="#ff1010"/><ellipse cx="66.9" cy="50.9" rx="1.3" ry="0.7" transform="rotate(65 66.9 50.9)" fill="#ff2020"/><ellipse cx="47.0" cy="41.3" rx="1.0" ry="0.5" transform="rotate(81 47.0 41.3)" fill="#ff1010"/><ellipse cx="43.7" cy="48.7" rx="1.3" ry="0.7" transform="rotate(175 43.7 48.7)" fill="#ff2020"/><ellipse cx="35.2" cy="45.4" rx="1.1" ry="0.6" transform="rotate(177 35.2 45.4)" fill="#ff0a0a"/><ellipse cx="59.5" cy="43.9" rx="1.1" ry="0.6" transform="rotate(135 59.5 43.9)" fill="#ff1010"/><ellipse cx="43.7" cy="42.1" rx="2.0" ry="1.1" transform="rotate(62 43.7 42.1)" fill="#e00000"/><ellipse cx="51.5" cy="47.4" rx="1.8" ry="0.9" transform="rotate(176 51.5 47.4)" fill="#ff2020"/><ellipse cx="45.1" cy="44.0" rx="1.7" ry="0.9" transform="rotate(83 45.1 44.0)" fill="#c80000"/><ellipse cx="65.7" cy="58.9" rx="0.9" ry="0.5" transform="rotate(18 65.7 58.9)" fill="#ff0a0a"/><ellipse cx="68.3" cy="42.2" rx="1.7" ry="0.9" transform="rotate(159 68.3 42.2)" fill="#ff2020"/><ellipse cx="50.3" cy="55.5" rx="1.6" ry="0.9" transform="rotate(24 50.3 55.5)" fill="#ff2020"/><ellipse cx="33.5" cy="64.7" rx="1.5" ry="0.8" transform="rotate(60 33.5 64.7)" fill="#ff0a0a"/><ellipse cx="53.7" cy="40.6" rx="1.8" ry="1.0" transform="rotate(29 53.7 40.6)" fill="#e00000"/><ellipse cx="54.8" cy="60.0" rx="1.6" ry="0.8" transform="rotate(151 54.8 60.0)" fill="#e00000"/><ellipse cx="65.3" cy="65.9" rx="2.0" ry="1.0" transform="rotate(158 65.3 65.9)" fill="#c80000"/><ellipse cx="39.1" cy="51.5" rx="1.6" ry="0.8" transform="rotate(111 39.1 51.5)" fill="#e00000"/><ellipse cx="58.4" cy="46.4" rx="1.1" ry="0.6" transform="rotate(45 58.4 46.4)" fill="#e00000"/><ellipse cx="46.7" cy="67.1" rx="1.7" ry="0.9" transform="rotate(114 46.7 67.1)" fill="#ff0a0a"/><ellipse cx="58.2" cy="55.1" rx="1.0" ry="0.5" transform="rotate(177 58.2 55.1)" fill="#c80000"/><ellipse cx="58.6" cy="69.1" rx="1.7" ry="0.9" transform="rotate(98 58.6 69.1)" fill="#e00000"/><ellipse cx="56.1" cy="39.2" rx="1.2" ry="0.6" transform="rotate(61 56.1 39.2)" fill="#ff1010"/><ellipse cx="48.2" cy="43.9" rx="1.6" ry="0.8" transform="rotate(26 48.2 43.9)" fill="#e00000"/><ellipse cx="46.9" cy="63.6" rx="1.7" ry="0.9" transform="rotate(116 46.9 63.6)" fill="#ff1010"/><ellipse cx="31.1" cy="58.1" rx="1.2" ry="0.7" transform="rotate(114 31.1 58.1)" fill="#ff1010"/><ellipse cx="33.2" cy="57.5" rx="1.0" ry="0.6" transform="rotate(108 33.2 57.5)" fill="#e00000"/><ellipse cx="60.6" cy="54.5" rx="1.1" ry="0.6" transform="rotate(170 60.6 54.5)" fill="#c80000"/><ellipse cx="51.9" cy="43.5" rx="1.5" ry="0.8" transform="rotate(61 51.9 43.5)" fill="#c80000"/><ellipse cx="47.0" cy="49.0" rx="1.8" ry="1.0" transform="rotate(99 47.0 49.0)" fill="#ff2020"/><ellipse cx="42.4" cy="51.4" rx="2.2" ry="1.2" transform="rotate(74 42.4 51.4)" fill="#ff1010"/><ellipse cx="33.2" cy="42.3" rx="1.6" ry="0.9" transform="rotate(164 33.2 42.3)" fill="#ff1010"/><ellipse cx="60.4" cy="54.2" rx="0.9" ry="0.5" transform="rotate(94 60.4 54.2)" fill="#c80000"/><ellipse cx="36.6" cy="46.9" rx="1.0" ry="0.5" transform="rotate(94 36.6 46.9)" fill="#c80000"/><ellipse cx="56.0" cy="55.7" rx="1.4" ry="0.7" transform="rotate(48 56.0 55.7)" fill="#ff1010"/><ellipse cx="57.2" cy="66.5" rx="1.2" ry="0.6" transform="rotate(112 57.2 66.5)" fill="#ff2020"/><ellipse cx="40.9" cy="46.8" rx="1.5" ry="0.8" transform="rotate(112 40.9 46.8)" fill="#ff1010"/><ellipse cx="45.8" cy="48.7" rx="1.3" ry="0.7" transform="rotate(69 45.8 48.7)" fill="#ff2020"/><ellipse cx="40.3" cy="39.1" rx="1.4" ry="0.8" transform="rotate(39 40.3 39.1)" fill="#ff2020"/><ellipse cx="48.5" cy="65.3" rx="1.3" ry="0.7" transform="rotate(20 48.5 65.3)" fill="#ff1010"/><ellipse cx="46.7" cy="47.2" rx="1.6" ry="0.9" transform="rotate(72 46.7 47.2)" fill="#ff1010"/><ellipse cx="45.7" cy="50.0" rx="1.7" ry="0.9" transform="rotate(17 45.7 50.0)" fill="#ff2020"/><ellipse cx="63.8" cy="54.4" rx="1.9" ry="1.0" transform="rotate(112 63.8 54.4)" fill="#ff1010"/><ellipse cx="35.0" cy="45.0" rx="1.5" ry="0.8" transform="rotate(32 35.0 45.0)" fill="#ff0a0a"/><ellipse cx="64.6" cy="58.6" rx="2.2" ry="1.2" transform="rotate(100 64.6 58.6)" fill="#ff1010"/><ellipse cx="48.3" cy="62.9" rx="1.1" ry="0.6" transform="rotate(82 48.3 62.9)" fill="#ff1010"/><ellipse cx="52.1" cy="57.2" rx="2.0" ry="1.1" transform="rotate(139 52.1 57.2)" fill="#ff1010"/><ellipse cx="68.9" cy="52.0" rx="2.2" ry="1.2" transform="rotate(171 68.9 52.0)" fill="#ff1010"/><ellipse cx="37.4" cy="42.3" rx="1.6" ry="0.8" transform="rotate(91 37.4 42.3)" fill="#ff1010"/><ellipse cx="33.4" cy="63.5" rx="2.2" ry="1.1" transform="rotate(113 33.4 63.5)" fill="#ff0a0a"/><ellipse cx="52.8" cy="61.6" rx="1.4" ry="0.8" transform="rotate(139 52.8 61.6)" fill="#ff0a0a"/><ellipse cx="67.4" cy="51.2" rx="1.0" ry="0.5" transform="rotate(106 67.4 51.2)" fill="#ff2020"/><ellipse cx="41.2" cy="65.1" rx="1.8" ry="1.0" transform="rotate(76 41.2 65.1)" fill="#e00000"/><ellipse cx="45.7" cy="39.5" rx="2.0" ry="1.1" transform="rotate(90 45.7 39.5)" fill="#ff1010"/><ellipse cx="56.8" cy="52.4" rx="1.8" ry="1.0" transform="rotate(50 56.8 52.4)" fill="#c80000"/><ellipse cx="45.1" cy="52.7" rx="2.1" ry="1.1" transform="rotate(154 45.1 52.7)" fill="#e00000"/><ellipse cx="37.2" cy="40.8" rx="1.3" ry="0.7" transform="rotate(141 37.2 40.8)" fill="#e00000"/><ellipse cx="38.6" cy="60.7" rx="2.0" ry="1.1" transform="rotate(4 38.6 60.7)" fill="#e00000"/><ellipse cx="58.7" cy="59.1" rx="1.7" ry="0.9" transform="rotate(31 58.7 59.1)" fill="#e00000"/><ellipse cx="46.0" cy="47.8" rx="2.1" ry="1.1" transform="rotate(87 46.0 47.8)" fill="#ff0a0a"/><ellipse cx="60.4" cy="60.1" rx="2.2" ry="1.2" transform="rotate(17 60.4 60.1)" fill="#c80000"/><ellipse cx="52.5" cy="56.0" rx="1.2" ry="0.6" transform="rotate(167 52.5 56.0)" fill="#c80000"/><ellipse cx="34.4" cy="58.9" rx="2.1" ry="1.1" transform="rotate(62 34.4 58.9)" fill="#ff0a0a"/><ellipse cx="57.7" cy="55.8" rx="1.1" ry="0.6" transform="rotate(96 57.7 55.8)" fill="#ff2020"/><ellipse cx="47.8" cy="54.6" rx="1.5" ry="0.8" transform="rotate(113 47.8 54.6)" fill="#ff0a0a"/><ellipse cx="49.0" cy="50.8" rx="1.2" ry="0.6" transform="rotate(141 49.0 50.8)" fill="#e00000"/><ellipse cx="65.3" cy="36.6" rx="2.2" ry="1.2" transform="rotate(39 65.3 36.6)" fill="#e00000"/><ellipse cx="40.6" cy="44.6" rx="1.2" ry="0.6" transform="rotate(55 40.6 44.6)" fill="#c80000"/><ellipse cx="64.0" cy="70.2" rx="1.7" ry="0.9" transform="rotate(126 64.0 70.2)" fill="#ff2020"/><ellipse cx="58.1" cy="48.3" rx="2.2" ry="1.2" transform="rotate(33 58.1 48.3)" fill="#ff2020"/><ellipse cx="61.8" cy="35.5" rx="1.0" ry="0.5" transform="rotate(166 61.8 35.5)" fill="#ff0a0a"/><ellipse cx="58.2" cy="58.9" rx="1.6" ry="0.8" transform="rotate(80 58.2 58.9)" fill="#c80000"/><ellipse cx="45.1" cy="63.7" rx="2.2" ry="1.2" transform="rotate(103 45.1 63.7)" fill="#ff1010"/><ellipse cx="61.3" cy="35.0" rx="2.1" ry="1.1" transform="rotate(103 61.3 35.0)" fill="#ff0a0a"/><ellipse cx="56.4" cy="46.2" rx="1.5" ry="0.8" transform="rotate(13 56.4 46.2)" fill="#e00000"/><ellipse cx="59.6" cy="34.1" rx="1.4" ry="0.7" transform="rotate(11 59.6 34.1)" fill="#ff0a0a"/><ellipse cx="42.0" cy="41.4" rx="1.2" ry="0.6" transform="rotate(96 42.0 41.4)" fill="#ff2020"/><ellipse cx="64.7" cy="64.1" rx="1.1" ry="0.6" transform="rotate(71 64.7 64.1)" fill="#ff2020"/><ellipse cx="63.3" cy="69.2" rx="1.3" ry="0.7" transform="rotate(112 63.3 69.2)" fill="#e00000"/><ellipse cx="42.2" cy="39.1" rx="1.9" ry="1.0" transform="rotate(119 42.2 39.1)" fill="#ff2020"/><ellipse cx="51.7" cy="66.6" rx="2.1" ry="1.1" transform="rotate(147 51.7 66.6)" fill="#e00000"/><ellipse cx="67.5" cy="54.8" rx="1.3" ry="0.7" transform="rotate(116 67.5 54.8)" fill="#ff1010"/><ellipse cx="46.3" cy="49.9" rx="2.0" ry="1.1" transform="rotate(38 46.3 49.9)" fill="#ff2020"/><ellipse cx="59.9" cy="65.6" rx="2.1" ry="1.1" transform="rotate(81 59.9 65.6)" fill="#c80000"/><ellipse cx="57.6" cy="46.3" rx="2.2" ry="1.2" transform="rotate(34 57.6 46.3)" fill="#e00000"/><ellipse cx="46.3" cy="44.0" rx="2.2" ry="1.2" transform="rotate(78 46.3 44.0)" fill="#ff1010"/><ellipse cx="46.6" cy="46.2" rx="1.5" ry="0.8" transform="rotate(179 46.6 46.2)" fill="#e00000"/><ellipse cx="52.6" cy="52.3" rx="2.0" ry="1.1" transform="rotate(48 52.6 52.3)" fill="#ff0a0a"/><ellipse cx="66.4" cy="47.5" rx="0.9" ry="0.5" transform="rotate(15 66.4 47.5)" fill="#e00000"/><ellipse cx="33.3" cy="40.2" rx="2.0" ry="1.1" transform="rotate(44 33.3 40.2)" fill="#ff2020"/><ellipse cx="56.4" cy="59.9" rx="1.4" ry="0.8" transform="rotate(102 56.4 59.9)" fill="#c80000"/><ellipse cx="65.9" cy="44.9" rx="1.5" ry="0.8" transform="rotate(16 65.9 44.9)" fill="#ff1010"/><ellipse cx="46.5" cy="64.0" rx="1.2" ry="0.6" transform="rotate(9 46.5 64.0)" fill="#ff1010"/><ellipse cx="53.7" cy="51.0" rx="1.0" ry="0.5" transform="rotate(14 53.7 51.0)" fill="#ff2020"/><ellipse cx="62.8" cy="70.5" rx="1.8" ry="1.0" transform="rotate(114 62.8 70.5)" fill="#ff1010"/><ellipse cx="57.7" cy="43.4" rx="1.1" ry="0.6" transform="rotate(58 57.7 43.4)" fill="#ff0a0a"/><ellipse cx="61.2" cy="34.6" rx="1.8" ry="1.0" transform="rotate(136 61.2 34.6)" fill="#e00000"/><ellipse cx="67.6" cy="46.6" rx="1.1" ry="0.6" transform="rotate(121 67.6 46.6)" fill="#c80000"/><ellipse cx="67.1" cy="42.0" rx="1.7" ry="0.9" transform="rotate(72 67.1 42.0)" fill="#c80000"/><ellipse cx="47.9" cy="45.7" rx="1.0" ry="0.5" transform="rotate(28 47.9 45.7)" fill="#ff0a0a"/><ellipse cx="63.9" cy="51.7" rx="1.8" ry="1.0" transform="rotate(164 63.9 51.7)" fill="#c80000"/><ellipse cx="65.5" cy="50.9" rx="1.2" ry="0.6" transform="rotate(106 65.5 50.9)" fill="#ff1010"/><ellipse cx="59.4" cy="42.1" rx="1.4" ry="0.7" transform="rotate(58 59.4 42.1)" fill="#ff0a0a"/><ellipse cx="64.9" cy="52.8" rx="1.7" ry="0.9" transform="rotate(12 64.9 52.8)" fill="#ff1010"/><ellipse cx="56.3" cy="41.5" rx="0.9" ry="0.5" transform="rotate(143 56.3 41.5)" fill="#ff1010"/><ellipse cx="69.9" cy="49.1" rx="1.5" ry="0.8" transform="rotate(163 69.9 49.1)" fill="#e00000"/><ellipse cx="45.0" cy="54.3" rx="1.8" ry="1.0" transform="rotate(37 45.0 54.3)" fill="#ff1010"/><ellipse cx="61.6" cy="37.8" rx="2.1" ry="1.1" transform="rotate(110 61.6 37.8)" fill="#c80000"/><ellipse cx="69.2" cy="52.5" rx="1.9" ry="1.0" transform="rotate(40 69.2 52.5)" fill="#ff1010"/><ellipse cx="36.3" cy="39.0" rx="2.0" ry="1.1" transform="rotate(80 36.3 39.0)" fill="#ff0a0a"/><ellipse cx="40.4" cy="42.7" rx="1.8" ry="1.0" transform="rotate(32 40.4 42.7)" fill="#ff0a0a"/><ellipse cx="43.5" cy="66.3" rx="1.6" ry="0.9" transform="rotate(18 43.5 66.3)" fill="#ff2020"/><ellipse cx="40.8" cy="41.0" rx="0.9" ry="0.5" transform="rotate(112 40.8 41.0)" fill="#ff2020"/><ellipse cx="44.4" cy="64.8" rx="1.4" ry="0.7" transform="rotate(155 44.4 64.8)" fill="#c80000"/><ellipse cx="68.8" cy="43.7" rx="2.0" ry="1.1" transform="rotate(158 68.8 43.7)" fill="#e00000"/><ellipse cx="41.2" cy="56.5" rx="2.2" ry="1.2" transform="rotate(128 41.2 56.5)" fill="#ff1010"/><ellipse cx="58.6" cy="40.7" rx="1.7" ry="0.9" transform="rotate(150 58.6 40.7)" fill="#ff2020"/><ellipse cx="63.4" cy="37.0" rx="1.7" ry="0.9" transform="rotate(175 63.4 37.0)" fill="#ff1010"/><ellipse cx="44.5" cy="45.1" rx="2.2" ry="1.2" transform="rotate(150 44.5 45.1)" fill="#c80000"/><ellipse cx="37.3" cy="54.0" rx="1.2" ry="0.6" transform="rotate(30 37.3 54.0)" fill="#ff0a0a"/><ellipse cx="56.7" cy="55.2" rx="1.8" ry="0.9" transform="rotate(21 56.7 55.2)" fill="#c80000"/><ellipse cx="63.2" cy="35.4" rx="0.9" ry="0.5" transform="rotate(98 63.2 35.4)" fill="#c80000"/><ellipse cx="52.1" cy="46.6" rx="2.2" ry="1.2" transform="rotate(61 52.1 46.6)" fill="#ff1010"/><ellipse cx="59.9" cy="61.1" rx="1.8" ry="0.9" transform="rotate(133 59.9 61.1)" fill="#ff0a0a"/><ellipse cx="54.3" cy="57.6" rx="1.8" ry="1.0" transform="rotate(14 54.3 57.6)" fill="#ff1010"/><ellipse cx="65.9" cy="49.4" rx="1.4" ry="0.7" transform="rotate(93 65.9 49.4)" fill="#ff0a0a"/><ellipse cx="30.6" cy="52.9" rx="1.7" ry="0.9" transform="rotate(131 30.6 52.9)" fill="#c80000"/><ellipse cx="34.4" cy="48.1" rx="1.4" ry="0.8" transform="rotate(157 34.4 48.1)" fill="#c80000"/><ellipse cx="34.0" cy="59.7" rx="1.2" ry="0.6" transform="rotate(127 34.0 59.7)" fill="#ff0a0a"/><ellipse cx="44.7" cy="51.9" rx="2.0" ry="1.0" transform="rotate(4 44.7 51.9)" fill="#ff0a0a"/><ellipse cx="39.6" cy="60.2" rx="1.0" ry="0.5" transform="rotate(130 39.6 60.2)" fill="#ff2020"/><ellipse cx="45.7" cy="62.8" rx="0.9" ry="0.5" transform="rotate(167 45.7 62.8)" fill="#ff2020"/><ellipse cx="59.0" cy="39.4" rx="2.1" ry="1.1" transform="rotate(8 59.0 39.4)" fill="#c80000"/><ellipse cx="63.1" cy="40.3" rx="1.7" ry="0.9" transform="rotate(75 63.1 40.3)" fill="#c80000"/><ellipse cx="59.9" cy="44.3" rx="1.3" ry="0.7" transform="rotate(159 59.9 44.3)" fill="#e00000"/><ellipse cx="43.9" cy="53.5" rx="1.5" ry="0.8" transform="rotate(70 43.9 53.5)" fill="#e00000"/><ellipse cx="50.7" cy="44.7" rx="1.3" ry="0.7" transform="rotate(62 50.7 44.7)" fill="#ff1010"/><ellipse cx="45.0" cy="43.0" rx="1.3" ry="0.7" transform="rotate(61 45.0 43.0)" fill="#ff2020"/><ellipse cx="58.5" cy="58.7" rx="1.9" ry="1.0" transform="rotate(45 58.5 58.7)" fill="#ff2020"/><ellipse cx="47.4" cy="39.9" rx="2.2" ry="1.2" transform="rotate(160 47.4 39.9)" fill="#c80000"/><ellipse cx="60.7" cy="69.5" rx="1.0" ry="0.6" transform="rotate(154 60.7 69.5)" fill="#ff0a0a"/><ellipse cx="42.9" cy="54.1" rx="1.7" ry="0.9" transform="rotate(105 42.9 54.1)" fill="#ff2020"/><ellipse cx="59.8" cy="43.3" rx="1.3" ry="0.7" transform="rotate(26 59.8 43.3)" fill="#ff1010"/><ellipse cx="42.3" cy="59.1" rx="1.6" ry="0.9" transform="rotate(167 42.3 59.1)" fill="#e00000"/><ellipse cx="61.2" cy="44.4" rx="1.9" ry="1.0" transform="rotate(179 61.2 44.4)" fill="#ff2020"/><ellipse cx="79.3" cy="69.7" rx="1.1" ry="0.6" transform="rotate(46 79.3 69.7)" fill="#c80000"/><ellipse cx="82.8" cy="69.7" rx="1.7" ry="0.9" transform="rotate(135 82.8 69.7)" fill="#ff0a0a"/><ellipse cx="85.2" cy="72.9" rx="2.1" ry="1.1" transform="rotate(96 85.2 72.9)" fill="#ff2020"/><ellipse cx="83.7" cy="67.1" rx="1.0" ry="0.5" transform="rotate(176 83.7 67.1)" fill="#ff0a0a"/><ellipse cx="79.8" cy="68.7" rx="2.1" ry="1.1" transform="rotate(135 79.8 68.7)" fill="#ff2020"/><ellipse cx="84.9" cy="66.7" rx="1.5" ry="0.8" transform="rotate(171 84.9 66.7)" fill="#ff1010"/><ellipse cx="78.1" cy="69.6" rx="2.0" ry="1.1" transform="rotate(176 78.1 69.6)" fill="#ff1010"/><ellipse cx="80.0" cy="65.1" rx="1.7" ry="0.9" transform="rotate(34 80.0 65.1)" fill="#ff1010"/><ellipse cx="80.2" cy="69.0" rx="1.8" ry="0.9" transform="rotate(32 80.2 69.0)" fill="#ff1010"/><ellipse cx="85.4" cy="65.5" rx="1.8" ry="1.0" transform="rotate(80 85.4 65.5)" fill="#e00000"/><ellipse cx="86.6" cy="66.2" rx="2.2" ry="1.2" transform="rotate(160 86.6 66.2)" fill="#ff1010"/><ellipse cx="91.9" cy="67.2" rx="1.2" ry="0.6" transform="rotate(52 91.9 67.2)" fill="#ff2020"/><ellipse cx="86.0" cy="76.9" rx="1.7" ry="0.9" transform="rotate(94 86.0 76.9)" fill="#c80000"/><ellipse cx="85.0" cy="64.4" rx="2.2" ry="1.2" transform="rotate(78 85.0 64.4)" fill="#ff2020"/><ellipse cx="90.3" cy="64.1" rx="1.2" ry="0.7" transform="rotate(54 90.3 64.1)" fill="#ff2020"/><ellipse cx="81.8" cy="59.4" rx="1.1" ry="0.6" transform="rotate(106 81.8 59.4)" fill="#c80000"/><ellipse cx="79.1" cy="69.3" rx="1.6" ry="0.9" transform="rotate(20 79.1 69.3)" fill="#ff0a0a"/><ellipse cx="80.7" cy="61.5" rx="1.1" ry="0.6" transform="rotate(1 80.7 61.5)" fill="#ff2020"/><ellipse cx="83.3" cy="62.5" rx="1.9" ry="1.0" transform="rotate(62 83.3 62.5)" fill="#ff1010"/><ellipse cx="83.5" cy="71.4" rx="2.0" ry="1.1" transform="rotate(5 83.5 71.4)" fill="#ff2020"/><ellipse cx="84.0" cy="74.3" rx="2.0" ry="1.1" transform="rotate(146 84.0 74.3)" fill="#ff1010"/><ellipse cx="89.7" cy="70.3" rx="1.2" ry="0.6" transform="rotate(43 89.7 70.3)" fill="#ff0a0a"/><ellipse cx="90.4" cy="72.1" rx="1.8" ry="1.0" transform="rotate(35 90.4 72.1)" fill="#ff1010"/><ellipse cx="77.2" cy="61.5" rx="1.2" ry="0.6" transform="rotate(179 77.2 61.5)" fill="#ff1010"/><ellipse cx="79.5" cy="56.6" rx="1.1" ry="0.6" transform="rotate(40 79.5 56.6)" fill="#ff0a0a"/><ellipse cx="81.2" cy="73.6" rx="1.9" ry="1.0" transform="rotate(177 81.2 73.6)" fill="#ff0a0a"/><ellipse cx="79.2" cy="65.7" rx="1.7" ry="0.9" transform="rotate(19 79.2 65.7)" fill="#ff1010"/><ellipse cx="83.9" cy="60.8" rx="1.1" ry="0.6" transform="rotate(66 83.9 60.8)" fill="#ff0a0a"/><ellipse cx="85.8" cy="61.6" rx="1.7" ry="0.9" transform="rotate(50 85.8 61.6)" fill="#ff1010"/><ellipse cx="88.3" cy="78.0" rx="0.9" ry="0.5" transform="rotate(123 88.3 78.0)" fill="#c80000"/><ellipse cx="85.4" cy="69.3" rx="1.5" ry="0.8" transform="rotate(25 85.4 69.3)" fill="#e00000"/><ellipse cx="90.6" cy="76.0" rx="1.8" ry="1.0" transform="rotate(141 90.6 76.0)" fill="#e00000"/><ellipse cx="90.6" cy="73.9" rx="1.8" ry="1.0" transform="rotate(166 90.6 73.9)" fill="#ff0a0a"/><ellipse cx="86.9" cy="77.1" rx="1.9" ry="1.0" transform="rotate(101 86.9 77.1)" fill="#ff2020"/><ellipse cx="79.1" cy="63.0" rx="1.5" ry="0.8" transform="rotate(66 79.1 63.0)" fill="#e00000"/><ellipse cx="84.3" cy="59.8" rx="1.0" ry="0.6" transform="rotate(88 84.3 59.8)" fill="#e00000"/><ellipse cx="84.4" cy="71.6" rx="1.0" ry="0.5" transform="rotate(176 84.4 71.6)" fill="#ff0a0a"/><ellipse cx="83.9" cy="59.9" rx="2.2" ry="1.2" transform="rotate(28 83.9 59.9)" fill="#ff0a0a"/><ellipse cx="89.5" cy="78.7" rx="1.6" ry="0.9" transform="rotate(14 89.5 78.7)" fill="#ff0a0a"/><ellipse cx="90.9" cy="78.2" rx="1.9" ry="1.0" transform="rotate(112 90.9 78.2)" fill="#ff0a0a"/><ellipse cx="80.0" cy="72.5" rx="2.2" ry="1.2" transform="rotate(65 80.0 72.5)" fill="#ff2020"/><ellipse cx="81.9" cy="74.3" rx="1.9" ry="1.0" transform="rotate(28 81.9 74.3)" fill="#ff2020"/><ellipse cx="86.5" cy="61.7" rx="1.0" ry="0.5" transform="rotate(67 86.5 61.7)" fill="#c80000"/><ellipse cx="81.4" cy="67.2" rx="1.2" ry="0.6" transform="rotate(6 81.4 67.2)" fill="#ff0a0a"/><ellipse cx="87.9" cy="68.0" rx="1.2" ry="0.7" transform="rotate(69 87.9 68.0)" fill="#c80000"/><ellipse cx="89.3" cy="71.5" rx="2.2" ry="1.2" transform="rotate(152 89.3 71.5)" fill="#ff1010"/><ellipse cx="90.8" cy="72.2" rx="1.2" ry="0.7" transform="rotate(178 90.8 72.2)" fill="#c80000"/><ellipse cx="79.6" cy="64.5" rx="2.0" ry="1.1" transform="rotate(137 79.6 64.5)" fill="#ff0a0a"/><ellipse cx="84.6" cy="77.7" rx="1.2" ry="0.7" transform="rotate(24 84.6 77.7)" fill="#ff1010"/><ellipse cx="88.8" cy="77.1" rx="2.2" ry="1.2" transform="rotate(21 88.8 77.1)" fill="#ff1010"/><ellipse cx="84.5" cy="60.4" rx="2.2" ry="1.2" transform="rotate(176 84.5 60.4)" fill="#ff0a0a"/><ellipse cx="88.1" cy="61.9" rx="1.3" ry="0.7" transform="rotate(130 88.1 61.9)" fill="#ff1010"/><ellipse cx="79.8" cy="59.8" rx="1.2" ry="0.7" transform="rotate(85 79.8 59.8)" fill="#ff1010"/><ellipse cx="85.1" cy="76.8" rx="1.6" ry="0.8" transform="rotate(128 85.1 76.8)" fill="#ff0a0a"/><ellipse cx="85.0" cy="74.6" rx="1.9" ry="1.0" transform="rotate(127 85.0 74.6)" fill="#ff0a0a"/><ellipse cx="82.8" cy="65.0" rx="0.9" ry="0.5" transform="rotate(122 82.8 65.0)" fill="#ff0a0a"/><ellipse cx="82.3" cy="69.8" rx="1.6" ry="0.9" transform="rotate(69 82.3 69.8)" fill="#e00000"/><ellipse cx="81.4" cy="70.5" rx="2.1" ry="1.1" transform="rotate(69 81.4 70.5)" fill="#ff2020"/><ellipse cx="82.4" cy="58.6" rx="1.4" ry="0.7" transform="rotate(23 82.4 58.6)" fill="#ff1010"/><ellipse cx="82.8" cy="70.4" rx="1.1" ry="0.6" transform="rotate(107 82.8 70.4)" fill="#ff2020"/><ellipse cx="88.0" cy="78.5" rx="1.1" ry="0.6" transform="rotate(136 88.0 78.5)" fill="#e00000"/><ellipse cx="82.0" cy="58.5" rx="2.0" ry="1.1" transform="rotate(142 82.0 58.5)" fill="#e00000"/><ellipse cx="88.8" cy="78.5" rx="2.0" ry="1.1" transform="rotate(106 88.8 78.5)" fill="#ff0a0a"/><ellipse cx="88.2" cy="65.9" rx="1.1" ry="0.6" transform="rotate(27 88.2 65.9)" fill="#ff2020"/><ellipse cx="86.2" cy="69.4" rx="1.7" ry="0.9" transform="rotate(122 86.2 69.4)" fill="#e00000"/><ellipse cx="88.3" cy="59.8" rx="1.8" ry="1.0" transform="rotate(176 88.3 59.8)" fill="#ff1010"/><ellipse cx="80.0" cy="59.7" rx="1.8" ry="1.0" transform="rotate(86 80.0 59.7)" fill="#ff1010"/><ellipse cx="82.7" cy="73.0" rx="1.4" ry="0.7" transform="rotate(45 82.7 73.0)" fill="#ff2020"/><ellipse cx="85.3" cy="76.0" rx="2.2" ry="1.2" transform="rotate(13 85.3 76.0)" fill="#ff0a0a"/><ellipse cx="88.2" cy="62.6" rx="2.2" ry="1.2" transform="rotate(77 88.2 62.6)" fill="#ff1010"/><ellipse cx="78.6" cy="62.8" rx="1.6" ry="0.9" transform="rotate(61 78.6 62.8)" fill="#ff2020"/><ellipse cx="88.6" cy="62.8" rx="1.9" ry="1.0" transform="rotate(119 88.6 62.8)" fill="#ff2020"/><ellipse cx="84.4" cy="70.8" rx="1.2" ry="0.6" transform="rotate(158 84.4 70.8)" fill="#e00000"/><ellipse cx="89.6" cy="64.3" rx="1.4" ry="0.7" transform="rotate(164 89.6 64.3)" fill="#c80000"/><ellipse cx="87.4" cy="75.7" rx="1.7" ry="0.9" transform="rotate(63 87.4 75.7)" fill="#ff1010"/><ellipse cx="90.8" cy="71.6" rx="1.8" ry="1.0" transform="rotate(27 90.8 71.6)" fill="#ff1010"/><ellipse cx="91.7" cy="66.6" rx="2.0" ry="1.1" transform="rotate(29 91.7 66.6)" fill="#ff0a0a"/><ellipse cx="86.3" cy="60.0" rx="2.0" ry="1.1" transform="rotate(139 86.3 60.0)" fill="#ff2020"/><ellipse cx="85.6" cy="76.3" rx="1.7" ry="0.9" transform="rotate(95 85.6 76.3)" fill="#ff2020"/><ellipse cx="88.5" cy="72.0" rx="1.5" ry="0.8" transform="rotate(118 88.5 72.0)" fill="#c80000"/><ellipse cx="88.9" cy="73.7" rx="1.0" ry="0.5" transform="rotate(106 88.9 73.7)" fill="#e00000"/><ellipse cx="78.9" cy="57.3" rx="2.2" ry="1.2" transform="rotate(115 78.9 57.3)" fill="#ff1010"/><ellipse cx="84.3" cy="72.8" rx="1.9" ry="1.0" transform="rotate(136 84.3 72.8)" fill="#ff2020"/><ellipse cx="84.3" cy="74.5" rx="2.1" ry="1.1" transform="rotate(150 84.3 74.5)" fill="#ff0a0a"/><ellipse cx="89.7" cy="66.5" rx="2.1" ry="1.1" transform="rotate(76 89.7 66.5)" fill="#ff2020"/><ellipse cx="85.6" cy="69.4" rx="1.9" ry="1.0" transform="rotate(144 85.6 69.4)" fill="#c80000"/><ellipse cx="83.1" cy="60.5" rx="1.2" ry="0.7" transform="rotate(8 83.1 60.5)" fill="#e00000"/><ellipse cx="88.4" cy="66.7" rx="2.0" ry="1.1" transform="rotate(5 88.4 66.7)" fill="#ff2020"/><ellipse cx="79.9" cy="68.9" rx="2.2" ry="1.2" transform="rotate(45 79.9 68.9)" fill="#e00000"/><ellipse cx="84.9" cy="64.6" rx="1.7" ry="0.9" transform="rotate(165 84.9 64.6)" fill="#e00000"/><ellipse cx="81.3" cy="56.8" rx="1.9" ry="1.0" transform="rotate(1 81.3 56.8)" fill="#ff2020"/><ellipse cx="84.6" cy="64.5" rx="1.6" ry="0.9" transform="rotate(7 84.6 64.5)" fill="#c80000"/><ellipse cx="86.9" cy="77.5" rx="1.8" ry="1.0" transform="rotate(21 86.9 77.5)" fill="#ff2020"/><ellipse cx="29.2" cy="64.0" rx="1.2" ry="0.6" transform="rotate(154 29.2 64.0)" fill="#ff0a0a"/><ellipse cx="29.6" cy="62.4" rx="1.5" ry="0.8" transform="rotate(172 29.6 62.4)" fill="#e00000"/><ellipse cx="18.2" cy="51.6" rx="1.2" ry="0.6" transform="rotate(11 18.2 51.6)" fill="#ff0a0a"/><ellipse cx="20.1" cy="52.0" rx="1.1" ry="0.6" transform="rotate(75 20.1 52.0)" fill="#c80000"/><ellipse cx="19.4" cy="57.8" rx="1.9" ry="1.0" transform="rotate(58 19.4 57.8)" fill="#ff1010"/><ellipse cx="30.5" cy="60.9" rx="2.0" ry="1.1" transform="rotate(22 30.5 60.9)" fill="#ff2020"/><ellipse cx="22.8" cy="61.0" rx="2.2" ry="1.2" transform="rotate(130 22.8 61.0)" fill="#c80000"/><ellipse cx="24.7" cy="54.8" rx="1.3" ry="0.7" transform="rotate(135 24.7 54.8)" fill="#ff2020"/><ellipse cx="32.3" cy="67.0" rx="1.6" ry="0.9" transform="rotate(75 32.3 67.0)" fill="#c80000"/><ellipse cx="16.8" cy="65.8" rx="1.1" ry="0.6" transform="rotate(64 16.8 65.8)" fill="#c80000"/><ellipse cx="32.9" cy="59.1" rx="1.4" ry="0.7" transform="rotate(78 32.9 59.1)" fill="#ff0a0a"/><ellipse cx="34.2" cy="60.7" rx="1.9" ry="1.0" transform="rotate(74 34.2 60.7)" fill="#ff1010"/><ellipse cx="16.4" cy="59.1" rx="1.7" ry="0.9" transform="rotate(113 16.4 59.1)" fill="#ff1010"/><ellipse cx="20.8" cy="66.9" rx="1.1" ry="0.6" transform="rotate(83 20.8 66.9)" fill="#ff0a0a"/><ellipse cx="27.9" cy="66.6" rx="1.6" ry="0.9" transform="rotate(60 27.9 66.6)" fill="#c80000"/><ellipse cx="27.5" cy="54.4" rx="1.4" ry="0.8" transform="rotate(21 27.5 54.4)" fill="#c80000"/><ellipse cx="27.9" cy="57.2" rx="1.5" ry="0.8" transform="rotate(22 27.9 57.2)" fill="#e00000"/><ellipse cx="26.2" cy="62.8" rx="1.3" ry="0.7" transform="rotate(137 26.2 62.8)" fill="#ff2020"/><ellipse cx="17.7" cy="58.7" rx="1.4" ry="0.8" transform="rotate(46 17.7 58.7)" fill="#ff2020"/><ellipse cx="20.9" cy="60.1" rx="1.7" ry="0.9" transform="rotate(163 20.9 60.1)" fill="#c80000"/><ellipse cx="32.0" cy="67.9" rx="1.8" ry="1.0" transform="rotate(34 32.0 67.9)" fill="#e00000"/><ellipse cx="22.1" cy="62.0" rx="1.0" ry="0.5" transform="rotate(159 22.1 62.0)" fill="#ff0a0a"/><ellipse cx="32.2" cy="61.9" rx="1.1" ry="0.6" transform="rotate(74 32.2 61.9)" fill="#ff1010"/><ellipse cx="30.2" cy="65.4" rx="1.7" ry="0.9" transform="rotate(81 30.2 65.4)" fill="#c80000"/><ellipse cx="23.6" cy="55.1" rx="0.9" ry="0.5" transform="rotate(115 23.6 55.1)" fill="#c80000"/><ellipse cx="22.0" cy="65.1" rx="1.5" ry="0.8" transform="rotate(117 22.0 65.1)" fill="#ff2020"/><ellipse cx="30.3" cy="67.0" rx="1.8" ry="1.0" transform="rotate(169 30.3 67.0)" fill="#c80000"/><ellipse cx="32.0" cy="67.7" rx="0.9" ry="0.5" transform="rotate(4 32.0 67.7)" fill="#ff1010"/><ellipse cx="27.0" cy="63.4" rx="1.4" ry="0.8" transform="rotate(66 27.0 63.4)" fill="#ff0a0a"/><ellipse cx="28.5" cy="62.3" rx="1.7" ry="0.9" transform="rotate(138 28.5 62.3)" fill="#c80000"/><ellipse cx="18.1" cy="51.0" rx="2.2" ry="1.2" transform="rotate(89 18.1 51.0)" fill="#c80000"/><ellipse cx="31.8" cy="64.9" rx="1.9" ry="1.0" transform="rotate(64 31.8 64.9)" fill="#c80000"/><ellipse cx="28.8" cy="54.8" rx="2.2" ry="1.2" transform="rotate(75 28.8 54.8)" fill="#ff0a0a"/><ellipse cx="29.9" cy="61.0" rx="1.5" ry="0.8" transform="rotate(105 29.9 61.0)" fill="#ff2020"/><ellipse cx="28.3" cy="62.4" rx="1.6" ry="0.9" transform="rotate(59 28.3 62.4)" fill="#c80000"/><ellipse cx="21.3" cy="61.6" rx="1.8" ry="1.0" transform="rotate(21 21.3 61.6)" fill="#e00000"/><ellipse cx="33.1" cy="58.8" rx="1.9" ry="1.0" transform="rotate(168 33.1 58.8)" fill="#ff0a0a"/><ellipse cx="21.1" cy="50.4" rx="2.0" ry="1.0" transform="rotate(25 21.1 50.4)" fill="#c80000"/><ellipse cx="27.2" cy="56.2" rx="1.4" ry="0.7" transform="rotate(84 27.2 56.2)" fill="#ff1010"/><ellipse cx="19.6" cy="52.1" rx="1.8" ry="0.9" transform="rotate(116 19.6 52.1)" fill="#e00000"/><ellipse cx="31.2" cy="67.6" rx="1.1" ry="0.6" transform="rotate(82 31.2 67.6)" fill="#e00000"/><ellipse cx="29.2" cy="55.2" rx="1.7" ry="0.9" transform="rotate(76 29.2 55.2)" fill="#ff0a0a"/><ellipse cx="28.3" cy="55.7" rx="2.2" ry="1.2" transform="rotate(85 28.3 55.7)" fill="#ff1010"/><ellipse cx="28.2" cy="60.0" rx="2.0" ry="1.1" transform="rotate(164 28.2 60.0)" fill="#c80000"/><ellipse cx="21.0" cy="63.3" rx="1.6" ry="0.8" transform="rotate(105 21.0 63.3)" fill="#ff2020"/><ellipse cx="16.3" cy="55.1" rx="2.1" ry="1.1" transform="rotate(108 16.3 55.1)" fill="#e00000"/><ellipse cx="17.9" cy="56.7" rx="1.9" ry="1.0" transform="rotate(168 17.9 56.7)" fill="#c80000"/><ellipse cx="31.4" cy="69.0" rx="1.2" ry="0.6" transform="rotate(5 31.4 69.0)" fill="#e00000"/><ellipse cx="22.1" cy="52.0" rx="1.4" ry="0.7" transform="rotate(157 22.1 52.0)" fill="#ff0a0a"/><ellipse cx="21.0" cy="62.7" rx="1.2" ry="0.6" transform="rotate(105 21.0 62.7)" fill="#e00000"/><ellipse cx="21.4" cy="54.1" rx="2.1" ry="1.1" transform="rotate(118 21.4 54.1)" fill="#c80000"/><ellipse cx="22.0" cy="51.6" rx="1.1" ry="0.6" transform="rotate(60 22.0 51.6)" fill="#ff1010"/><ellipse cx="22.2" cy="53.5" rx="1.8" ry="1.0" transform="rotate(154 22.2 53.5)" fill="#e00000"/><ellipse cx="30.6" cy="64.3" rx="1.8" ry="1.0" transform="rotate(71 30.6 64.3)" fill="#ff2020"/><ellipse cx="20.3" cy="52.2" rx="1.5" ry="0.8" transform="rotate(121 20.3 52.2)" fill="#c80000"/><ellipse cx="26.5" cy="56.1" rx="1.2" ry="0.6" transform="rotate(5 26.5 56.1)" fill="#ff0a0a"/><ellipse cx="21.9" cy="54.6" rx="1.1" ry="0.6" transform="rotate(45 21.9 54.6)" fill="#e00000"/><ellipse cx="22.2" cy="65.7" rx="2.2" ry="1.2" transform="rotate(2 22.2 65.7)" fill="#ff1010"/><ellipse cx="18.4" cy="51.5" rx="1.9" ry="1.0" transform="rotate(51 18.4 51.5)" fill="#ff1010"/><ellipse cx="29.0" cy="58.0" rx="1.7" ry="0.9" transform="rotate(35 29.0 58.0)" fill="#c80000"/><ellipse cx="27.4" cy="66.3" rx="1.0" ry="0.5" transform="rotate(167 27.4 66.3)" fill="#ff1010"/><ellipse cx="27.8" cy="61.1" rx="1.5" ry="0.8" transform="rotate(32 27.8 61.1)" fill="#e00000"/><ellipse cx="27.6" cy="57.7" rx="2.0" ry="1.1" transform="rotate(60 27.6 57.7)" fill="#e00000"/><ellipse cx="29.4" cy="50.1" rx="1.1" ry="0.6" transform="rotate(145 29.4 50.1)" fill="#ff0a0a"/><ellipse cx="21.6" cy="53.8" rx="2.2" ry="1.2" transform="rotate(4 21.6 53.8)" fill="#c80000"/><ellipse cx="26.4" cy="55.7" rx="1.6" ry="0.8" transform="rotate(12 26.4 55.7)" fill="#e00000"/><ellipse cx="26.6" cy="57.9" rx="1.4" ry="0.8" transform="rotate(5 26.6 57.9)" fill="#e00000"/><ellipse cx="31.3" cy="64.2" rx="2.2" ry="1.2" transform="rotate(97 31.3 64.2)" fill="#ff2020"/><ellipse cx="29.1" cy="53.5" rx="2.1" ry="1.1" transform="rotate(152 29.1 53.5)" fill="#c80000"/><ellipse cx="19.3" cy="54.0" rx="2.2" ry="1.2" transform="rotate(59 19.3 54.0)" fill="#ff2020"/><ellipse cx="22.4" cy="58.8" rx="1.5" ry="0.8" transform="rotate(162 22.4 58.8)" fill="#ff0a0a"/><ellipse cx="21.3" cy="56.5" rx="1.1" ry="0.6" transform="rotate(118 21.3 56.5)" fill="#ff2020"/><ellipse cx="28.8" cy="63.2" rx="2.1" ry="1.1" transform="rotate(174 28.8 63.2)" fill="#ff1010"/><ellipse cx="31.1" cy="63.6" rx="1.1" ry="0.6" transform="rotate(124 31.1 63.6)" fill="#c80000"/><ellipse cx="28.3" cy="56.0" rx="1.7" ry="0.9" transform="rotate(61 28.3 56.0)" fill="#ff1010"/><ellipse cx="22.1" cy="61.5" rx="1.7" ry="0.9" transform="rotate(138 22.1 61.5)" fill="#ff1010"/><ellipse cx="32.2" cy="65.8" rx="1.9" ry="1.0" transform="rotate(103 32.2 65.8)" fill="#ff0a0a"/><ellipse cx="28.7" cy="67.3" rx="1.4" ry="0.7" transform="rotate(179 28.7 67.3)" fill="#c80000"/><ellipse cx="22.4" cy="60.0" rx="1.0" ry="0.6" transform="rotate(163 22.4 60.0)" fill="#ff2020"/><ellipse cx="32.9" cy="65.5" rx="1.7" ry="0.9" transform="rotate(47 32.9 65.5)" fill="#e00000"/><ellipse cx="16.9" cy="61.3" rx="1.4" ry="0.8" transform="rotate(175 16.9 61.3)" fill="#ff1010"/><ellipse cx="20.8" cy="53.4" rx="2.2" ry="1.2" transform="rotate(152 20.8 53.4)" fill="#ff0a0a"/><ellipse cx="16.5" cy="60.2" rx="1.7" ry="0.9" transform="rotate(12 16.5 60.2)" fill="#e00000"/><ellipse cx="27.7" cy="52.8" rx="2.2" ry="1.2" transform="rotate(30 27.7 52.8)" fill="#e00000"/><ellipse cx="30.3" cy="61.7" rx="1.7" ry="0.9" transform="rotate(33 30.3 61.7)" fill="#ff0a0a"/><ellipse cx="25.8" cy="68.6" rx="2.2" ry="1.2" transform="rotate(174 25.8 68.6)" fill="#ff2020"/><ellipse cx="33.4" cy="58.5" rx="1.1" ry="0.6" transform="rotate(30 33.4 58.5)" fill="#c80000"/><ellipse cx="31.8" cy="59.6" rx="1.0" ry="0.5" transform="rotate(59 31.8 59.6)" fill="#ff1010"/><ellipse cx="24.0" cy="66.2" rx="1.4" ry="0.7" transform="rotate(17 24.0 66.2)" fill="#ff1010"/><ellipse cx="30.5" cy="58.2" rx="1.2" ry="0.6" transform="rotate(118 30.5 58.2)" fill="#e00000"/><ellipse cx="29.6" cy="58.0" rx="1.4" ry="0.8" transform="rotate(164 29.6 58.0)" fill="#ff1010"/><ellipse cx="25.2" cy="68.0" rx="1.9" ry="1.0" transform="rotate(39 25.2 68.0)" fill="#ff2020"/><ellipse cx="31.8" cy="59.0" rx="1.1" ry="0.6" transform="rotate(100 31.8 59.0)" fill="#ff1010"/><ellipse cx="17.9" cy="60.4" rx="1.1" ry="0.6" transform="rotate(92 17.9 60.4)" fill="#c80000"/><ellipse cx="23.5" cy="56.1" rx="1.7" ry="0.9" transform="rotate(36 23.5 56.1)" fill="#c80000"/><ellipse cx="32.2" cy="58.5" rx="1.7" ry="0.9" transform="rotate(131 32.2 58.5)" fill="#ff2020"/><ellipse cx="25.9" cy="53.4" rx="1.6" ry="0.8" transform="rotate(162 25.9 53.4)" fill="#c80000"/><ellipse cx="84.0" cy="90.7" rx="1.9" ry="1.0" transform="rotate(100 84.0 90.7)" fill="#ff2020"/><ellipse cx="80.5" cy="89.3" rx="2.0" ry="1.1" transform="rotate(42 80.5 89.3)" fill="#ff0a0a"/><ellipse cx="79.2" cy="84.3" rx="1.0" ry="0.5" transform="rotate(94 79.2 84.3)" fill="#e00000"/><ellipse cx="82.2" cy="90.6" rx="1.7" ry="0.9" transform="rotate(82 82.2 90.6)" fill="#ff1010"/><ellipse cx="83.9" cy="84.5" rx="1.3" ry="0.7" transform="rotate(119 83.9 84.5)" fill="#ff0a0a"/><ellipse cx="81.1" cy="85.1" rx="2.2" ry="1.2" transform="rotate(10 81.1 85.1)" fill="#c80000"/><ellipse cx="79.2" cy="88.3" rx="2.0" ry="1.1" transform="rotate(64 79.2 88.3)" fill="#ff2020"/><ellipse cx="81.7" cy="86.0" rx="1.0" ry="0.5" transform="rotate(138 81.7 86.0)" fill="#c80000"/><ellipse cx="79.7" cy="90.4" rx="1.0" ry="0.5" transform="rotate(140 79.7 90.4)" fill="#ff1010"/><ellipse cx="81.3" cy="84.2" rx="1.2" ry="0.6" transform="rotate(45 81.3 84.2)" fill="#ff2020"/><ellipse cx="83.4" cy="84.6" rx="1.6" ry="0.9" transform="rotate(37 83.4 84.6)" fill="#ff0a0a"/><ellipse cx="81.2" cy="84.9" rx="1.5" ry="0.8" transform="rotate(39 81.2 84.9)" fill="#ff0a0a"/><ellipse cx="79.0" cy="84.1" rx="1.8" ry="1.0" transform="rotate(18 79.0 84.1)" fill="#ff0a0a"/><ellipse cx="81.2" cy="87.9" rx="1.5" ry="0.8" transform="rotate(122 81.2 87.9)" fill="#c80000"/><ellipse cx="81.6" cy="89.3" rx="1.3" ry="0.7" transform="rotate(124 81.6 89.3)" fill="#ff0a0a"/><ellipse cx="80.3" cy="10.1" rx="2.0" ry="1.0" transform="rotate(79 80.3 10.1)" fill="#ff0a0a"/><ellipse cx="75.3" cy="11.4" rx="1.3" ry="0.7" transform="rotate(42 75.3 11.4)" fill="#e00000"/><ellipse cx="78.5" cy="8.9" rx="1.8" ry="1.0" transform="rotate(43 78.5 8.9)" fill="#e00000"/><ellipse cx="79.9" cy="11.7" rx="2.0" ry="1.1" transform="rotate(173 79.9 11.7)" fill="#ff1010"/><ellipse cx="71.2" cy="13.9" rx="1.7" ry="0.9" transform="rotate(64 71.2 13.9)" fill="#c80000"/><ellipse cx="68.9" cy="10.0" rx="2.0" ry="1.1" transform="rotate(91 68.9 10.0)" fill="#ff0a0a"/><ellipse cx="79.5" cy="12.6" rx="2.1" ry="1.1" transform="rotate(136 79.5 12.6)" fill="#ff1010"/><ellipse cx="80.3" cy="11.4" rx="1.8" ry="0.9" transform="rotate(158 80.3 11.4)" fill="#ff1010"/><ellipse cx="75.2" cy="11.5" rx="2.2" ry="1.2" transform="rotate(178 75.2 11.5)" fill="#c80000"/><ellipse cx="80.6" cy="11.4" rx="1.4" ry="0.7" transform="rotate(144 80.6 11.4)" fill="#e00000"/><ellipse cx="69.8" cy="8.7" rx="1.5" ry="0.8" transform="rotate(91 69.8 8.7)" fill="#ff1010"/><ellipse cx="81.5" cy="11.5" rx="0.9" ry="0.5" transform="rotate(52 81.5 11.5)" fill="#ff2020"/><ellipse cx="68.8" cy="13.2" rx="1.3" ry="0.7" transform="rotate(115 68.8 13.2)" fill="#ff1010"/><ellipse cx="78.9" cy="11.0" rx="1.1" ry="0.6" transform="rotate(19 78.9 11.0)" fill="#ff0a0a"/><ellipse cx="77.7" cy="8.5" rx="1.7" ry="0.9" transform="rotate(68 77.7 8.5)" fill="#e00000"/><ellipse cx="77.2" cy="11.9" rx="1.4" ry="0.7" transform="rotate(21 77.2 11.9)" fill="#e00000"/><ellipse cx="80.1" cy="8.7" rx="1.0" ry="0.6" transform="rotate(111 80.1 8.7)" fill="#ff2020"/><ellipse cx="80.1" cy="10.0" rx="1.2" ry="0.7" transform="rotate(73 80.1 10.0)" fill="#ff0a0a"/><ellipse cx="80.3" cy="9.4" rx="1.1" ry="0.6" transform="rotate(47 80.3 9.4)" fill="#e00000"/><ellipse cx="77.8" cy="14.0" rx="1.2" ry="0.6" transform="rotate(69 77.8 14.0)" fill="#c80000"/><ellipse cx="71.9" cy="8.7" rx="2.0" ry="1.1" transform="rotate(136 71.9 8.7)" fill="#c80000"/><ellipse cx="80.4" cy="12.6" rx="1.7" ry="0.9" transform="rotate(53 80.4 12.6)" fill="#ff2020"/><ellipse cx="76.1" cy="8.3" rx="1.9" ry="1.0" transform="rotate(60 76.1 8.3)" fill="#e00000"/><ellipse cx="77.3" cy="10.1" rx="1.4" ry="0.7" transform="rotate(83 77.3 10.1)" fill="#ff2020"/><ellipse cx="77.0" cy="10.0" rx="2.0" ry="1.1" transform="rotate(62 77.0 10.0)" fill="#ff2020"/><ellipse cx="71.7" cy="8.5" rx="1.3" ry="0.7" transform="rotate(9 71.7 8.5)" fill="#ff2020"/><ellipse cx="66.5" cy="35.2" rx="0.9" ry="0.5" transform="rotate(121 66.5 35.2)" fill="#c80000"/><ellipse cx="58.7" cy="34.5" rx="2.0" ry="1.1" transform="rotate(126 58.7 34.5)" fill="#ff2020"/><ellipse cx="62.4" cy="31.6" rx="1.8" ry="1.0" transform="rotate(119 62.4 31.6)" fill="#ff2020"/><ellipse cx="61.3" cy="31.9" rx="1.1" ry="0.6" transform="rotate(93 61.3 31.9)" fill="#e00000"/><ellipse cx="63.9" cy="28.6" rx="1.4" ry="0.7" transform="rotate(35 63.9 28.6)" fill="#ff2020"/><ellipse cx="63.2" cy="28.3" rx="1.9" ry="1.0" transform="rotate(46 63.2 28.3)" fill="#ff0a0a"/><ellipse cx="67.5" cy="31.0" rx="1.8" ry="1.0" transform="rotate(155 67.5 31.0)" fill="#e00000"/><ellipse cx="61.0" cy="31.6" rx="1.2" ry="0.7" transform="rotate(125 61.0 31.6)" fill="#ff2020"/><ellipse cx="60.4" cy="30.0" rx="1.3" ry="0.7" transform="rotate(54 60.4 30.0)" fill="#c80000"/><ellipse cx="69.8" cy="30.5" rx="2.2" ry="1.2" transform="rotate(160 69.8 30.5)" fill="#c80000"/><ellipse cx="69.4" cy="32.4" rx="1.5" ry="0.8" transform="rotate(54 69.4 32.4)" fill="#ff1010"/><ellipse cx="65.8" cy="29.9" rx="1.6" ry="0.9" transform="rotate(171 65.8 29.9)" fill="#ff1010"/><ellipse cx="62.6" cy="35.8" rx="1.9" ry="1.0" transform="rotate(151 62.6 35.8)" fill="#ff2020"/><ellipse cx="58.4" cy="30.8" rx="1.6" ry="0.9" transform="rotate(137 58.4 30.8)" fill="#ff0a0a"/><ellipse cx="66.6" cy="31.8" rx="1.6" ry="0.9" transform="rotate(140 66.6 31.8)" fill="#ff2020"/><ellipse cx="68.9" cy="28.1" rx="2.1" ry="1.1" transform="rotate(107 68.9 28.1)" fill="#ff0a0a"/><ellipse cx="59.4" cy="29.8" rx="1.3" ry="0.7" transform="rotate(163 59.4 29.8)" fill="#ff2020"/><ellipse cx="58.3" cy="32.4" rx="2.1" ry="1.1" transform="rotate(26 58.3 32.4)" fill="#e00000"/><ellipse cx="69.9" cy="34.5" rx="0.9" ry="0.5" transform="rotate(137 69.9 34.5)" fill="#c80000"/><ellipse cx="60.4" cy="30.4" rx="2.0" ry="1.1" transform="rotate(0 60.4 30.4)" fill="#e00000"/><ellipse cx="63.8" cy="30.3" rx="1.1" ry="0.6" transform="rotate(83 63.8 30.3)" fill="#c80000"/><ellipse cx="58.1" cy="29.3" rx="1.8" ry="1.0" transform="rotate(86 58.1 29.3)" fill="#c80000"/><ellipse cx="66.5" cy="34.8" rx="1.3" ry="0.7" transform="rotate(68 66.5 34.8)" fill="#ff0a0a"/><ellipse cx="64.4" cy="34.1" rx="0.9" ry="0.5" transform="rotate(147 64.4 34.1)" fill="#ff2020"/><ellipse cx="69.2" cy="31.0" rx="1.6" ry="0.9" transform="rotate(88 69.2 31.0)" fill="#ff0a0a"/><ellipse cx="61.8" cy="29.6" rx="1.8" ry="1.0" transform="rotate(153 61.8 29.6)" fill="#ff2020"/><ellipse cx="67.1" cy="32.3" rx="1.4" ry="0.8" transform="rotate(1 67.1 32.3)" fill="#c80000"/><ellipse cx="68.7" cy="30.7" rx="1.0" ry="0.5" transform="rotate(74 68.7 30.7)" fill="#c80000"/><ellipse cx="59.8" cy="32.2" rx="2.2" ry="1.1" transform="rotate(175 59.8 32.2)" fill="#e00000"/><ellipse cx="59.4" cy="34.9" rx="1.3" ry="0.7" transform="rotate(86 59.4 34.9)" fill="#ff2020"/><ellipse cx="64.4" cy="51.6" rx="2.2" ry="1.2" transform="rotate(123 64.4 51.6)" fill="#ff1010"/><ellipse cx="67.6" cy="50.9" rx="1.1" ry="0.6" transform="rotate(152 67.6 50.9)" fill="#e00000"/><ellipse cx="63.5" cy="43.1" rx="1.6" ry="0.9" transform="rotate(95 63.5 43.1)" fill="#ff2020"/><ellipse cx="61.1" cy="43.8" rx="1.5" ry="0.8" transform="rotate(62 61.1 43.8)" fill="#ff0a0a"/><ellipse cx="64.9" cy="48.7" rx="2.0" ry="1.1" transform="rotate(156 64.9 48.7)" fill="#ff0a0a"/><ellipse cx="63.9" cy="41.9" rx="2.2" ry="1.2" transform="rotate(53 63.9 41.9)" fill="#ff1010"/><ellipse cx="72.1" cy="53.7" rx="2.0" ry="1.1" transform="rotate(140 72.1 53.7)" fill="#ff1010"/><ellipse cx="75.8" cy="50.2" rx="1.4" ry="0.7" transform="rotate(156 75.8 50.2)" fill="#ff1010"/><ellipse cx="76.1" cy="56.3" rx="1.1" ry="0.6" transform="rotate(86 76.1 56.3)" fill="#c80000"/><ellipse cx="67.2" cy="54.9" rx="1.6" ry="0.9" transform="rotate(72 67.2 54.9)" fill="#c80000"/><ellipse cx="64.6" cy="47.7" rx="2.1" ry="1.1" transform="rotate(173 64.6 47.7)" fill="#e00000"/><ellipse cx="67.4" cy="48.2" rx="1.5" ry="0.8" transform="rotate(145 67.4 48.2)" fill="#ff1010"/><ellipse cx="72.1" cy="48.6" rx="1.0" ry="0.5" transform="rotate(38 72.1 48.6)" fill="#ff2020"/><ellipse cx="61.2" cy="43.0" rx="0.9" ry="0.5" transform="rotate(63 61.2 43.0)" fill="#ff1010"/><ellipse cx="62.8" cy="41.9" rx="2.1" ry="1.1" transform="rotate(147 62.8 41.9)" fill="#c80000"/><ellipse cx="69.7" cy="46.8" rx="1.4" ry="0.8" transform="rotate(85 69.7 46.8)" fill="#e00000"/><ellipse cx="62.7" cy="52.7" rx="1.0" ry="0.5" transform="rotate(17 62.7 52.7)" fill="#ff0a0a"/><ellipse cx="65.4" cy="53.3" rx="1.8" ry="0.9" transform="rotate(108 65.4 53.3)" fill="#ff1010"/><ellipse cx="71.6" cy="43.8" rx="2.2" ry="1.2" transform="rotate(65 71.6 43.8)" fill="#e00000"/><ellipse cx="65.8" cy="57.1" rx="0.9" ry="0.5" transform="rotate(34 65.8 57.1)" fill="#ff1010"/><ellipse cx="63.0" cy="43.0" rx="1.1" ry="0.6" transform="rotate(103 63.0 43.0)" fill="#c80000"/><ellipse cx="71.4" cy="52.7" rx="1.1" ry="0.6" transform="rotate(131 71.4 52.7)" fill="#ff0a0a"/><ellipse cx="71.2" cy="48.9" rx="2.1" ry="1.1" transform="rotate(83 71.2 48.9)" fill="#c80000"/><ellipse cx="74.6" cy="47.1" rx="2.1" ry="1.1" transform="rotate(51 74.6 47.1)" fill="#ff2020"/><ellipse cx="67.1" cy="44.6" rx="1.4" ry="0.8" transform="rotate(25 67.1 44.6)" fill="#c80000"/><ellipse cx="70.5" cy="44.4" rx="2.0" ry="1.1" transform="rotate(54 70.5 44.4)" fill="#e00000"/><ellipse cx="71.7" cy="45.2" rx="1.9" ry="1.0" transform="rotate(71 71.7 45.2)" fill="#ff1010"/><ellipse cx="64.8" cy="42.2" rx="2.1" ry="1.1" transform="rotate(141 64.8 42.2)" fill="#ff1010"/><ellipse cx="62.5" cy="44.4" rx="1.1" ry="0.6" transform="rotate(10 62.5 44.4)" fill="#ff0a0a"/><ellipse cx="73.5" cy="49.4" rx="1.3" ry="0.7" transform="rotate(104 73.5 49.4)" fill="#e00000"/><ellipse cx="64.9" cy="50.2" rx="1.7" ry="0.9" transform="rotate(50 64.9 50.2)" fill="#ff0a0a"/><ellipse cx="67.5" cy="57.6" rx="1.9" ry="1.0" transform="rotate(102 67.5 57.6)" fill="#c80000"/><ellipse cx="72.6" cy="52.1" rx="1.2" ry="0.6" transform="rotate(30 72.6 52.1)" fill="#e00000"/><ellipse cx="73.1" cy="49.5" rx="1.8" ry="1.0" transform="rotate(61 73.1 49.5)" fill="#ff0a0a"/><ellipse cx="67.2" cy="45.3" rx="1.5" ry="0.8" transform="rotate(38 67.2 45.3)" fill="#ff0a0a"/><ellipse cx="67.1" cy="48.3" rx="1.9" ry="1.0" transform="rotate(125 67.1 48.3)" fill="#ff0a0a"/><ellipse cx="67.7" cy="50.2" rx="1.2" ry="0.6" transform="rotate(175 67.7 50.2)" fill="#ff1010"/><ellipse cx="77.1" cy="53.8" rx="1.3" ry="0.7" transform="rotate(161 77.1 53.8)" fill="#ff1010"/><ellipse cx="68.5" cy="41.8" rx="2.2" ry="1.2" transform="rotate(5 68.5 41.8)" fill="#ff2020"/><ellipse cx="63.0" cy="45.8" rx="1.3" ry="0.7" transform="rotate(129 63.0 45.8)" fill="#ff1010"/><ellipse cx="69.8" cy="54.4" rx="1.4" ry="0.8" transform="rotate(159 69.8 54.4)" fill="#e00000"/><ellipse cx="73.0" cy="46.6" rx="1.7" ry="0.9" transform="rotate(117 73.0 46.6)" fill="#ff0a0a"/><ellipse cx="64.1" cy="48.4" rx="1.1" ry="0.6" transform="rotate(23 64.1 48.4)" fill="#e00000"/><ellipse cx="63.9" cy="47.0" rx="2.0" ry="1.1" transform="rotate(46 63.9 47.0)" fill="#c80000"/><ellipse cx="73.2" cy="43.6" rx="1.4" ry="0.7" transform="rotate(156 73.2 43.6)" fill="#ff0a0a"/><ellipse cx="75.0" cy="47.1" rx="1.7" ry="0.9" transform="rotate(103 75.0 47.1)" fill="#e00000"/><ellipse cx="70.4" cy="44.5" rx="1.7" ry="0.9" transform="rotate(34 70.4 44.5)" fill="#ff1010"/><ellipse cx="73.2" cy="44.5" rx="2.0" ry="1.1" transform="rotate(141 73.2 44.5)" fill="#ff1010"/><ellipse cx="72.0" cy="48.7" rx="1.1" ry="0.6" transform="rotate(176 72.0 48.7)" fill="#c80000"/><ellipse cx="77.5" cy="53.4" rx="1.5" ry="0.8" transform="rotate(86 77.5 53.4)" fill="#ff1010"/><ellipse cx="74.2" cy="56.7" rx="1.9" ry="1.0" transform="rotate(97 74.2 56.7)" fill="#ff2020"/><ellipse cx="64.7" cy="47.7" rx="1.0" ry="0.5" transform="rotate(79 64.7 47.7)" fill="#ff2020"/><ellipse cx="66.6" cy="43.1" rx="1.2" ry="0.6" transform="rotate(77 66.6 43.1)" fill="#c80000"/><ellipse cx="72.5" cy="46.5" rx="2.0" ry="1.1" transform="rotate(159 72.5 46.5)" fill="#ff0a0a"/><ellipse cx="60.9" cy="43.7" rx="2.0" ry="1.0" transform="rotate(71 60.9 43.7)" fill="#ff2020"/><ellipse cx="73.4" cy="46.1" rx="2.0" ry="1.1" transform="rotate(130 73.4 46.1)" fill="#ff1010"/><ellipse cx="68.0" cy="51.6" rx="1.3" ry="0.7" transform="rotate(98 68.0 51.6)" fill="#ff2020"/><ellipse cx="63.9" cy="44.7" rx="1.7" ry="0.9" transform="rotate(13 63.9 44.7)" fill="#ff1010"/><ellipse cx="67.3" cy="44.5" rx="1.7" ry="0.9" transform="rotate(155 67.3 44.5)" fill="#ff1010"/><ellipse cx="68.8" cy="50.1" rx="1.6" ry="0.8" transform="rotate(80 68.8 50.1)" fill="#ff2020"/><ellipse cx="67.0" cy="52.6" rx="1.9" ry="1.0" transform="rotate(155 67.0 52.6)" fill="#ff0a0a"/><ellipse cx="62.3" cy="47.8" rx="1.9" ry="1.0" transform="rotate(59 62.3 47.8)" fill="#ff1010"/><ellipse cx="72.3" cy="43.6" rx="1.3" ry="0.7" transform="rotate(95 72.3 43.6)" fill="#c80000"/><ellipse cx="66.2" cy="47.6" rx="1.3" ry="0.7" transform="rotate(16 66.2 47.6)" fill="#ff2020"/><ellipse cx="68.7" cy="44.3" rx="1.1" ry="0.6" transform="rotate(139 68.7 44.3)" fill="#e00000"/><ellipse cx="69.3" cy="48.2" rx="1.0" ry="0.5" transform="rotate(16 69.3 48.2)" fill="#ff2020"/><ellipse cx="71.7" cy="44.1" rx="1.8" ry="1.0" transform="rotate(99 71.7 44.1)" fill="#ff1010"/><ellipse cx="66.5" cy="55.6" rx="1.4" ry="0.8" transform="rotate(73 66.5 55.6)" fill="#ff0a0a"/><ellipse cx="71.1" cy="53.7" rx="2.0" ry="1.1" transform="rotate(114 71.1 53.7)" fill="#ff0a0a"/><ellipse cx="70.9" cy="41.7" rx="1.2" ry="0.7" transform="rotate(42 70.9 41.7)" fill="#e00000"/><ellipse cx="68.4" cy="53.6" rx="1.1" ry="0.6" transform="rotate(9 68.4 53.6)" fill="#ff1010"/><ellipse cx="74.1" cy="56.1" rx="1.6" ry="0.8" transform="rotate(99 74.1 56.1)" fill="#ff0a0a"/><ellipse cx="61.7" cy="50.3" rx="1.1" ry="0.6" transform="rotate(120 61.7 50.3)" fill="#e00000"/><ellipse cx="71.3" cy="55.4" rx="1.2" ry="0.7" transform="rotate(25 71.3 55.4)" fill="#ff0a0a"/><ellipse cx="66.6" cy="56.0" rx="1.6" ry="0.8" transform="rotate(167 66.6 56.0)" fill="#ff0a0a"/><ellipse cx="74.0" cy="43.2" rx="1.2" ry="0.6" transform="rotate(147 74.0 43.2)" fill="#ff0a0a"/><ellipse cx="61.8" cy="44.0" rx="1.9" ry="1.0" transform="rotate(150 61.8 44.0)" fill="#ff1010"/><ellipse cx="72.1" cy="52.7" rx="1.7" ry="0.9" transform="rotate(25 72.1 52.7)" fill="#ff1010"/><ellipse cx="62.0" cy="51.3" rx="1.1" ry="0.6" transform="rotate(62 62.0 51.3)" fill="#e00000"/><ellipse cx="70.2" cy="55.1" rx="2.1" ry="1.1" transform="rotate(46 70.2 55.1)" fill="#c80000"/><ellipse cx="76.3" cy="68.2" rx="1.3" ry="0.7" transform="rotate(20 76.3 68.2)" fill="#ff2020"/><ellipse cx="68.2" cy="64.9" rx="1.9" ry="1.0" transform="rotate(48 68.2 64.9)" fill="#e00000"/><ellipse cx="65.6" cy="63.4" rx="1.7" ry="0.9" transform="rotate(26 65.6 63.4)" fill="#ff1010"/><ellipse cx="71.5" cy="72.5" rx="2.1" ry="1.1" transform="rotate(160 71.5 72.5)" fill="#ff2020"/><ellipse cx="76.3" cy="71.8" rx="2.1" ry="1.1" transform="rotate(114 76.3 71.8)" fill="#c80000"/><ellipse cx="68.6" cy="72.4" rx="1.2" ry="0.7" transform="rotate(125 68.6 72.4)" fill="#c80000"/><ellipse cx="74.8" cy="71.0" rx="2.2" ry="1.2" transform="rotate(86 74.8 71.0)" fill="#ff2020"/><ellipse cx="67.3" cy="69.0" rx="1.7" ry="0.9" transform="rotate(46 67.3 69.0)" fill="#e00000"/><ellipse cx="67.2" cy="67.8" rx="1.1" ry="0.6" transform="rotate(149 67.2 67.8)" fill="#ff2020"/><ellipse cx="75.1" cy="75.6" rx="1.2" ry="0.6" transform="rotate(164 75.1 75.6)" fill="#c80000"/><ellipse cx="66.1" cy="73.7" rx="1.7" ry="0.9" transform="rotate(34 66.1 73.7)" fill="#c80000"/><ellipse cx="75.1" cy="74.4" rx="1.3" ry="0.7" transform="rotate(11 75.1 74.4)" fill="#ff1010"/><ellipse cx="70.2" cy="68.4" rx="2.0" ry="1.0" transform="rotate(124 70.2 68.4)" fill="#c80000"/><ellipse cx="66.6" cy="65.1" rx="2.2" ry="1.2" transform="rotate(39 66.6 65.1)" fill="#c80000"/><ellipse cx="68.1" cy="73.5" rx="2.1" ry="1.1" transform="rotate(115 68.1 73.5)" fill="#ff0a0a"/><ellipse cx="65.0" cy="65.5" rx="2.2" ry="1.2" transform="rotate(8 65.0 65.5)" fill="#c80000"/><ellipse cx="64.9" cy="68.0" rx="2.2" ry="1.2" transform="rotate(110 64.9 68.0)" fill="#ff1010"/><ellipse cx="68.5" cy="63.6" rx="1.7" ry="0.9" transform="rotate(140 68.5 63.6)" fill="#ff2020"/><ellipse cx="72.7" cy="69.6" rx="1.8" ry="1.0" transform="rotate(28 72.7 69.6)" fill="#c80000"/><ellipse cx="70.9" cy="76.4" rx="1.7" ry="0.9" transform="rotate(103 70.9 76.4)" fill="#ff1010"/><ellipse cx="71.5" cy="71.8" rx="1.6" ry="0.9" transform="rotate(152 71.5 71.8)" fill="#ff1010"/><ellipse cx="75.4" cy="69.2" rx="2.1" ry="1.1" transform="rotate(40 75.4 69.2)" fill="#ff0a0a"/><ellipse cx="66.2" cy="72.6" rx="1.3" ry="0.7" transform="rotate(150 66.2 72.6)" fill="#ff0a0a"/><ellipse cx="68.4" cy="74.7" rx="1.0" ry="0.5" transform="rotate(115 68.4 74.7)" fill="#ff2020"/><ellipse cx="73.7" cy="68.6" rx="1.3" ry="0.7" transform="rotate(179 73.7 68.6)" fill="#ff0a0a"/><ellipse cx="74.9" cy="71.6" rx="1.1" ry="0.6" transform="rotate(1 74.9 71.6)" fill="#ff2020"/><ellipse cx="71.9" cy="68.6" rx="1.4" ry="0.8" transform="rotate(124 71.9 68.6)" fill="#c80000"/><ellipse cx="71.1" cy="64.7" rx="1.3" ry="0.7" transform="rotate(28 71.1 64.7)" fill="#e00000"/><ellipse cx="71.5" cy="69.8" rx="1.2" ry="0.7" transform="rotate(23 71.5 69.8)" fill="#e00000"/><ellipse cx="69.8" cy="72.3" rx="2.1" ry="1.1" transform="rotate(160 69.8 72.3)" fill="#e00000"/><ellipse cx="74.6" cy="68.9" rx="2.1" ry="1.1" transform="rotate(12 74.6 68.9)" fill="#e00000"/><ellipse cx="71.6" cy="69.2" rx="1.1" ry="0.6" transform="rotate(179 71.6 69.2)" fill="#ff1010"/><ellipse cx="74.3" cy="72.0" rx="2.2" ry="1.2" transform="rotate(127 74.3 72.0)" fill="#ff0a0a"/><ellipse cx="67.9" cy="66.5" rx="2.0" ry="1.1" transform="rotate(164 67.9 66.5)" fill="#ff1010"/><ellipse cx="74.4" cy="72.0" rx="1.6" ry="0.8" transform="rotate(17 74.4 72.0)" fill="#ff0a0a"/><ellipse cx="72.0" cy="70.3" rx="1.7" ry="0.9" transform="rotate(155 72.0 70.3)" fill="#ff2020"/><ellipse cx="69.0" cy="65.7" rx="1.1" ry="0.6" transform="rotate(114 69.0 65.7)" fill="#ff1010"/><ellipse cx="68.4" cy="73.8" rx="2.0" ry="1.1" transform="rotate(134 68.4 73.8)" fill="#e00000"/><ellipse cx="71.9" cy="66.2" rx="1.2" ry="0.7" transform="rotate(75 71.9 66.2)" fill="#e00000"/><ellipse cx="70.4" cy="65.6" rx="1.4" ry="0.7" transform="rotate(71 70.4 65.6)" fill="#ff1010"/><ellipse cx="76.3" cy="75.2" rx="1.2" ry="0.6" transform="rotate(106 76.3 75.2)" fill="#ff0a0a"/><ellipse cx="65.8" cy="72.9" rx="1.1" ry="0.6" transform="rotate(108 65.8 72.9)" fill="#c80000"/><ellipse cx="74.2" cy="73.8" rx="1.6" ry="0.8" transform="rotate(59 74.2 73.8)" fill="#e00000"/><ellipse cx="68.9" cy="70.7" rx="1.3" ry="0.7" transform="rotate(29 68.9 70.7)" fill="#c80000"/><ellipse cx="68.6" cy="70.6" rx="1.1" ry="0.6" transform="rotate(15 68.6 70.6)" fill="#e00000"/><ellipse cx="68.7" cy="69.6" rx="2.2" ry="1.2" transform="rotate(119 68.7 69.6)" fill="#ff0a0a"/><ellipse cx="68.5" cy="74.9" rx="1.5" ry="0.8" transform="rotate(157 68.5 74.9)" fill="#ff0a0a"/><ellipse cx="75.3" cy="71.0" rx="1.5" ry="0.8" transform="rotate(73 75.3 71.0)" fill="#ff1010"/><ellipse cx="14.2" cy="59.5" rx="1.6" ry="0.9" transform="rotate(58 14.2 59.5)" fill="#ff0a0a"/><ellipse cx="16.5" cy="60.2" rx="2.0" ry="1.0" transform="rotate(129 16.5 60.2)" fill="#ff1010"/><ellipse cx="14.2" cy="64.1" rx="1.1" ry="0.6" transform="rotate(140 14.2 64.1)" fill="#e00000"/><ellipse cx="16.2" cy="61.5" rx="0.9" ry="0.5" transform="rotate(159 16.2 61.5)" fill="#e00000"/><ellipse cx="13.6" cy="61.2" rx="1.1" ry="0.6" transform="rotate(169 13.6 61.2)" fill="#ff1010"/><ellipse cx="17.3" cy="59.3" rx="1.5" ry="0.8" transform="rotate(47 17.3 59.3)" fill="#ff2020"/><ellipse cx="15.2" cy="58.7" rx="1.6" ry="0.8" transform="rotate(176 15.2 58.7)" fill="#e00000"/><ellipse cx="13.7" cy="59.5" rx="1.7" ry="0.9" transform="rotate(170 13.7 59.5)" fill="#ff0a0a"/><ellipse cx="14.8" cy="63.2" rx="1.5" ry="0.8" transform="rotate(15 14.8 63.2)" fill="#ff0a0a"/><ellipse cx="15.3" cy="59.7" rx="2.0" ry="1.0" transform="rotate(92 15.3 59.7)" fill="#ff2020"/><ellipse cx="15.9" cy="60.2" rx="1.3" ry="0.7" transform="rotate(138 15.9 60.2)" fill="#ff2020"/><ellipse cx="18.5" cy="62.4" rx="1.7" ry="0.9" transform="rotate(28 18.5 62.4)" fill="#e00000"/><ellipse cx="12.7" cy="57.0" rx="1.3" ry="0.7" transform="rotate(147 12.7 57.0)" fill="#e00000"/><ellipse cx="13.1" cy="58.3" rx="1.1" ry="0.6" transform="rotate(39 13.1 58.3)" fill="#c80000"/><ellipse cx="15.7" cy="60.2" rx="1.6" ry="0.8" transform="rotate(65 15.7 60.2)" fill="#ff0a0a"/><ellipse cx="18.4" cy="62.5" rx="2.2" ry="1.2" transform="rotate(15 18.4 62.5)" fill="#ff0a0a"/><ellipse cx="17.9" cy="60.0" rx="1.9" ry="1.0" transform="rotate(45 17.9 60.0)" fill="#ff0a0a"/><ellipse cx="15.2" cy="63.2" rx="1.1" ry="0.6" transform="rotate(29 15.2 63.2)" fill="#ff2020"/><ellipse cx="17.6" cy="55.9" rx="1.5" ry="0.8" transform="rotate(43 17.6 55.9)" fill="#c80000"/><ellipse cx="18.5" cy="64.5" rx="0.9" ry="0.5" transform="rotate(58 18.5 64.5)" fill="#e00000"/><ellipse cx="17.4" cy="55.7" rx="1.5" ry="0.8" transform="rotate(5 17.4 55.7)" fill="#c80000"/><ellipse cx="17.5" cy="61.8" rx="1.2" ry="0.6" transform="rotate(68 17.5 61.8)" fill="#ff2020"/></g><ellipse cx="50" cy="55" rx="5" ry="4" fill="#180000" opacity="0.85" filter="url(#blur1)"/></g>
<g id="grnImg"><rect width="107" height="106" fill="#000c00"/><g filter="url(#blur4)"><ellipse cx="8" cy="12" rx="16" ry="22" fill="#106010" transform="rotate(40 8 12)"/><ellipse cx="15" cy="98" rx="24" ry="14" fill="#0c500c"/><ellipse cx="55" cy="55" rx="32" ry="36" fill="#062806"/></g><g filter="url(#tex2)"><g filter="url(#blur4)"><ellipse cx="8" cy="12" rx="16" ry="24" fill="#30d030" transform="rotate(40 8 12)"/><ellipse cx="15" cy="98" rx="24" ry="14" fill="#28b028"/><ellipse cx="55" cy="52" rx="26" ry="30" fill="#0a300a"/><ellipse cx="46" cy="18" rx="8" ry="16" fill="#1a701a" transform="rotate(-35 46 18)"/><ellipse cx="62" cy="88" rx="8" ry="12" fill="#145014" transform="rotate(-20 62 88)"/></g></g><path d="M30.0,56.3 q1.5,3.2 0.9,8.5 M28.1,46.6 q0.9,1.1 -0.2,4.1 M30.1,19.6 q2.0,0.5 2.1,2.9 M79.6,69.6 q4.5,-0.5 7.1,0.9 M98.3,41.6 q-0.2,2.2 -2.5,6.5 M53.7,51.2 q4.0,-0.4 6.1,1.1 M56.9,63.2 q1.2,0.6 0.4,3.2 M19.8,63.4 q-0.3,1.8 -2.6,5.5 M25.5,48.0 q2.8,1.2 3.7,4.4 M111.4,46.9 q-1.4,2.2 -4.9,6.4 M46.8,62.6 q3.3,-0.5 4.6,1.0 M53.9,25.9 q2.4,2.8 2.8,7.6 M85.7,36.9 q2.2,-0.1 2.4,1.8 M69.1,34.8 q2.4,3.2 2.8,8.4 M74.7,61.7 q3.5,1.9 5.1,5.8 M65.8,58.3 q-2.2,2.0 -6.4,6.1 M62.0,59.2 q2.8,-0.7 3.5,0.7 M55.3,34.8 q1.5,2.1 1.0,6.3 M62.6,81.2 q0.2,0.7 -1.7,3.4 M66.0,63.4 q2.4,0.6 2.8,3.2 M83.9,40.8 q-1.3,-0.1 -4.5,1.7 M56.4,69.4 q-0.8,2.7 -3.5,7.3 M95.8,87.1 q2.5,0.6 2.9,3.1 M54.3,28.5 q3.3,-0.5 4.7,1.1 M72.1,63.6 q0.3,1.1 -1.4,4.2 M38.3,65.4 q1.2,3.4 0.4,8.7 M19.8,28.1 q2.8,-0.0 3.6,1.9 M79.9,25.9 q2.9,0.3 3.7,2.5 M49.2,-4.1 q-1.1,-0.7 -4.1,0.7 M70.1,27.8 q3.6,-0.1 5.2,1.8 M96.8,61.6 q-0.3,0.8 -2.7,3.5 M50.5,88.9 q3.0,1.6 4.0,5.2 M65.0,79.3 q2.3,0.1 2.6,2.2 M19.2,32.3 q3.1,1.6 4.3,5.2 M62.6,40.6 q2.0,0.2 2.1,2.3 M46.0,50.6 q1.8,0.9 1.6,3.7 M43.4,42.9 q-1.4,-0.1 -4.9,1.7 M78.1,44.1 q0.1,2.4 -1.9,6.9 M55.1,52.5 q-0.5,-0.6 -3.0,0.9 M38.0,-5.8 q0.4,0.4 -1.3,2.8 M23.0,52.0 q-1.5,-1.0 -4.9,0.0 M72.1,60.6 q-2.5,0.1 -7.1,2.3 M49.7,13.8 q-2.7,0.0 -7.5,2.0 M35.7,74.8 q-2.9,0.7 -7.7,3.3 M24.4,67.3 q0.1,3.0 -1.9,8.0 M39.5,32.7 q-0.1,2.1 -2.2,6.1 M74.5,63.2 q-3.2,0.7 -8.3,3.3 M49.6,26.4 q0.1,2.6 -1.9,7.2 M20.0,63.3 q-0.2,0.2 -2.5,2.5 M76.0,53.6 q3.2,0.9 4.4,3.9 M45.3,23.5 q-2.2,-0.2 -6.5,1.7 M51.9,51.3 q-0.3,1.0 -2.6,4.1 M55.2,60.8 q-1.0,2.7 -4.1,7.4 M16.5,64.6 q-0.2,1.2 -2.5,4.3 M58.1,70.1 q-2.8,0.0 -7.6,2.1 M64.9,33.2 q2.8,1.7 3.5,5.4 M65.8,67.5 q-2.6,0.8 -7.1,3.7 M41.4,-4.3 q3.0,0.2 4.0,2.4 M38.2,53.4 q1.6,1.1 1.1,4.1 M37.2,29.8 q-1.1,0.2 -4.3,2.4 M71.6,45.3 q2.7,-0.8 3.4,0.3 M55.7,43.4 q0.2,2.5 -1.6,7.1 M40.4,84.3 q2.4,-0.4 2.8,1.3 M48.1,49.4 q3.9,1.7 5.9,5.4 M55.5,53.3 q1.6,2.3 1.1,6.7 M34.0,24.6 q-2.9,-0.5 -7.8,1.0 M47.2,34.6 q3.5,0.6 5.0,3.1 M72.3,49.7 q4.1,0.9 6.2,3.9 M49.7,68.1 q0.8,2.6 -0.5,7.2 M29.2,23.7 q-1.1,0.6 -4.3,3.3 M58.4,42.8 q-1.8,2.3 -5.5,6.6 M65.6,65.6 q-2.2,-0.1 -6.5,1.9 M35.3,67.9 q-2.3,1.5 -6.6,4.9 M70.9,39.6 q3.8,1.1 5.5,4.1 M46.2,8.0 q-1.2,1.7 -4.3,5.3 M60.8,94.0 q-3.4,-0.7 -8.9,0.6 M21.0,39.0 q-1.4,-0.3 -4.7,1.4 M62.3,32.0 q1.3,0.7 0.6,3.4 M22.7,36.3 q4.0,-0.7 5.9,0.5 M54.4,40.5 q4.3,1.0 6.7,4.0 M35.9,81.3 q2.7,-0.1 3.4,1.7 M23.3,44.3 q-1.3,2.3 -4.5,6.7 M71.8,39.4 q5.2,0.2 8.4,2.3 M55.9,74.5 q-0.6,0.8 -3.1,3.6 M37.9,27.5 q0.2,3.0 -1.5,7.9 M45.3,68.0 q-2.8,0.2 -7.7,2.5 M61.1,89.4 q0.7,3.4 -0.7,8.8 M41.2,41.5 q1.0,2.1 -0.1,6.2 M48.6,44.8 q0.8,3.4 -0.4,8.8 M25.8,71.1 q1.1,2.2 0.2,6.4" stroke="#2aa02a" stroke-width="0.45" opacity="0.55" fill="none"/><g fill="#30f030" filter="url(#blur05)"><circle cx="38.7" cy="47.7" r="3.4"/><circle cx="43.7" cy="44.1" r="2.6"/><circle cx="53.7" cy="42.7" r="1.9"/><circle cx="54.4" cy="47" r="2.1"/><circle cx="50.1" cy="49" r="1.7"/><circle cx="38.7" cy="64" r="3"/><circle cx="46.5" cy="62.6" r="2"/><circle cx="50.1" cy="66.9" r="1.9"/><circle cx="57.2" cy="63.3" r="1.9"/><circle cx="60" cy="60" r="1.6"/><circle cx="31.6" cy="63.3" r="1.4"/><circle cx="75" cy="28.5" r="1.7"/><circle cx="90" cy="59" r="1.7"/><circle cx="84.2" cy="76" r="1.6"/><circle cx="89.2" cy="74" r="1.5"/><circle cx="41.5" cy="63.5" r="2.4"/><circle cx="36" cy="50" r="1.9"/></g></g>
</defs>
<defs><filter id="noiseA" x="0" y="0" width="100%" height="100%"><feTurbulence type="fractalNoise" baseFrequency="0.9" numOctaves="1" seed="4"/><feColorMatrix type="matrix" values="0 0 0 0 1 0 0 0 0 1 0 0 0 0 1 0 0 0 2.2 -1.1"/><feComposite in="SourceGraphic" operator="in"/></filter>
<clipPath id="ic"><rect width="107" height="106"/></clipPath></defs>
<g transform="translate(302.6,592.1)" clip-path="url(#ic)"><use href="#redImg"/></g>
<g transform="translate(410.6,592.1)" clip-path="url(#ic)"><use href="#grnImg"/></g>
<g transform="translate(519.3,592.1)" clip-path="url(#ic)" style="isolation:isolate"><use href="#redImg"/><g style="mix-blend-mode:screen"><use href="#grnImg"/></g></g>
<rect x="310.7" y="596.4" width="41.3" height="19.2" fill="#fff"/>
<text x="312.5" y="604.2" font-size="6" font-weight="bold" textLength="33" lengthAdjust="spacingAndGlyphs" fill="#f00">NTRmCherr</text>
<text x="312.5" y="611.5" font-size="6" font-weight="bold" fill="#f00">y</text>
<rect x="416.3" y="597.8" width="15" height="8.5" fill="#fff"/>
<text x="418" y="604.2" font-size="5.5" font-weight="bold" fill="#20c020">GFP</text>
<rect x="522.8" y="597.8" width="29.8" height="9.4" fill="#fff"/>
<text x="525" y="604.8" font-size="6" font-weight="bold" textLength="24" lengthAdjust="spacingAndGlyphs" fill="#000">Merged</text>
<line x1="390.4" y1="688.6" x2="404.4" y2="688.6" stroke="#fff" stroke-width="1.6"/>
<text x="397.7" y="696.7" font-size="5.8" text-anchor="middle" font-weight="bold" textLength="19" lengthAdjust="spacingAndGlyphs" fill="#fff">50 µm</text>
<line x1="498.4" y1="688.6" x2="512.4" y2="688.6" stroke="#fff" stroke-width="1.6"/>
<text x="505.7" y="696.7" font-size="5.8" text-anchor="middle" font-weight="bold" textLength="19" lengthAdjust="spacingAndGlyphs" fill="#fff">50 µm</text>
<line x1="607.1" y1="688.6" x2="621.1" y2="688.6" stroke="#fff" stroke-width="1.6"/>
<text x="614.4" y="696.7" font-size="5.8" text-anchor="middle" font-weight="bold" textLength="19" lengthAdjust="spacingAndGlyphs" fill="#fff">50 µm</text>
<circle cx="662.1" cy="665.9" r="19.8" fill="#fff" stroke="#000" stroke-width="1.1"/>
<path d="M649.2,652.2 Q661.9,661.8 674.5,652.2" fill="none" stroke="#000" stroke-width="1.1"/>
<circle cx="664.3000000000001" cy="649.5999999999999" r="2.6" fill="#ff4040" filter="url(#blur1)"/>
<polygon points="664.6,648.8 688.8,614.8 683.4,611.4" fill="#fff" stroke="#000" stroke-width="1.1" stroke-linejoin="miter"/>
<polygon points="664.6,648.8 679.8,626.8 677.0,625.1" fill="#e00000"/>
<polyline points="684.0,631.5 684.2,632.3 684.4,633.0 684.6,633.7 684.8,634.2 685.2,634.6 685.5,634.8 686.0,634.9 686.4,634.8 687.0,634.5 687.6,634.1 688.2,633.7 688.8,633.2 689.4,632.7 690.0,632.3 690.6,631.9 691.2,631.6 691.6,631.5 692.1,631.6 692.4,631.8 692.8,632.2 693.0,632.7 693.2,633.4 693.4,634.1 693.6,634.9 693.8,635.7 694.0,636.4 694.2,637.1 694.4,637.6 694.8,638.0 695.1,638.2 695.6,638.3 696.0,638.2 696.6,637.9 697.2,637.5 697.8,637.1 698.4,636.6 699.0,636.1 699.6,635.7 700.2,635.3 700.8,635.0 701.2,634.9 701.7,635.0 702.0,635.2 702.4,635.6 702.6,636.1 702.8,636.8 703.0,637.5 703.2,638.3 703.4,639.1 703.6,639.8 703.8,640.5 704.0,641.0 704.4,641.4 704.7,641.6 705.2,641.7 705.6,641.6 706.2,641.3 706.8,640.9 707.4,640.5 708.0,640.0" fill="none" stroke="#000" stroke-width="2.2" stroke-linecap="round"/>
<polyline points="747.0,654.0 747.0,654.8 747.1,655.6 747.2,656.3 747.4,656.9 747.7,657.3 748.0,657.6 748.5,657.8 749.0,657.8 749.6,657.7 750.3,657.5 751.0,657.1 751.7,656.8 752.4,656.5 753.1,656.1 753.8,655.9 754.4,655.8 754.9,655.8 755.4,656.0 755.7,656.3 756.0,656.7 756.2,657.3 756.3,658.0 756.4,658.8 756.4,659.6 756.4,660.4 756.5,661.2 756.6,661.9 756.8,662.5 757.1,662.9 757.4,663.2 757.9,663.4 758.4,663.4 759.0,663.3 759.7,663.1 760.4,662.7 761.1,662.4 761.8,662.1 762.5,661.7 763.2,661.5 763.8,661.4 764.3,661.4 764.8,661.6 765.1,661.9 765.4,662.3 765.6,662.9 765.7,663.6 765.8,664.4 765.8,665.2 765.8,666.0 765.9,666.8 766.0,667.5 766.2,668.1 766.5,668.5 766.8,668.8 767.3,669.0 767.8,669.0 768.4,668.9 769.1,668.7 769.8,668.3 770.5,668.0" fill="none" stroke="#000" stroke-width="2.2" stroke-linecap="round"/>
<polygon points="710.5,632.1 739.1,642.9 746.7,654.3 733.4,657.5 706,645.4" fill="#d9b3e3" stroke="#000" stroke-width="2"/>
<text transform="translate(723,648.5) rotate(23)" font-size="9.5" font-weight="bold" text-anchor="middle" textLength="21" lengthAdjust="spacingAndGlyphs">Tol2</text>
<text x="640" y="697.5" font-size="9.5" font-weight="bold" font-style="italic" textLength="136.6" lengthAdjust="spacingAndGlyphs" fill="#000">Tg[th1-gal4, uas-NTRmCherry]</text>
<text x="14" y="726.6" font-size="14.5" font-weight="bold" fill="#000">D</text>
<text x="124.5" y="726.6" font-size="10.5" text-anchor="middle" font-weight="bold" textLength="53.5" lengthAdjust="spacingAndGlyphs" fill="#000">Before MTZ</text>
<text x="250" y="726.6" font-size="10.5" text-anchor="middle" font-weight="bold" textLength="46" lengthAdjust="spacingAndGlyphs" fill="#000">After MTZ</text>
<text transform="translate(54.3,794) rotate(-90)" font-size="9" text-anchor="middle" fill="#222" textLength="94" lengthAdjust="spacingAndGlyphs">AGTR1 scrambled sgRNA</text>
<text transform="translate(54.3,918.6) rotate(-90)" font-size="9" text-anchor="middle" fill="#222" textLength="97" lengthAdjust="spacingAndGlyphs">AGTR1a + AGTR1b sgRNA</text>
<defs><clipPath id="dc"><rect width="125" height="125"/></clipPath><filter id="dtex" x="-60%" y="-60%" width="220%" height="220%"><feTurbulence type="fractalNoise" baseFrequency="0.22" numOctaves="2" seed="12" result="n"/><feColorMatrix in="n" type="matrix" values="0 0 0 0 1 0 0 0 0 1 0 0 0 0 1 1.8 0 0 0 -0.45" result="m"/><feGaussianBlur in="m" stdDeviation="0.9" result="mb"/><feComposite in="SourceGraphic" in2="mb" operator="in"/></filter><filter id="gl" x="-100%" y="-100%" width="300%" height="300%"><feGaussianBlur stdDeviation="0.9" result="b"/><feGaussianBlur in="SourceGraphic" stdDeviation="2.5" result="c"/><feMerge><feMergeNode in="c"/><feMergeNode in="b"/></feMerge></filter></defs>
<g transform="translate(60.5,731.7)" clip-path="url(#dc)"><rect width="125" height="125" fill="#050101"/><g filter="url(#blur8)"><ellipse cx="45" cy="5" rx="70" ry="20" fill="#1e0604"/><ellipse cx="25" cy="115" rx="40" ry="20" fill="#1e0604"/><ellipse cx="110" cy="45" rx="22" ry="40" fill="#140403"/><ellipse cx="32" cy="58" rx="12" ry="20" fill="#0c1a06"/><ellipse cx="62" cy="66" rx="18" ry="14" fill="#180c04"/></g><g filter="url(#dtex)"><g filter="url(#blur4)"><ellipse cx="45" cy="6" rx="70" ry="16" fill="#501408"/><ellipse cx="25" cy="115" rx="42" ry="17" fill="#501408"/><ellipse cx="115" cy="40" rx="14" ry="30" fill="#2a0a06"/></g></g><g filter="url(#blur4)"><ellipse cx="60" cy="55" rx="10" ry="6" fill="#6a2a06"/><ellipse cx="63" cy="76" rx="10" ry="5" fill="#5a3008"/><ellipse cx="30" cy="46" rx="6" ry="5" fill="#1a5010"/><ellipse cx="28" cy="68" rx="6" ry="5" fill="#1a5010"/></g><g fill="#30d020" filter="url(#gl)"><circle cx="30" cy="45.2" r="3.2"/><circle cx="28" cy="68.3" r="3.6"/><circle cx="84.7" cy="35" r="2.2"/><circle cx="72.1" cy="43.8" r="1.3"/><circle cx="74.6" cy="46" r="1.2"/><circle cx="77.5" cy="55.6" r="1.3"/><circle cx="85.5" cy="61.5" r="1.2"/><circle cx="108.1" cy="58.5" r="1"/><circle cx="106.5" cy="40.9" r="1.2"/><circle cx="78" cy="99.5" r="1.8"/><circle cx="86" cy="38" r="1.4"/><circle cx="33" cy="50" r="1.2"/><circle cx="25" cy="48" r="1"/></g><g fill="#ff7010" filter="url(#gl)"><circle cx="40.8" cy="51.4" r="1.8"/><circle cx="16.8" cy="47.3" r="1.3"/><circle cx="34.6" cy="56.3" r="1.4"/><circle cx="21" cy="68.7" r="1.3"/><circle cx="17.3" cy="72" r="1.3"/><circle cx="67.9" cy="58.5" r="2.2"/><circle cx="62.4" cy="73.6" r="1.5"/><circle cx="64.1" cy="79.5" r="1.6"/><circle cx="93.9" cy="63.6" r="1.2"/><circle cx="89.7" cy="78.6" r="1.2"/><circle cx="101.2" cy="96.3" r="1.3"/><circle cx="54" cy="78" r="1.8"/><circle cx="58" cy="80" r="1.6"/><circle cx="66" cy="76" r="1.5"/><circle cx="70" cy="74" r="1.2"/></g><g fill="#ff5008" filter="url(#gl)"><circle cx="53" cy="54" r="2.2"/><circle cx="57" cy="53" r="2"/><circle cx="61" cy="55" r="2"/><circle cx="56" cy="57" r="1.6"/><circle cx="63" cy="52" r="1.4"/><circle cx="59" cy="50" r="1.2"/></g><g fill="#f8e030" filter="url(#gl)"><circle cx="30" cy="45" r="1.4"/><circle cx="25.9" cy="72" r="1.3"/><circle cx="63.3" cy="51" r="1.4"/><circle cx="71.7" cy="74" r="1.3"/><circle cx="60" cy="77" r="1.5"/><circle cx="66" cy="53" r="1.2"/><circle cx="73" cy="72" r="1.1"/></g><path d="M8.3,17.5 Q42.7,46.3 77.9,19.1" fill="none" stroke="#fff" stroke-width="1.5"/><path d="M6.7,95.5 Q50,93 70.7,121.9" fill="none" stroke="#fff" stroke-width="1.5"/><text x="49.9" y="25.8" font-size="7.5" font-weight="bold" fill="#fff" text-anchor="middle" textLength="11" lengthAdjust="spacingAndGlyphs">Eye</text><text x="20.3" y="117.9" font-size="7.5" font-weight="bold" fill="#fff" text-anchor="middle" textLength="11" lengthAdjust="spacingAndGlyphs">Eye</text><polygon points="19.3,34 25.1,30.7 26.3,39" fill="#fff"/><polygon points="44.5,44.4 49.1,40.6 51.1,49.3" fill="#fff"/><polygon points="59.5,40.5 65.4,42.6 61.2,48.9" fill="#fff"/><polygon points="35.4,59.2 39.6,65.8 33.8,67.9" fill="#fff"/><polygon points="6.7,73.9 15.5,73.9 9.9,79.5" fill="#fff"/><polygon points="76.3,61 82.6,64.4 75.9,69.4" fill="#fff"/><polygon points="89.3,65.7 95.6,68.2 90.1,74.5" fill="#fff"/><polygon points="57.1,85.6 61.1,92.3 55.2,93.9" fill="#fff"/><polygon points="89.2,87.5 94,83.5 96.4,92.3" fill="#fff"/><text x="65.5" y="11.4" font-size="8.2" fill="#fff" text-anchor="middle" textLength="110" lengthAdjust="spacingAndGlyphs">TH and Cas9-GFP colocalized</text><line x1="102" y1="113.9" x2="120.4" y2="113.9" stroke="#fff" stroke-width="1.8"/><text x="111.6" y="122" font-size="7.2" font-weight="bold" fill="#fff" text-anchor="middle" textLength="20.5" lengthAdjust="spacingAndGlyphs">50 µm</text></g>
<g transform="translate(187.7,731.7)" clip-path="url(#dc)"><rect width="125" height="125" fill="#030101"/><g filter="url(#blur8)"><ellipse cx="30" cy="10" rx="45" ry="22" fill="#1a0604"/><ellipse cx="25" cy="112" rx="40" ry="20" fill="#1e0604"/><ellipse cx="26" cy="55" rx="18" ry="22" fill="#0c2008"/><ellipse cx="50" cy="70" rx="20" ry="25" fill="#0c0803"/></g><g filter="url(#dtex)"><g filter="url(#blur4)"><ellipse cx="30" cy="10" rx="45" ry="18" fill="#4a1208"/><ellipse cx="28" cy="113" rx="42" ry="17" fill="#4a1208"/></g></g><g filter="url(#blur4)"><ellipse cx="26" cy="47" rx="10" ry="8" fill="#1a4a10"/></g><g fill="#30c020" filter="url(#gl)"><circle cx="27.9" cy="46.1" r="0.9"/><circle cx="25.1" cy="44.3" r="0.7"/><circle cx="26.8" cy="51.9" r="0.7"/><circle cx="25.7" cy="40.9" r="0.7"/><circle cx="21.8" cy="45.2" r="0.9"/><circle cx="27.8" cy="46.0" r="0.6"/><circle cx="29.8" cy="44.7" r="0.8"/><circle cx="24.2" cy="48.9" r="1.4"/><circle cx="26.7" cy="48.4" r="1.1"/><circle cx="16.5" cy="43.5" r="1.3"/><circle cx="24.3" cy="47.9" r="1.3"/><circle cx="27.0" cy="45.9" r="1.2"/><circle cx="29.9" cy="42.3" r="0.8"/><circle cx="27.9" cy="40.6" r="0.8"/></g><g fill="#30d020" filter="url(#gl)"><circle cx="22.5" cy="42.8" r="1.8"/><circle cx="24.3" cy="66.3" r="1.6"/><circle cx="23.4" cy="67.2" r="1.8"/><circle cx="19.8" cy="73.9" r="1.6"/><circle cx="75.6" cy="33.1" r="1.6"/><circle cx="67.7" cy="99.3" r="1.4"/><circle cx="67.4" cy="99.2" r="1.2"/></g><g fill="#ff2808" filter="url(#gl)"><circle cx="5.6" cy="52.6" r="1.4"/><circle cx="39.9" cy="51.7" r="1.8"/><circle cx="47" cy="54.3" r="1.6"/><circle cx="59" cy="56.6" r="1.5"/><circle cx="62.5" cy="60.1" r="1.8"/><circle cx="63.9" cy="51.7" r="1.3"/><circle cx="32.3" cy="49.9" r="1.1"/><circle cx="51.9" cy="80.5" r="2"/><circle cx="59.9" cy="85.4" r="2.2"/><circle cx="62.5" cy="60.5" r="1.5"/></g><g fill="#ff9010" filter="url(#gl)"><circle cx="24.3" cy="53.9" r="1.4"/><circle cx="16.3" cy="69" r="1.6"/></g><path d="M15.4,28.5 Q35.9,41 55.4,30.3" fill="none" stroke="#fff" stroke-width="1.5"/><path d="M5.6,96.1 Q48,95 68.5,119.7" fill="none" stroke="#fff" stroke-width="1.5"/><text x="23" y="118.3" font-size="7.5" font-weight="bold" fill="#fff" text-anchor="middle" textLength="11" lengthAdjust="spacingAndGlyphs">Eye</text><polygon points="25.2,58.3 29.2,63.2 23.4,64.1" fill="#fff"/><polygon points="4.7,73.9 12.3,70.8 8.3,77.9" fill="#fff"/><text x="121.3" y="10.2" font-size="8.2" fill="#e01010" text-anchor="end" textLength="67" lengthAdjust="spacingAndGlyphs">TH1 NTRmCherry</text><text x="121.3" y="21.9" font-size="8.2" fill="#10b030" text-anchor="end" textLength="95.5" lengthAdjust="spacingAndGlyphs">U6-sgRNA; UAS-Cas9-GFP</text></g>
<g transform="translate(60.5,862.6)" clip-path="url(#dc)"><rect width="125" height="125" fill="#060202"/><g filter="url(#blur8)"><ellipse cx="100" cy="10" rx="40" ry="18" fill="#140503"/><ellipse cx="55" cy="55" rx="34" ry="24" fill="#4a5c12"/><ellipse cx="92" cy="62" rx="45" ry="9" fill="#3a5a16"/><ellipse cx="35" cy="80" rx="16" ry="20" fill="#102a08"/><ellipse cx="30" cy="108" rx="25" ry="18" fill="#0c1806"/><ellipse cx="95" cy="80" rx="30" ry="10" fill="#1e0a04"/></g><g filter="url(#blur4)"><ellipse cx="38" cy="66" rx="16" ry="13" fill="#4a6a18"/><ellipse cx="58" cy="60" rx="14" ry="7" fill="#6a5010"/></g><g fill="#40d828" filter="url(#gl)"><circle cx="28.3" cy="73.5" r="0.7"/><circle cx="36.6" cy="67.6" r="1.2"/><circle cx="26.4" cy="69.4" r="1.2"/><circle cx="23.3" cy="67.0" r="1.1"/><circle cx="33.9" cy="66.4" r="0.7"/><circle cx="35.7" cy="77.5" r="0.7"/><circle cx="27.1" cy="65.2" r="0.6"/><circle cx="31.3" cy="69.7" r="1.3"/><circle cx="32.9" cy="68.1" r="1.2"/><circle cx="30.7" cy="68.4" r="1.1"/><circle cx="38.9" cy="78.8" r="1.2"/><circle cx="32.6" cy="70.8" r="0.9"/><circle cx="26.0" cy="66.3" r="0.7"/><circle cx="38.4" cy="64.7" r="0.8"/><circle cx="35.5" cy="76.9" r="0.9"/><circle cx="28.0" cy="66.0" r="0.9"/><circle cx="33.7" cy="71.4" r="1.0"/><circle cx="30.3" cy="65.8" r="1.2"/><circle cx="21.0" cy="68.5" r="1.1"/><circle cx="29.8" cy="73.5" r="0.7"/><circle cx="40.7" cy="73.5" r="1.3"/><circle cx="31.0" cy="68.6" r="1.1"/><circle cx="38.3" cy="78.5" r="1.1"/><circle cx="31.0" cy="64.1" r="0.9"/><circle cx="38.4" cy="60.6" r="0.8"/><circle cx="23.5" cy="74.1" r="1.1"/><circle cx="26.4" cy="73.9" r="1.4"/><circle cx="30.4" cy="74.4" r="1.1"/><circle cx="29.2" cy="81.5" r="0.9"/><circle cx="35.3" cy="68.8" r="1.3"/><circle cx="31.1" cy="62.9" r="0.8"/><circle cx="31.6" cy="72.1" r="0.7"/><circle cx="30.1" cy="69.4" r="0.8"/><circle cx="28.4" cy="69.8" r="0.9"/><circle cx="32.0" cy="78.4" r="0.7"/><circle cx="37.8" cy="70.9" r="1.2"/><circle cx="25.4" cy="69.1" r="1.4"/><circle cx="38.3" cy="65.2" r="0.6"/><circle cx="20.9" cy="64.6" r="1.1"/><circle cx="23.8" cy="70.4" r="0.7"/></g><g fill="#30d820" filter="url(#gl)"><circle cx="112" cy="32.8" r="1.8"/><circle cx="100.8" cy="46" r="1.3"/><circle cx="89" cy="55.1" r="1.9"/><circle cx="71.3" cy="119.4" r="1.3"/><circle cx="33.3" cy="87.9" r="1.4"/><circle cx="2.6" cy="54.5" r="1.1"/><circle cx="6.6" cy="44.3" r="1"/><circle cx="75" cy="50" r="1.2"/><circle cx="33" cy="92" r="1.2"/><circle cx="36" cy="96" r="1.2"/></g><g fill="#f0e828" filter="url(#gl)"><circle cx="32.9" cy="52.7" r="2"/><circle cx="43.1" cy="55.4" r="2.5"/><circle cx="64.4" cy="62.1" r="3"/><circle cx="68.4" cy="66.5" r="2"/><circle cx="31.5" cy="67.4" r="2"/><circle cx="64.7" cy="61.7" r="2.2"/><circle cx="93.6" cy="70.9" r="1.4"/><circle cx="38" cy="60" r="1.6"/><circle cx="27" cy="62" r="1.4"/></g><g fill="#ff6010" filter="url(#gl)"><circle cx="52" cy="60.3" r="2.8"/><circle cx="25.3" cy="72.8" r="1.8"/><circle cx="52.9" cy="82.1" r="2.1"/><circle cx="108.7" cy="74.8" r="1.5"/><circle cx="102.8" cy="70.9" r="1.3"/><circle cx="23" cy="53" r="1.3"/><circle cx="22" cy="62" r="1.2"/><circle cx="29" cy="50" r="1.2"/><circle cx="45" cy="77" r="1.4"/><circle cx="68.7" cy="66.3" r="2"/></g><rect x="86.4" y="104.4" width="40" height="22" fill="#020101"/><path d="M0.5,13.5 A30.5,24.5 0 0 0 61.4,3.6" fill="none" stroke="#fff" stroke-width="1.5"/><path d="M2.5,96 Q40,92 52,122.6" fill="none" stroke="#fff" stroke-width="1.5"/><text x="16.5" y="15" font-size="7.5" font-weight="bold" fill="#fff" text-anchor="middle" textLength="11" lengthAdjust="spacingAndGlyphs">Eye</text><text x="15.2" y="114.5" font-size="7.5" font-weight="bold" fill="#fff" text-anchor="middle" textLength="11" lengthAdjust="spacingAndGlyphs">Eye</text><polygon points="14.2,43 20.4,39.9 20,48.3" fill="#fff"/><polygon points="28,41.2 34.6,40.3 32,48.7" fill="#fff"/><polygon points="60,44.3 66.2,47.4 59.5,52.3" fill="#fff"/><polygon points="8.4,68.3 16.8,70.1 10.2,74.5" fill="#fff"/><polygon points="13.3,80.8 21.7,77.7 17.3,85.2" fill="#fff"/><polygon points="38.2,64.3 41.3,71.4 35.1,71.4" fill="#fff"/><polygon points="46.2,71.9 52.4,67.4 51.1,75.4" fill="#fff"/><polygon points="67.1,69.2 68,77.2 61.8,75.9" fill="#fff"/></g>
<g transform="translate(188,862.6)" clip-path="url(#dc)"><rect width="125" height="125" fill="#060202"/><g filter="url(#blur8)"><ellipse cx="112" cy="12" rx="25" ry="15" fill="#1a0604"/><ellipse cx="58" cy="55" rx="35" ry="22" fill="#3c4a10"/><ellipse cx="92" cy="58" rx="40" ry="8" fill="#344e12"/><ellipse cx="35" cy="80" rx="16" ry="16" fill="#0e2206"/><ellipse cx="95" cy="75" rx="35" ry="10" fill="#220a04"/><ellipse cx="30" cy="110" rx="30" ry="14" fill="#0c1005"/></g><g filter="url(#blur4)"><ellipse cx="36" cy="68" rx="14" ry="14" fill="#3a5a14"/><ellipse cx="58" cy="60" rx="14" ry="6" fill="#5a4010"/></g><g fill="#40d828" filter="url(#gl)"><circle cx="33.3" cy="81.4" r="0.7"/><circle cx="34.9" cy="66.8" r="1.0"/><circle cx="38.4" cy="68.4" r="1.4"/><circle cx="32.1" cy="62.0" r="1.1"/><circle cx="28.1" cy="68.1" r="1.4"/><circle cx="18.8" cy="85.0" r="1.3"/><circle cx="37.6" cy="73.1" r="1.0"/><circle cx="34.5" cy="67.4" r="1.1"/><circle cx="25.9" cy="82.4" r="1.3"/><circle cx="33.3" cy="66.8" r="1.2"/><circle cx="22.4" cy="77.8" r="1.0"/><circle cx="47.6" cy="59.0" r="1.3"/><circle cx="38.1" cy="58.9" r="1.1"/><circle cx="41.0" cy="92.9" r="1.0"/><circle cx="39.4" cy="72.9" r="0.9"/><circle cx="37.6" cy="91.4" r="0.7"/><circle cx="39.2" cy="66.3" r="0.7"/><circle cx="28.9" cy="78.8" r="0.7"/><circle cx="33.7" cy="60.4" r="1.4"/><circle cx="38.1" cy="59.7" r="1.4"/><circle cx="40.8" cy="67.2" r="1.0"/><circle cx="22.1" cy="69.8" r="1.3"/><circle cx="38.6" cy="58.6" r="0.6"/><circle cx="30.7" cy="73.6" r="1.1"/><circle cx="26.3" cy="67.1" r="1.3"/><circle cx="34.5" cy="84.8" r="1.1"/><circle cx="36.8" cy="93.6" r="0.6"/><circle cx="25.7" cy="74.2" r="1.1"/><circle cx="40.5" cy="70.9" r="1.3"/><circle cx="31.1" cy="80.8" r="0.7"/><circle cx="29.0" cy="65.6" r="1.2"/><circle cx="38.1" cy="77.8" r="1.4"/><circle cx="41.8" cy="72.8" r="1.1"/><circle cx="31.8" cy="61.9" r="1.0"/><circle cx="37.7" cy="70.4" r="1.2"/><circle cx="28.3" cy="60.7" r="1.0"/><circle cx="43.3" cy="73.5" r="0.8"/><circle cx="36.6" cy="48.9" r="1.2"/><circle cx="23.3" cy="81.0" r="0.9"/><circle cx="29.7" cy="81.4" r="1.1"/></g><g fill="#30d820" filter="url(#gl)"><circle cx="35.9" cy="87.9" r="2.3"/><circle cx="2.6" cy="56.3" r="1.1"/><circle cx="5.2" cy="45.2" r="1"/><circle cx="110.8" cy="28.9" r="1.7"/><circle cx="101.7" cy="43.3" r="1.2"/><circle cx="90.5" cy="52.5" r="1.9"/><circle cx="85.9" cy="55.8" r="1.3"/><circle cx="101.7" cy="55.8" r="1.3"/><circle cx="60" cy="50" r="1.2"/></g><g fill="#ff5a10" filter="url(#gl)"><circle cx="33.2" cy="52.7" r="2.3"/><circle cx="52.4" cy="58.1" r="3.2"/><circle cx="65.3" cy="61.2" r="3.2"/><circle cx="54.1" cy="79.9" r="2"/><circle cx="26.6" cy="72.3" r="1.6"/><circle cx="42.1" cy="55" r="1.6"/><circle cx="110.8" cy="71.5" r="1.8"/><circle cx="107.6" cy="68.9" r="1.5"/><circle cx="82.6" cy="68.3" r="1.3"/><circle cx="124" cy="79.4" r="1.5"/><circle cx="113" cy="8" r="1"/><circle cx="116" cy="12" r="1"/><circle cx="119" cy="5" r="1"/></g><g fill="#f8e030" filter="url(#gl)"><circle cx="42.6" cy="60.3" r="1.8"/><circle cx="33.7" cy="67.9" r="2.2"/><circle cx="94.4" cy="68.3" r="1.4"/><circle cx="53" cy="59" r="1.5"/><circle cx="66" cy="62" r="1.5"/></g><rect x="83.9" y="103" width="42" height="23" fill="#020101"/><path d="M1.2,11.1 A31,25 0 0 0 63.1,3.6" fill="none" stroke="#fff" stroke-width="1.5"/><path d="M3.6,96 Q45,92 55.7,122.6" fill="none" stroke="#fff" stroke-width="1.5"/><text x="24.3" y="15" font-size="7.5" font-weight="bold" fill="#fff" text-anchor="middle" textLength="11" lengthAdjust="spacingAndGlyphs">Eye</text><text x="23.5" y="114.5" font-size="7.5" font-weight="bold" fill="#fff" text-anchor="middle" textLength="11" lengthAdjust="spacingAndGlyphs">Eye</text><polygon points="26.6,43 32.8,39.9 32.8,48.7" fill="#fff"/><polygon points="37.7,42.5 43.9,41.6 41.7,50.1" fill="#fff"/><polygon points="47.9,72.8 51.5,65.2 54.1,73.2" fill="#fff"/><polygon points="18.1,70.1 27,71 20.3,75.4" fill="#fff"/><polygon points="72.1,46 78.7,49.2 71.5,53.8" fill="#fff"/></g>
<text x="408.5" y="727" font-size="12.5" font-weight="bold" textLength="6.5" lengthAdjust="spacingAndGlyphs" fill="#000">E</text>
<text x="427" y="746.7" font-size="12" font-weight="bold" textLength="356.5" lengthAdjust="spacingAndGlyphs" fill="#000">DA neurons expressing NTRmCherry and Cas9-T2A-GFP</text>
<text transform="translate(491.2,861.6) rotate(-90)" font-size="13.9" font-weight="bold" text-anchor="middle" textLength="179" lengthAdjust="spacingAndGlyphs">Relative DA neuron intensity</text>
<g stroke="#000" stroke-width="1.3" fill="none">
<line x1="526.1" y1="790.2" x2="526.1" y2="932.8"/>
<line x1="526.1" y1="932.8" x2="680.4" y2="932.8"/>
<line x1="523" y1="932.8" x2="526.1" y2="932.8"/>
<line x1="523" y1="885.4" x2="526.1" y2="885.4"/>
<line x1="523" y1="838.1" x2="526.1" y2="838.1"/>
<line x1="523" y1="790.7" x2="526.1" y2="790.7"/>
<line x1="566.4" y1="932.8" x2="566.4" y2="935.8"/>
<line x1="646.2" y1="932.8" x2="646.2" y2="935.8"/>
</g>
<text x="520.5" y="935.1" font-size="6.5" text-anchor="end" font-weight="bold" fill="#000">0.0</text>
<text x="520.5" y="887.7" font-size="6.5" text-anchor="end" font-weight="bold" fill="#000">0.2</text>
<text x="520.5" y="840.4" font-size="6.5" text-anchor="end" font-weight="bold" fill="#000">0.4</text>
<text x="520.5" y="793.0" font-size="6.5" text-anchor="end" font-weight="bold" fill="#000">0.6</text>
<g stroke="#000" stroke-width="1.2">
<line x1="566.4" y1="837.8" x2="566.4" y2="845"/><line x1="559" y1="837.8" x2="575" y2="837.8"/>
<line x1="646.2" y1="808.6" x2="646.2" y2="816"/><line x1="637.5" y1="808.6" x2="655.6" y2="808.6"/>
</g>
<rect x="546.9" y="844.5" width="39.1" height="88.3" fill="#0000ff" stroke="#000" stroke-width="1.2"/>
<rect x="626.3" y="815.3" width="38.9" height="117.5" fill="#ff0000" stroke="#000" stroke-width="1.2"/>
<path d="M566.4,821 L566.4,788.1 L646.2,788.1 L646.2,802" fill="none" stroke="#000" stroke-width="1.3"/>
<text x="606.3" y="786.5" font-size="12" text-anchor="middle" font-weight="bold" fill="#000">*</text>
<text x="566.4" y="953.3" font-size="9" text-anchor="middle" font-weight="bold" textLength="51.3" lengthAdjust="spacingAndGlyphs" fill="#000">AGTR1a,1b</text>
<text x="566.4" y="965.5" font-size="9" text-anchor="middle" font-weight="bold" textLength="81.8" lengthAdjust="spacingAndGlyphs" fill="#000">Scrambled sgRNA</text>
<text x="566.4" y="976" font-size="9" text-anchor="middle" font-weight="bold" textLength="52.5" lengthAdjust="spacingAndGlyphs" fill="#000">+ 10mM MTZ</text>
<text x="646.2" y="953.3" font-size="9" text-anchor="middle" font-weight="bold" textLength="52" lengthAdjust="spacingAndGlyphs" fill="#000">AGTR1a,1b</text>
<text x="646.2" y="965.5" font-size="9" text-anchor="middle" font-weight="bold" textLength="28" lengthAdjust="spacingAndGlyphs" fill="#000">sgRNA</text>
<text x="646.2" y="976" font-size="9" text-anchor="middle" font-weight="bold" textLength="52.5" lengthAdjust="spacingAndGlyphs" fill="#000">+ 10mM MTZ</text>
</svg></body></html>
